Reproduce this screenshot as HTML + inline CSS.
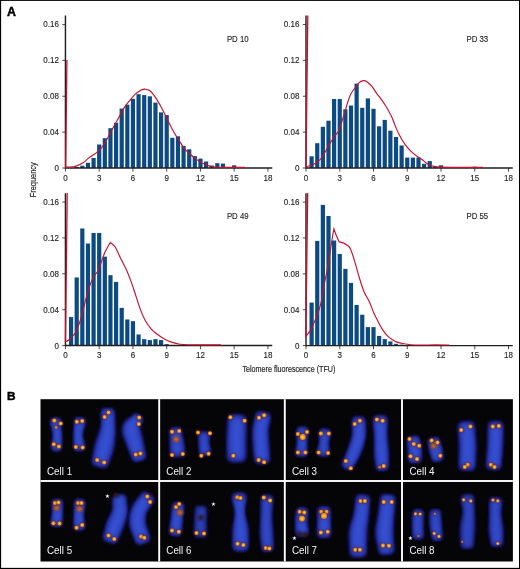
<!DOCTYPE html>
<html><head><meta charset="utf-8"><title>Figure</title>
<style>html,body{margin:0;padding:0;background:#fff}svg{display:block}text{font-family:"Liberation Sans",sans-serif}</style>
</head><body>
<svg width="520" height="569" viewBox="0 0 520 569">
<defs>
<filter id="b1" x="-50%" y="-50%" width="200%" height="200%"><feGaussianBlur stdDeviation="1.5"/></filter>
<filter id="b4" x="-50%" y="-50%" width="200%" height="200%"><feGaussianBlur stdDeviation="2"/></filter>
<filter id="b2" x="-100%" y="-100%" width="300%" height="300%"><feGaussianBlur stdDeviation="0.7"/></filter>
<filter id="b5" x="-100%" y="-100%" width="300%" height="300%"><feGaussianBlur stdDeviation="1.0"/></filter>
<filter id="b3" x="-50%" y="-50%" width="200%" height="200%"><feGaussianBlur stdDeviation="0.35"/></filter>
</defs>
<rect x="0" y="0" width="520" height="569" fill="#fff"/>
<rect x="0" y="0" width="1.1" height="569" fill="#000"/>
<rect x="0" y="0" width="520" height="0.9" fill="#000"/>
<rect x="519" y="0" width="1" height="569" fill="#000"/>
<rect x="0" y="567.85" width="520" height="1.15" fill="#000"/>
<text x="6.9" y="15.6" font-size="12.4" font-weight="bold" fill="#000" stroke="#000" stroke-width="0.45">A</text>
<text x="6.9" y="399.6" font-size="11.8" font-weight="bold" fill="#000" stroke="#000" stroke-width="0.45">B</text>
<g>
<rect x="74.60" y="167.00" width="4.2" height="1.00" fill="#0c4a83"/>
<rect x="80.23" y="165.70" width="4.2" height="2.30" fill="#0c4a83"/>
<rect x="85.85" y="162.80" width="4.2" height="5.20" fill="#0c4a83"/>
<rect x="91.48" y="158.00" width="4.2" height="10.00" fill="#0c4a83"/>
<rect x="97.10" y="144.50" width="4.2" height="23.50" fill="#0c4a83"/>
<rect x="102.73" y="138.20" width="4.2" height="29.80" fill="#0c4a83"/>
<rect x="108.35" y="128.20" width="4.2" height="39.80" fill="#0c4a83"/>
<rect x="113.98" y="122.80" width="4.2" height="45.20" fill="#0c4a83"/>
<rect x="119.60" y="108.60" width="4.2" height="59.40" fill="#0c4a83"/>
<rect x="125.23" y="104.70" width="4.2" height="63.30" fill="#0c4a83"/>
<rect x="130.85" y="98.80" width="4.2" height="69.20" fill="#0c4a83"/>
<rect x="136.47" y="94.20" width="4.2" height="73.80" fill="#0c4a83"/>
<rect x="142.10" y="95.10" width="4.2" height="72.90" fill="#0c4a83"/>
<rect x="147.72" y="96.30" width="4.2" height="71.70" fill="#0c4a83"/>
<rect x="153.35" y="102.60" width="4.2" height="65.40" fill="#0c4a83"/>
<rect x="158.97" y="112.40" width="4.2" height="55.60" fill="#0c4a83"/>
<rect x="164.60" y="115.10" width="4.2" height="52.90" fill="#0c4a83"/>
<rect x="170.22" y="137.80" width="4.2" height="30.20" fill="#0c4a83"/>
<rect x="175.85" y="136.30" width="4.2" height="31.70" fill="#0c4a83"/>
<rect x="181.47" y="145.90" width="4.2" height="22.10" fill="#0c4a83"/>
<rect x="187.10" y="149.30" width="4.2" height="18.70" fill="#0c4a83"/>
<rect x="192.72" y="156.10" width="4.2" height="11.90" fill="#0c4a83"/>
<rect x="198.35" y="158.60" width="4.2" height="9.40" fill="#0c4a83"/>
<rect x="203.97" y="161.50" width="4.2" height="6.50" fill="#0c4a83"/>
<rect x="209.60" y="165.50" width="4.2" height="2.50" fill="#0c4a83"/>
<rect x="215.22" y="163.20" width="4.2" height="4.80" fill="#0c4a83"/>
<rect x="220.85" y="163.60" width="4.2" height="4.40" fill="#0c4a83"/>
<rect x="232.10" y="165.30" width="4.2" height="2.70" fill="#0c4a83"/>
<path d="M65.45,15.60 V168.00 H272.25" fill="none" stroke="#231f20" stroke-width="1.45"/>
<line x1="62.25" y1="168.00" x2="65.45" y2="168.00" stroke="#231f20" stroke-width="0.8"/>
<text transform="translate(58.85,171.00) scale(0.87,1)" font-size="9.2" text-anchor="end" fill="#231f20" stroke="#231f20" stroke-width="0.15">0</text>
<line x1="62.25" y1="132.12" x2="65.45" y2="132.12" stroke="#231f20" stroke-width="0.8"/>
<text transform="translate(58.85,135.12) scale(0.87,1)" font-size="9.2" text-anchor="end" fill="#231f20" stroke="#231f20" stroke-width="0.15">0.04</text>
<line x1="62.25" y1="96.24" x2="65.45" y2="96.24" stroke="#231f20" stroke-width="0.8"/>
<text transform="translate(58.85,99.24) scale(0.87,1)" font-size="9.2" text-anchor="end" fill="#231f20" stroke="#231f20" stroke-width="0.15">0.08</text>
<line x1="62.25" y1="60.36" x2="65.45" y2="60.36" stroke="#231f20" stroke-width="0.8"/>
<text transform="translate(58.85,63.36) scale(0.87,1)" font-size="9.2" text-anchor="end" fill="#231f20" stroke="#231f20" stroke-width="0.15">0.12</text>
<line x1="62.25" y1="24.48" x2="65.45" y2="24.48" stroke="#231f20" stroke-width="0.8"/>
<text transform="translate(58.85,27.48) scale(0.87,1)" font-size="9.2" text-anchor="end" fill="#231f20" stroke="#231f20" stroke-width="0.15">0.16</text>
<line x1="65.45" y1="168.00" x2="65.45" y2="171.60" stroke="#231f20" stroke-width="0.8"/>
<text transform="translate(65.45,180.80) scale(0.87,1)" font-size="9.2" text-anchor="middle" fill="#231f20" stroke="#231f20" stroke-width="0.15">0</text>
<line x1="99.20" y1="168.00" x2="99.20" y2="171.60" stroke="#231f20" stroke-width="0.8"/>
<text transform="translate(99.20,180.80) scale(0.87,1)" font-size="9.2" text-anchor="middle" fill="#231f20" stroke="#231f20" stroke-width="0.15">3</text>
<line x1="132.95" y1="168.00" x2="132.95" y2="171.60" stroke="#231f20" stroke-width="0.8"/>
<text transform="translate(132.95,180.80) scale(0.87,1)" font-size="9.2" text-anchor="middle" fill="#231f20" stroke="#231f20" stroke-width="0.15">6</text>
<line x1="166.70" y1="168.00" x2="166.70" y2="171.60" stroke="#231f20" stroke-width="0.8"/>
<text transform="translate(166.70,180.80) scale(0.87,1)" font-size="9.2" text-anchor="middle" fill="#231f20" stroke="#231f20" stroke-width="0.15">9</text>
<line x1="200.45" y1="168.00" x2="200.45" y2="171.60" stroke="#231f20" stroke-width="0.8"/>
<text transform="translate(200.45,180.80) scale(0.87,1)" font-size="9.2" text-anchor="middle" fill="#231f20" stroke="#231f20" stroke-width="0.15">12</text>
<line x1="234.20" y1="168.00" x2="234.20" y2="171.60" stroke="#231f20" stroke-width="0.8"/>
<text transform="translate(234.20,180.80) scale(0.87,1)" font-size="9.2" text-anchor="middle" fill="#231f20" stroke="#231f20" stroke-width="0.15">15</text>
<line x1="267.95" y1="168.00" x2="267.95" y2="171.60" stroke="#231f20" stroke-width="0.8"/>
<text transform="translate(267.95,180.80) scale(0.87,1)" font-size="9.2" text-anchor="middle" fill="#231f20" stroke="#231f20" stroke-width="0.15">18</text>
<line x1="66.90" y1="60.10" x2="65.70" y2="167.20" stroke="#c8102e" stroke-width="1.3" stroke-linecap="butt"/>
<path d="M65.70,167.20 C66.50,167.17 68.89,167.14 70.50,167.00 C72.11,166.86 73.29,167.06 75.38,166.35 C77.48,165.63 80.83,164.10 83.08,162.69 C85.32,161.28 86.92,159.33 88.85,157.88 C90.77,156.44 92.69,155.48 94.62,154.04 C96.54,152.60 98.46,151.47 100.38,149.23 C102.31,146.99 104.23,143.78 106.15,140.58 C108.08,137.37 110.00,133.53 111.92,130.00 C113.85,126.47 115.77,122.95 117.69,119.42 C119.62,115.90 121.54,111.89 123.46,108.85 C125.38,105.80 127.31,103.56 129.23,101.15 C131.15,98.75 133.08,96.25 135.00,94.42 C136.92,92.60 139.17,91.09 140.77,90.19 C142.37,89.29 144.04,89.23 144.62,89.04 C145.19,88.85 143.40,88.78 144.23,89.04 C145.06,89.29 147.76,89.20 149.62,90.58 C151.47,91.96 153.46,94.58 155.38,97.31 C157.31,100.03 159.23,103.40 161.15,106.92 C163.08,110.45 165.00,114.62 166.92,118.46 C168.85,122.31 170.77,126.47 172.69,130.00 C174.62,133.53 176.54,136.57 178.46,139.62 C180.38,142.66 182.31,145.87 184.23,148.27 C186.15,150.67 188.08,152.28 190.00,154.04 C191.92,155.80 193.85,157.40 195.77,158.85 C197.69,160.29 199.62,161.63 201.54,162.69 C203.46,163.75 205.38,164.52 207.31,165.19 C209.23,165.87 211.15,166.39 213.08,166.73 C215.00,167.07 216.60,167.12 218.85,167.21 C221.09,167.31 222.21,167.29 226.54,167.31 C230.87,167.32 241.76,167.31 244.81,167.31" fill="none" stroke="#c8102e" stroke-width="1.15" stroke-linejoin="miter" stroke-linecap="round"/>
<text transform="translate(226.90,41.50) scale(0.85,1)" font-size="9.2" fill="#231f20" stroke="#231f20" stroke-width="0.15">PD 10</text>
</g>
<g>
<rect x="309.52" y="156.30" width="4.2" height="11.70" fill="#0c4a83"/>
<rect x="315.15" y="143.20" width="4.2" height="24.80" fill="#0c4a83"/>
<rect x="320.77" y="126.80" width="4.2" height="41.20" fill="#0c4a83"/>
<rect x="326.40" y="120.70" width="4.2" height="47.30" fill="#0c4a83"/>
<rect x="332.02" y="99.00" width="4.2" height="69.00" fill="#0c4a83"/>
<rect x="337.65" y="99.00" width="4.2" height="69.00" fill="#0c4a83"/>
<rect x="343.27" y="109.30" width="4.2" height="58.70" fill="#0c4a83"/>
<rect x="348.90" y="105.50" width="4.2" height="62.50" fill="#0c4a83"/>
<rect x="354.52" y="83.60" width="4.2" height="84.40" fill="#0c4a83"/>
<rect x="360.15" y="107.80" width="4.2" height="60.20" fill="#0c4a83"/>
<rect x="365.77" y="98.40" width="4.2" height="69.60" fill="#0c4a83"/>
<rect x="371.40" y="108.80" width="4.2" height="59.20" fill="#0c4a83"/>
<rect x="377.02" y="126.30" width="4.2" height="41.70" fill="#0c4a83"/>
<rect x="382.65" y="119.90" width="4.2" height="48.10" fill="#0c4a83"/>
<rect x="388.27" y="130.70" width="4.2" height="37.30" fill="#0c4a83"/>
<rect x="393.90" y="137.00" width="4.2" height="31.00" fill="#0c4a83"/>
<rect x="399.52" y="145.50" width="4.2" height="22.50" fill="#0c4a83"/>
<rect x="405.15" y="157.60" width="4.2" height="10.40" fill="#0c4a83"/>
<rect x="410.77" y="157.60" width="4.2" height="10.40" fill="#0c4a83"/>
<rect x="416.40" y="157.60" width="4.2" height="10.40" fill="#0c4a83"/>
<rect x="422.02" y="163.80" width="4.2" height="4.20" fill="#0c4a83"/>
<rect x="427.65" y="161.10" width="4.2" height="6.90" fill="#0c4a83"/>
<rect x="433.27" y="166.70" width="4.2" height="1.30" fill="#0c4a83"/>
<rect x="438.90" y="165.30" width="4.2" height="2.70" fill="#0c4a83"/>
<rect x="450.15" y="167.00" width="4.2" height="1.00" fill="#0c4a83"/>
<rect x="472.65" y="166.70" width="4.2" height="1.30" fill="#0c4a83"/>
<path d="M306.00,15.60 V168.00 H512.80" fill="none" stroke="#231f20" stroke-width="1.45"/>
<line x1="302.80" y1="168.00" x2="306.00" y2="168.00" stroke="#231f20" stroke-width="0.8"/>
<text transform="translate(299.40,171.00) scale(0.87,1)" font-size="9.2" text-anchor="end" fill="#231f20" stroke="#231f20" stroke-width="0.15">0</text>
<line x1="302.80" y1="132.12" x2="306.00" y2="132.12" stroke="#231f20" stroke-width="0.8"/>
<text transform="translate(299.40,135.12) scale(0.87,1)" font-size="9.2" text-anchor="end" fill="#231f20" stroke="#231f20" stroke-width="0.15">0.04</text>
<line x1="302.80" y1="96.24" x2="306.00" y2="96.24" stroke="#231f20" stroke-width="0.8"/>
<text transform="translate(299.40,99.24) scale(0.87,1)" font-size="9.2" text-anchor="end" fill="#231f20" stroke="#231f20" stroke-width="0.15">0.08</text>
<line x1="302.80" y1="60.36" x2="306.00" y2="60.36" stroke="#231f20" stroke-width="0.8"/>
<text transform="translate(299.40,63.36) scale(0.87,1)" font-size="9.2" text-anchor="end" fill="#231f20" stroke="#231f20" stroke-width="0.15">0.12</text>
<line x1="302.80" y1="24.48" x2="306.00" y2="24.48" stroke="#231f20" stroke-width="0.8"/>
<text transform="translate(299.40,27.48) scale(0.87,1)" font-size="9.2" text-anchor="end" fill="#231f20" stroke="#231f20" stroke-width="0.15">0.16</text>
<line x1="306.00" y1="168.00" x2="306.00" y2="171.60" stroke="#231f20" stroke-width="0.8"/>
<text transform="translate(306.00,180.80) scale(0.87,1)" font-size="9.2" text-anchor="middle" fill="#231f20" stroke="#231f20" stroke-width="0.15">0</text>
<line x1="339.75" y1="168.00" x2="339.75" y2="171.60" stroke="#231f20" stroke-width="0.8"/>
<text transform="translate(339.75,180.80) scale(0.87,1)" font-size="9.2" text-anchor="middle" fill="#231f20" stroke="#231f20" stroke-width="0.15">3</text>
<line x1="373.50" y1="168.00" x2="373.50" y2="171.60" stroke="#231f20" stroke-width="0.8"/>
<text transform="translate(373.50,180.80) scale(0.87,1)" font-size="9.2" text-anchor="middle" fill="#231f20" stroke="#231f20" stroke-width="0.15">6</text>
<line x1="407.25" y1="168.00" x2="407.25" y2="171.60" stroke="#231f20" stroke-width="0.8"/>
<text transform="translate(407.25,180.80) scale(0.87,1)" font-size="9.2" text-anchor="middle" fill="#231f20" stroke="#231f20" stroke-width="0.15">9</text>
<line x1="441.00" y1="168.00" x2="441.00" y2="171.60" stroke="#231f20" stroke-width="0.8"/>
<text transform="translate(441.00,180.80) scale(0.87,1)" font-size="9.2" text-anchor="middle" fill="#231f20" stroke="#231f20" stroke-width="0.15">12</text>
<line x1="474.75" y1="168.00" x2="474.75" y2="171.60" stroke="#231f20" stroke-width="0.8"/>
<text transform="translate(474.75,180.80) scale(0.87,1)" font-size="9.2" text-anchor="middle" fill="#231f20" stroke="#231f20" stroke-width="0.15">15</text>
<line x1="508.50" y1="168.00" x2="508.50" y2="171.60" stroke="#231f20" stroke-width="0.8"/>
<text transform="translate(508.50,180.80) scale(0.87,1)" font-size="9.2" text-anchor="middle" fill="#231f20" stroke="#231f20" stroke-width="0.15">18</text>
<line x1="307.80" y1="15.40" x2="306.00" y2="166.60" stroke="#c8102e" stroke-width="1.3" stroke-linecap="butt"/>
<path d="M306.00,166.60 C306.50,166.50 308.00,166.23 309.00,166.00 C310.00,165.77 311.00,165.60 312.00,165.20 C313.00,164.80 314.00,164.22 315.00,163.60 C316.00,162.98 317.00,162.35 318.00,161.50 C319.00,160.65 320.00,159.75 321.00,158.50 C322.00,157.25 322.69,156.19 324.00,154.00 C325.31,151.81 327.24,148.10 328.85,145.38 C330.46,142.67 332.05,140.10 333.65,137.69 C335.26,135.29 337.18,133.37 338.46,130.96 C339.74,128.56 340.22,126.63 341.35,123.27 C342.47,119.90 344.07,114.46 345.19,110.77 C346.31,107.08 347.12,103.97 348.08,101.15 C349.04,98.33 349.68,96.25 350.96,93.85 C352.24,91.44 354.33,88.65 355.77,86.73 C357.21,84.81 358.33,83.33 359.62,82.31 C360.90,81.28 362.18,80.64 363.46,80.58 C364.74,80.51 365.87,80.90 367.31,81.92 C368.75,82.95 370.51,84.74 372.12,86.73 C373.72,88.72 375.61,92.02 376.92,93.85 C378.24,95.67 378.53,95.67 380.00,97.69 C381.47,99.71 383.85,102.82 385.77,105.96 C387.69,109.10 389.94,113.17 391.54,116.54 C393.14,119.90 394.10,123.11 395.38,126.15 C396.67,129.20 397.63,131.76 399.23,134.81 C400.83,137.85 403.08,141.70 405.00,144.42 C406.92,147.15 408.85,149.23 410.77,151.15 C412.69,153.08 414.62,154.52 416.54,155.96 C418.46,157.40 420.38,158.43 422.31,159.81 C424.23,161.19 426.15,163.14 428.08,164.23 C430.00,165.32 431.60,165.87 433.85,166.35 C436.09,166.83 437.69,166.96 441.54,167.12 C445.38,167.28 450.10,167.28 456.92,167.31 C463.75,167.34 478.24,167.31 482.50,167.31" fill="none" stroke="#c8102e" stroke-width="1.15" stroke-linejoin="miter" stroke-linecap="round"/>
<text transform="translate(466.50,41.50) scale(0.85,1)" font-size="9.2" fill="#231f20" stroke="#231f20" stroke-width="0.15">PD 33</text>
</g>
<g>
<rect x="68.98" y="317.05" width="4.2" height="28.50" fill="#0c4a83"/>
<rect x="74.60" y="277.45" width="4.2" height="68.10" fill="#0c4a83"/>
<rect x="80.23" y="228.45" width="4.2" height="117.10" fill="#0c4a83"/>
<rect x="85.85" y="243.55" width="4.2" height="102.00" fill="#0c4a83"/>
<rect x="91.48" y="232.95" width="4.2" height="112.60" fill="#0c4a83"/>
<rect x="97.10" y="232.95" width="4.2" height="112.60" fill="#0c4a83"/>
<rect x="102.73" y="256.65" width="4.2" height="88.90" fill="#0c4a83"/>
<rect x="108.35" y="275.15" width="4.2" height="70.40" fill="#0c4a83"/>
<rect x="113.98" y="281.95" width="4.2" height="63.60" fill="#0c4a83"/>
<rect x="119.60" y="307.85" width="4.2" height="37.70" fill="#0c4a83"/>
<rect x="125.23" y="319.45" width="4.2" height="26.10" fill="#0c4a83"/>
<rect x="130.85" y="321.15" width="4.2" height="24.40" fill="#0c4a83"/>
<rect x="136.47" y="334.45" width="4.2" height="11.10" fill="#0c4a83"/>
<rect x="142.10" y="339.15" width="4.2" height="6.40" fill="#0c4a83"/>
<rect x="147.72" y="340.05" width="4.2" height="5.50" fill="#0c4a83"/>
<rect x="153.35" y="339.15" width="4.2" height="6.40" fill="#0c4a83"/>
<rect x="158.97" y="340.05" width="4.2" height="5.50" fill="#0c4a83"/>
<rect x="164.60" y="344.15" width="4.2" height="1.40" fill="#0c4a83"/>
<path d="M65.45,193.15 V345.55 H272.25" fill="none" stroke="#231f20" stroke-width="1.45"/>
<line x1="62.25" y1="345.55" x2="65.45" y2="345.55" stroke="#231f20" stroke-width="0.8"/>
<text transform="translate(58.85,348.55) scale(0.87,1)" font-size="9.2" text-anchor="end" fill="#231f20" stroke="#231f20" stroke-width="0.15">0</text>
<line x1="62.25" y1="309.67" x2="65.45" y2="309.67" stroke="#231f20" stroke-width="0.8"/>
<text transform="translate(58.85,312.67) scale(0.87,1)" font-size="9.2" text-anchor="end" fill="#231f20" stroke="#231f20" stroke-width="0.15">0.04</text>
<line x1="62.25" y1="273.79" x2="65.45" y2="273.79" stroke="#231f20" stroke-width="0.8"/>
<text transform="translate(58.85,276.79) scale(0.87,1)" font-size="9.2" text-anchor="end" fill="#231f20" stroke="#231f20" stroke-width="0.15">0.08</text>
<line x1="62.25" y1="237.91" x2="65.45" y2="237.91" stroke="#231f20" stroke-width="0.8"/>
<text transform="translate(58.85,240.91) scale(0.87,1)" font-size="9.2" text-anchor="end" fill="#231f20" stroke="#231f20" stroke-width="0.15">0.12</text>
<line x1="62.25" y1="202.03" x2="65.45" y2="202.03" stroke="#231f20" stroke-width="0.8"/>
<text transform="translate(58.85,205.03) scale(0.87,1)" font-size="9.2" text-anchor="end" fill="#231f20" stroke="#231f20" stroke-width="0.15">0.16</text>
<line x1="65.45" y1="345.55" x2="65.45" y2="349.15" stroke="#231f20" stroke-width="0.8"/>
<text transform="translate(65.45,358.35) scale(0.87,1)" font-size="9.2" text-anchor="middle" fill="#231f20" stroke="#231f20" stroke-width="0.15">0</text>
<line x1="99.20" y1="345.55" x2="99.20" y2="349.15" stroke="#231f20" stroke-width="0.8"/>
<text transform="translate(99.20,358.35) scale(0.87,1)" font-size="9.2" text-anchor="middle" fill="#231f20" stroke="#231f20" stroke-width="0.15">3</text>
<line x1="132.95" y1="345.55" x2="132.95" y2="349.15" stroke="#231f20" stroke-width="0.8"/>
<text transform="translate(132.95,358.35) scale(0.87,1)" font-size="9.2" text-anchor="middle" fill="#231f20" stroke="#231f20" stroke-width="0.15">6</text>
<line x1="166.70" y1="345.55" x2="166.70" y2="349.15" stroke="#231f20" stroke-width="0.8"/>
<text transform="translate(166.70,358.35) scale(0.87,1)" font-size="9.2" text-anchor="middle" fill="#231f20" stroke="#231f20" stroke-width="0.15">9</text>
<line x1="200.45" y1="345.55" x2="200.45" y2="349.15" stroke="#231f20" stroke-width="0.8"/>
<text transform="translate(200.45,358.35) scale(0.87,1)" font-size="9.2" text-anchor="middle" fill="#231f20" stroke="#231f20" stroke-width="0.15">12</text>
<line x1="234.20" y1="345.55" x2="234.20" y2="349.15" stroke="#231f20" stroke-width="0.8"/>
<text transform="translate(234.20,358.35) scale(0.87,1)" font-size="9.2" text-anchor="middle" fill="#231f20" stroke="#231f20" stroke-width="0.15">15</text>
<line x1="267.95" y1="345.55" x2="267.95" y2="349.15" stroke="#231f20" stroke-width="0.8"/>
<text transform="translate(267.95,358.35) scale(0.87,1)" font-size="9.2" text-anchor="middle" fill="#231f20" stroke="#231f20" stroke-width="0.15">18</text>
<line x1="67.20" y1="193.10" x2="65.50" y2="341.70" stroke="#c8102e" stroke-width="1.3" stroke-linecap="butt"/>
<path d="M65.50,341.70 C66.00,341.47 67.37,341.17 68.50,340.30 C69.63,339.43 71.05,337.97 72.30,336.50 C73.55,335.03 74.49,334.71 76.00,331.50 C77.51,328.29 79.66,322.77 81.34,317.23 C83.02,311.68 84.50,303.99 86.08,298.25 C87.67,292.52 89.44,286.60 90.83,282.84 C92.21,279.09 93.20,277.70 94.38,275.73 C95.57,273.75 96.76,273.36 97.94,270.98 C99.13,268.61 100.31,264.66 101.50,261.50 C102.68,258.34 103.59,255.18 105.06,252.01 C106.52,248.85 109.40,244.11 110.27,242.53 C111.06,243.24 113.32,244.23 115.02,246.80 C116.71,249.37 118.57,254.11 120.47,257.94 C122.37,261.78 124.62,265.85 126.40,269.80 C128.18,273.75 129.56,277.31 131.14,281.66 C132.72,286.00 134.30,291.14 135.88,295.88 C137.46,300.63 139.05,305.96 140.63,310.11 C142.21,314.26 143.59,317.62 145.37,320.78 C147.15,323.94 149.32,326.83 151.30,329.08 C153.27,331.34 155.05,332.64 157.23,334.30 C159.40,335.96 161.97,337.74 164.34,339.04 C166.71,340.35 168.88,341.26 171.45,342.12 C174.02,342.99 176.66,343.81 179.75,344.26 C182.84,344.70 185.79,344.69 190.00,344.80 C194.21,344.91 199.92,344.88 205.00,344.90 C210.08,344.92 217.92,344.90 220.50,344.90" fill="none" stroke="#c8102e" stroke-width="1.15" stroke-linejoin="miter" stroke-linecap="round"/>
<text transform="translate(226.90,219.20) scale(0.85,1)" font-size="9.2" fill="#231f20" stroke="#231f20" stroke-width="0.15">PD 49</text>
</g>
<g>
<rect x="309.52" y="302.60" width="4.2" height="43.00" fill="#0c4a83"/>
<rect x="315.15" y="240.90" width="4.2" height="104.70" fill="#0c4a83"/>
<rect x="320.77" y="204.90" width="4.2" height="140.70" fill="#0c4a83"/>
<rect x="326.40" y="216.00" width="4.2" height="129.60" fill="#0c4a83"/>
<rect x="332.02" y="240.50" width="4.2" height="105.10" fill="#0c4a83"/>
<rect x="337.65" y="254.00" width="4.2" height="91.60" fill="#0c4a83"/>
<rect x="343.27" y="268.90" width="4.2" height="76.70" fill="#0c4a83"/>
<rect x="348.90" y="282.90" width="4.2" height="62.70" fill="#0c4a83"/>
<rect x="354.52" y="305.00" width="4.2" height="40.60" fill="#0c4a83"/>
<rect x="360.15" y="314.70" width="4.2" height="30.90" fill="#0c4a83"/>
<rect x="365.77" y="327.10" width="4.2" height="18.50" fill="#0c4a83"/>
<rect x="371.40" y="327.10" width="4.2" height="18.50" fill="#0c4a83"/>
<rect x="377.02" y="335.90" width="4.2" height="9.70" fill="#0c4a83"/>
<rect x="382.65" y="339.10" width="4.2" height="6.50" fill="#0c4a83"/>
<rect x="388.27" y="341.40" width="4.2" height="4.20" fill="#0c4a83"/>
<rect x="393.90" y="343.80" width="4.2" height="1.80" fill="#0c4a83"/>
<rect x="399.52" y="344.60" width="4.2" height="1.00" fill="#0c4a83"/>
<rect x="405.15" y="344.90" width="4.2" height="0.70" fill="#0c4a83"/>
<path d="M306.00,193.20 V345.60 H512.80" fill="none" stroke="#231f20" stroke-width="1.45"/>
<line x1="302.80" y1="345.60" x2="306.00" y2="345.60" stroke="#231f20" stroke-width="0.8"/>
<text transform="translate(299.40,348.60) scale(0.87,1)" font-size="9.2" text-anchor="end" fill="#231f20" stroke="#231f20" stroke-width="0.15">0</text>
<line x1="302.80" y1="309.72" x2="306.00" y2="309.72" stroke="#231f20" stroke-width="0.8"/>
<text transform="translate(299.40,312.72) scale(0.87,1)" font-size="9.2" text-anchor="end" fill="#231f20" stroke="#231f20" stroke-width="0.15">0.04</text>
<line x1="302.80" y1="273.84" x2="306.00" y2="273.84" stroke="#231f20" stroke-width="0.8"/>
<text transform="translate(299.40,276.84) scale(0.87,1)" font-size="9.2" text-anchor="end" fill="#231f20" stroke="#231f20" stroke-width="0.15">0.08</text>
<line x1="302.80" y1="237.96" x2="306.00" y2="237.96" stroke="#231f20" stroke-width="0.8"/>
<text transform="translate(299.40,240.96) scale(0.87,1)" font-size="9.2" text-anchor="end" fill="#231f20" stroke="#231f20" stroke-width="0.15">0.12</text>
<line x1="302.80" y1="202.08" x2="306.00" y2="202.08" stroke="#231f20" stroke-width="0.8"/>
<text transform="translate(299.40,205.08) scale(0.87,1)" font-size="9.2" text-anchor="end" fill="#231f20" stroke="#231f20" stroke-width="0.15">0.16</text>
<line x1="306.00" y1="345.60" x2="306.00" y2="349.20" stroke="#231f20" stroke-width="0.8"/>
<text transform="translate(306.00,358.40) scale(0.87,1)" font-size="9.2" text-anchor="middle" fill="#231f20" stroke="#231f20" stroke-width="0.15">0</text>
<line x1="339.75" y1="345.60" x2="339.75" y2="349.20" stroke="#231f20" stroke-width="0.8"/>
<text transform="translate(339.75,358.40) scale(0.87,1)" font-size="9.2" text-anchor="middle" fill="#231f20" stroke="#231f20" stroke-width="0.15">3</text>
<line x1="373.50" y1="345.60" x2="373.50" y2="349.20" stroke="#231f20" stroke-width="0.8"/>
<text transform="translate(373.50,358.40) scale(0.87,1)" font-size="9.2" text-anchor="middle" fill="#231f20" stroke="#231f20" stroke-width="0.15">6</text>
<line x1="407.25" y1="345.60" x2="407.25" y2="349.20" stroke="#231f20" stroke-width="0.8"/>
<text transform="translate(407.25,358.40) scale(0.87,1)" font-size="9.2" text-anchor="middle" fill="#231f20" stroke="#231f20" stroke-width="0.15">9</text>
<line x1="441.00" y1="345.60" x2="441.00" y2="349.20" stroke="#231f20" stroke-width="0.8"/>
<text transform="translate(441.00,358.40) scale(0.87,1)" font-size="9.2" text-anchor="middle" fill="#231f20" stroke="#231f20" stroke-width="0.15">12</text>
<line x1="474.75" y1="345.60" x2="474.75" y2="349.20" stroke="#231f20" stroke-width="0.8"/>
<text transform="translate(474.75,358.40) scale(0.87,1)" font-size="9.2" text-anchor="middle" fill="#231f20" stroke="#231f20" stroke-width="0.15">15</text>
<line x1="508.50" y1="345.60" x2="508.50" y2="349.20" stroke="#231f20" stroke-width="0.8"/>
<text transform="translate(508.50,358.40) scale(0.87,1)" font-size="9.2" text-anchor="middle" fill="#231f20" stroke="#231f20" stroke-width="0.15">18</text>
<line x1="307.70" y1="193.10" x2="305.80" y2="336.50" stroke="#c8102e" stroke-width="1.3" stroke-linecap="butt"/>
<path d="M305.80,336.50 C306.56,335.48 308.66,333.52 310.39,330.39 C312.11,327.25 314.42,322.12 316.16,317.69 C317.89,313.27 319.51,308.97 320.77,303.85 C322.03,298.73 322.43,293.73 323.71,286.97 C324.99,280.20 327.07,271.16 328.46,263.25 C329.84,255.35 331.10,245.27 332.01,239.54 C332.92,233.81 333.59,230.65 333.91,228.87 C334.27,229.86 335.18,232.62 336.04,234.80 C336.91,236.97 338.61,240.73 339.13,241.91 C339.92,242.11 342.49,242.51 343.87,243.10 C345.25,243.69 346.32,244.48 347.43,245.47 C348.53,246.46 349.32,246.46 350.51,249.03 C351.70,251.60 353.08,256.14 354.54,260.88 C356.00,265.63 357.70,272.34 359.28,277.48 C360.86,282.62 362.37,287.70 364.03,291.71 C365.69,295.72 367.60,297.98 369.24,301.54 C370.87,305.10 372.31,309.62 373.85,313.08 C375.39,316.54 376.93,319.43 378.47,322.31 C380.01,325.20 381.54,328.08 383.08,330.39 C384.62,332.70 386.16,334.62 387.70,336.16 C389.24,337.70 390.78,338.62 392.31,339.62 C393.85,340.62 395.01,341.47 396.93,342.16 C398.85,342.85 401.55,343.35 403.85,343.77 C406.16,344.20 408.09,344.48 410.78,344.70 C413.47,344.91 415.97,345.01 420.01,345.04 C424.05,345.08 430.17,344.91 435.00,344.90 C439.83,344.89 446.67,344.98 449.00,345.00" fill="none" stroke="#c8102e" stroke-width="1.15" stroke-linejoin="miter" stroke-linecap="round"/>
<text transform="translate(466.50,219.20) scale(0.85,1)" font-size="9.2" fill="#231f20" stroke="#231f20" stroke-width="0.15">PD 55</text>
</g>
<text x="242.4" y="371.6" font-size="9.8" fill="#231f20" stroke="#231f20" stroke-width="0.2" textLength="93" lengthAdjust="spacingAndGlyphs">Telomere fluorescence (TFU)</text>
<text transform="translate(36.4,197.3) rotate(-90)" font-size="9.8" fill="#231f20" stroke="#231f20" stroke-width="0.2" textLength="35" lengthAdjust="spacingAndGlyphs">Frequency</text>
<rect x="40.50" y="399.20" width="472.40" height="162.30" fill="#050507"/>
<g>
<path d="M50.5,423.7 L50.6,424.4 L50.9,425.4 L51.2,426.5 L51.5,427.7 L51.9,429.0 L52.2,430.3 L52.5,431.6 L52.7,432.9 L52.9,434.1 L53.0,435.1 L53.0,436.1 L52.9,437.2 L52.8,438.4 L52.6,439.6 L52.3,440.8 L52.1,442.0 L51.9,443.0 L51.7,444.0 L51.5,444.9 L51.4,445.6 L51.3,447.9 L51.5,449.1 L52.0,449.9 L52.8,450.6 L53.9,451.0 L56.2,451.3 L58.6,451.3 L59.7,451.1 L60.6,450.6 L61.2,449.9 L61.6,448.7 L61.9,446.4 L61.9,445.8 L61.8,445.0 L61.8,444.0 L61.8,442.9 L61.8,441.6 L61.8,440.3 L61.7,438.9 L61.7,437.5 L61.7,436.1 L61.6,434.8 L61.6,433.4 L61.5,431.9 L61.4,430.4 L61.3,429.0 L61.2,427.5 L61.1,426.1 L61.1,424.9 L61.0,423.7 L61.0,422.8 L60.9,422.2 L60.5,419.8 L60.0,418.8 L59.3,418.1 L58.4,417.6 L57.3,417.5 L54.9,417.7 L52.6,418.2 L51.5,418.6 L50.8,419.3 L50.4,420.2 L50.2,421.4Z" fill="#1e1e84" filter="url(#b1)" opacity="1.0"/>
<path d="M51.7,423.5 L51.8,424.3 L52.1,425.2 L52.3,426.3 L52.6,427.5 L52.9,428.8 L53.2,430.1 L53.5,431.5 L53.7,432.8 L53.9,434.0 L54.0,435.1 L54.0,436.1 L53.9,437.3 L53.8,438.5 L53.6,439.7 L53.4,440.9 L53.2,442.1 L53.0,443.1 L52.8,444.1 L52.7,445.0 L52.6,445.7 L52.5,447.5 L52.7,448.4 L53.1,449.0 L53.7,449.5 L54.5,449.8 L56.3,450.1 L58.1,450.1 L59.0,449.9 L59.6,449.6 L60.1,449.0 L60.4,448.1 L60.7,446.3 L60.7,445.7 L60.7,444.9 L60.7,443.9 L60.7,442.8 L60.7,441.5 L60.7,440.2 L60.7,438.9 L60.7,437.5 L60.7,436.1 L60.6,434.8 L60.6,433.4 L60.5,432.0 L60.4,430.6 L60.3,429.1 L60.1,427.7 L60.0,426.3 L59.9,425.0 L59.8,423.9 L59.8,423.0 L59.7,422.3 L59.4,420.6 L59.0,419.7 L58.5,419.2 L57.8,418.8 L56.9,418.7 L55.1,418.9 L53.3,419.3 L52.5,419.6 L51.9,420.1 L51.6,420.8 L51.5,421.7Z" fill="#2a3cb6" filter="url(#b1)" opacity="1.0"/>
<path d="M53.2,423.3 L53.3,424.0 L53.5,425.0 L53.8,426.1 L54.0,427.3 L54.3,428.6 L54.6,429.9 L54.8,431.3 L55.0,432.6 L55.2,433.9 L55.2,435.0 L55.2,436.1 L55.2,437.3 L55.1,438.5 L55.0,439.8 L54.8,441.0 L54.6,442.2 L54.5,443.3 L54.3,444.3 L54.2,445.1 L54.1,445.8 L54.0,446.9 L54.2,447.5 L54.4,447.9 L54.8,448.2 L55.3,448.4 L56.4,448.5 L57.5,448.6 L58.1,448.5 L58.5,448.2 L58.8,447.9 L59.0,447.3 L59.1,446.2 L59.2,445.6 L59.2,444.8 L59.2,443.8 L59.3,442.6 L59.3,441.4 L59.4,440.1 L59.4,438.8 L59.4,437.4 L59.4,436.1 L59.4,434.8 L59.3,433.5 L59.2,432.2 L59.1,430.7 L58.9,429.3 L58.8,427.9 L58.6,426.5 L58.5,425.3 L58.4,424.2 L58.3,423.3 L58.2,422.6 L58.0,421.4 L57.8,420.9 L57.4,420.6 L57.0,420.4 L56.4,420.3 L55.3,420.4 L54.2,420.6 L53.7,420.9 L53.4,421.2 L53.1,421.6 L53.1,422.2Z" fill="#3650d0" filter="url(#b4)" opacity="1.0"/>
<path d="M74.0,422.1 L74.0,422.8 L74.0,423.7 L74.0,424.8 L74.0,426.1 L73.9,427.5 L73.9,429.0 L73.9,430.5 L73.8,432.0 L73.8,433.4 L73.8,434.8 L73.7,436.2 L73.7,437.6 L73.7,438.9 L73.7,440.3 L73.7,441.6 L73.6,442.8 L73.6,443.9 L73.6,444.8 L73.5,445.5 L73.5,446.1 L74.0,448.6 L74.5,449.8 L75.2,450.6 L76.2,451.0 L77.4,451.2 L80.0,451.0 L82.5,450.6 L83.7,450.0 L84.5,449.3 L85.0,448.4 L85.2,447.1 L84.9,444.6 L84.8,443.9 L84.5,443.1 L84.2,442.2 L83.8,441.2 L83.5,440.2 L83.1,439.1 L82.8,438.0 L82.6,437.0 L82.4,435.9 L82.4,435.0 L82.5,434.0 L82.7,432.9 L83.0,431.6 L83.3,430.3 L83.7,429.0 L84.1,427.8 L84.5,426.6 L84.9,425.5 L85.2,424.5 L85.4,423.8 L85.7,421.2 L85.5,420.0 L85.0,419.0 L84.2,418.3 L83.1,417.7 L80.6,417.2 L78.0,417.0 L76.7,417.1 L75.8,417.6 L75.0,418.4 L74.5,419.6Z" fill="#1e1e84" filter="url(#b1)" opacity="1.0"/>
<path d="M75.3,422.3 L75.3,423.0 L75.2,423.9 L75.2,425.0 L75.1,426.3 L75.1,427.7 L75.0,429.1 L74.9,430.6 L74.8,432.1 L74.8,433.5 L74.8,434.9 L74.7,436.2 L74.7,437.5 L74.7,438.8 L74.8,440.1 L74.8,441.4 L74.8,442.6 L74.8,443.7 L74.8,444.6 L74.8,445.3 L74.8,445.9 L75.2,447.8 L75.6,448.7 L76.1,449.4 L76.9,449.7 L77.9,449.9 L79.8,449.7 L81.8,449.4 L82.7,449.0 L83.3,448.4 L83.6,447.7 L83.8,446.7 L83.6,444.7 L83.5,444.1 L83.2,443.3 L82.9,442.4 L82.6,441.4 L82.3,440.3 L82.0,439.2 L81.8,438.1 L81.6,437.0 L81.4,436.0 L81.4,435.0 L81.5,434.0 L81.7,432.8 L81.9,431.5 L82.2,430.2 L82.6,428.9 L82.9,427.6 L83.3,426.4 L83.6,425.3 L83.9,424.3 L84.1,423.6 L84.3,421.6 L84.1,420.6 L83.8,419.9 L83.2,419.3 L82.3,418.9 L80.4,418.5 L78.4,418.3 L77.4,418.5 L76.7,418.8 L76.1,419.4 L75.7,420.3Z" fill="#2a3cb6" filter="url(#b1)" opacity="1.0"/>
<path d="M77.0,422.5 L76.9,423.2 L76.8,424.1 L76.7,425.3 L76.6,426.5 L76.5,427.9 L76.3,429.3 L76.2,430.8 L76.1,432.2 L76.0,433.6 L76.0,434.9 L76.0,436.1 L76.0,437.4 L76.1,438.7 L76.1,440.0 L76.2,441.2 L76.3,442.4 L76.3,443.4 L76.4,444.3 L76.5,445.1 L76.5,445.7 L76.7,446.9 L77.0,447.5 L77.3,447.8 L77.8,448.1 L78.4,448.2 L79.6,448.1 L80.8,447.8 L81.4,447.6 L81.8,447.2 L82.0,446.8 L82.1,446.2 L82.0,444.9 L81.8,444.3 L81.7,443.5 L81.4,442.6 L81.2,441.6 L80.9,440.5 L80.7,439.4 L80.5,438.3 L80.3,437.1 L80.2,436.0 L80.2,435.0 L80.2,433.9 L80.4,432.7 L80.6,431.3 L80.9,430.0 L81.2,428.6 L81.5,427.3 L81.8,426.1 L82.0,425.0 L82.3,424.1 L82.4,423.3 L82.6,422.1 L82.5,421.5 L82.3,421.0 L81.9,420.7 L81.3,420.4 L80.1,420.2 L78.9,420.1 L78.3,420.1 L77.8,420.4 L77.5,420.7 L77.2,421.3Z" fill="#3650d0" filter="url(#b4)" opacity="1.0"/>
<path d="M100.7,415.3 L100.7,415.9 L100.7,416.6 L100.8,417.4 L100.8,418.3 L100.9,419.2 L100.9,420.1 L101.0,421.1 L101.0,422.0 L100.9,422.9 L100.9,423.7 L100.8,424.5 L100.7,425.3 L100.6,426.1 L100.4,426.8 L100.3,427.4 L100.1,428.1 L99.9,428.8 L99.6,429.5 L99.4,430.4 L99.1,431.2 L98.8,432.2 L98.4,433.3 L97.9,434.5 L97.4,435.8 L96.9,437.1 L96.4,438.5 L95.9,439.8 L95.4,441.2 L95.0,442.6 L94.6,443.9 L94.3,445.2 L94.0,446.5 L93.7,448.0 L93.4,449.4 L93.2,450.8 L93.0,452.2 L92.8,453.5 L92.6,454.6 L92.5,455.6 L92.3,456.4 L91.5,460.3 L91.5,462.4 L92.1,464.0 L93.2,465.3 L95.0,466.3 L98.8,467.5 L102.8,468.4 L104.9,468.3 L106.4,467.7 L107.7,466.6 L108.8,464.9 L110.0,461.0 L110.2,460.3 L110.6,459.4 L111.0,458.3 L111.5,457.1 L112.0,455.8 L112.5,454.4 L113.0,452.9 L113.4,451.5 L113.9,450.0 L114.2,448.6 L114.5,447.2 L114.7,445.8 L114.9,444.3 L115.0,442.8 L115.2,441.3 L115.3,439.7 L115.4,438.2 L115.5,436.8 L115.6,435.3 L115.7,434.0 L115.7,432.7 L115.7,431.6 L115.7,430.5 L115.7,429.4 L115.6,428.4 L115.5,427.5 L115.5,426.6 L115.4,425.7 L115.3,424.9 L115.3,424.0 L115.2,423.0 L115.2,421.9 L115.2,420.8 L115.2,419.7 L115.1,418.6 L115.1,417.7 L115.1,416.8 L115.1,416.0 L115.1,415.3 L115.0,414.8 L114.8,411.6 L114.3,410.1 L113.5,409.0 L112.4,408.3 L110.8,407.9 L107.6,407.9 L104.4,408.1 L102.9,408.6 L101.8,409.4 L101.1,410.6 L100.7,412.1Z" fill="#1e1e84" filter="url(#b1)" opacity="1.0"/>
<path d="M102.3,415.3 L102.3,415.8 L102.4,416.5 L102.4,417.3 L102.5,418.2 L102.5,419.1 L102.6,420.1 L102.6,421.1 L102.6,422.0 L102.6,422.9 L102.5,423.7 L102.5,424.6 L102.4,425.4 L102.3,426.1 L102.2,426.8 L102.0,427.6 L101.9,428.3 L101.7,429.0 L101.5,429.8 L101.3,430.6 L101.0,431.6 L100.7,432.6 L100.3,433.7 L99.9,435.0 L99.5,436.3 L99.0,437.6 L98.5,439.0 L98.1,440.4 L97.6,441.7 L97.2,443.1 L96.9,444.4 L96.5,445.7 L96.2,447.1 L95.9,448.5 L95.6,450.0 L95.4,451.4 L95.1,452.8 L94.9,454.0 L94.7,455.2 L94.5,456.2 L94.4,456.9 L93.7,460.0 L93.8,461.5 L94.2,462.8 L95.0,463.7 L96.4,464.6 L99.4,465.5 L102.4,466.1 L104.0,466.1 L105.2,465.7 L106.2,464.8 L107.0,463.5 L107.9,460.5 L108.2,459.8 L108.5,458.9 L108.9,457.8 L109.3,456.6 L109.8,455.2 L110.3,453.8 L110.8,452.4 L111.2,450.9 L111.6,449.4 L111.9,448.1 L112.2,446.7 L112.5,445.3 L112.7,443.8 L112.9,442.3 L113.1,440.8 L113.3,439.3 L113.4,437.8 L113.5,436.4 L113.7,435.0 L113.8,433.7 L113.8,432.5 L113.9,431.3 L113.9,430.3 L113.9,429.3 L113.8,428.3 L113.8,427.4 L113.7,426.5 L113.7,425.7 L113.7,424.8 L113.6,424.0 L113.6,423.0 L113.6,421.9 L113.5,420.8 L113.5,419.7 L113.5,418.7 L113.5,417.7 L113.4,416.8 L113.4,416.0 L113.4,415.4 L113.4,414.9 L113.2,412.4 L112.8,411.3 L112.2,410.4 L111.3,409.9 L110.1,409.6 L107.7,409.5 L105.2,409.7 L104.0,410.1 L103.2,410.7 L102.6,411.6 L102.3,412.8Z" fill="#2a3cb6" filter="url(#b1)" opacity="1.0"/>
<path d="M104.4,415.2 L104.4,415.7 L104.4,416.4 L104.5,417.2 L104.5,418.1 L104.6,419.0 L104.6,420.0 L104.7,421.0 L104.7,422.0 L104.7,422.9 L104.6,423.8 L104.6,424.6 L104.5,425.4 L104.4,426.2 L104.3,426.9 L104.2,427.7 L104.1,428.4 L104.0,429.2 L103.8,430.1 L103.6,431.0 L103.4,432.0 L103.1,433.0 L102.8,434.2 L102.5,435.5 L102.1,436.8 L101.7,438.2 L101.2,439.6 L100.8,441.0 L100.4,442.4 L100.0,443.8 L99.7,445.1 L99.4,446.4 L99.0,447.8 L98.7,449.3 L98.4,450.7 L98.1,452.1 L97.8,453.5 L97.5,454.7 L97.3,455.9 L97.1,456.8 L96.9,457.6 L96.5,459.5 L96.5,460.5 L96.8,461.2 L97.3,461.9 L98.2,462.4 L100.0,462.9 L102.0,463.3 L102.9,463.3 L103.7,463.0 L104.3,462.5 L104.8,461.7 L105.4,459.8 L105.6,459.1 L105.9,458.2 L106.3,457.1 L106.7,455.8 L107.1,454.5 L107.5,453.1 L108.0,451.6 L108.4,450.2 L108.8,448.7 L109.1,447.4 L109.4,446.0 L109.7,444.6 L109.9,443.2 L110.2,441.7 L110.4,440.2 L110.7,438.7 L110.9,437.3 L111.1,435.9 L111.2,434.5 L111.4,433.3 L111.5,432.1 L111.6,431.0 L111.6,430.0 L111.6,429.1 L111.6,428.2 L111.6,427.3 L111.6,426.5 L111.6,425.6 L111.6,424.8 L111.5,423.9 L111.5,422.9 L111.5,421.9 L111.5,420.9 L111.5,419.8 L111.4,418.8 L111.4,417.8 L111.4,416.9 L111.3,416.1 L111.3,415.5 L111.3,415.0 L111.2,413.4 L110.9,412.7 L110.6,412.2 L110.0,411.8 L109.3,411.6 L107.7,411.6 L106.2,411.7 L105.5,412.0 L104.9,412.4 L104.6,412.9 L104.4,413.7Z" fill="#3650d0" filter="url(#b4)" opacity="1.0"/>
<path d="M131.6,416.7 L131.2,416.8 L130.6,417.0 L129.8,417.4 L128.7,418.0 L127.5,418.8 L126.2,419.8 L124.9,421.1 L123.6,422.8 L122.6,424.9 L121.8,427.4 L121.6,429.9 L121.8,432.0 L122.1,433.9 L122.5,435.7 L123.1,437.3 L123.6,438.7 L124.2,440.1 L124.7,441.4 L125.2,442.5 L125.6,443.6 L126.1,444.9 L126.6,446.3 L127.2,447.8 L127.8,449.3 L128.4,450.7 L129.0,452.0 L129.5,453.3 L130.0,454.4 L130.4,455.3 L130.7,456.0 L131.8,459.3 L132.8,460.7 L133.9,461.6 L135.2,462.0 L136.9,462.0 L140.3,461.2 L143.5,460.1 L144.9,459.2 L145.8,458.1 L146.3,456.7 L146.3,455.0 L145.5,451.7 L145.3,450.9 L145.1,449.9 L144.9,448.7 L144.7,447.3 L144.5,445.9 L144.2,444.4 L143.9,442.9 L143.7,441.5 L143.4,440.1 L143.2,438.7 L142.9,437.2 L142.5,435.7 L142.2,434.3 L141.9,433.0 L141.6,431.8 L141.4,430.8 L141.3,430.0 L141.2,429.4 L141.1,429.2 L140.9,429.5 L140.6,429.9 L140.3,430.0 L140.1,429.7 L140.0,429.1 L140.0,428.2 L140.1,427.3 L140.4,426.4 L140.7,425.4 L141.1,424.4 L141.4,423.6 L142.8,421.4 L143.2,420.1 L143.3,419.0 L142.9,418.0 L142.1,416.9 L140.0,415.3 L137.7,413.8 L136.4,413.4 L135.3,413.4 L134.3,413.7 L133.2,414.6Z" fill="#1e1e84" filter="url(#b1)" opacity="1.0"/>
<path d="M132.7,417.5 L132.3,417.7 L131.8,418.0 L131.0,418.4 L130.0,419.1 L128.9,419.9 L127.8,420.9 L126.7,422.1 L125.6,423.6 L124.6,425.5 L124.1,427.7 L123.9,429.8 L124.0,431.7 L124.3,433.5 L124.7,435.1 L125.2,436.6 L125.7,438.1 L126.3,439.4 L126.8,440.7 L127.2,441.9 L127.6,443.0 L128.1,444.3 L128.6,445.8 L129.1,447.2 L129.7,448.7 L130.3,450.1 L130.8,451.5 L131.3,452.8 L131.8,453.9 L132.1,454.8 L132.4,455.5 L133.3,458.0 L134.0,459.1 L134.8,459.8 L135.9,460.2 L137.2,460.1 L139.8,459.5 L142.2,458.7 L143.4,457.9 L144.0,457.1 L144.4,456.1 L144.4,454.7 L143.8,452.2 L143.6,451.4 L143.4,450.4 L143.1,449.2 L142.9,447.9 L142.6,446.5 L142.3,445.0 L142.0,443.5 L141.7,442.0 L141.4,440.6 L141.2,439.3 L140.8,437.9 L140.5,436.4 L140.1,435.0 L139.8,433.7 L139.5,432.4 L139.2,431.4 L139.1,430.4 L138.9,429.7 L138.8,429.3 L138.7,429.3 L138.6,429.4 L138.4,429.2 L138.3,428.7 L138.4,428.0 L138.5,427.2 L138.8,426.3 L139.1,425.4 L139.5,424.5 L139.9,423.6 L140.2,422.8 L141.3,421.1 L141.7,420.1 L141.7,419.3 L141.4,418.5 L140.8,417.7 L139.1,416.4 L137.4,415.3 L136.4,414.9 L135.6,414.9 L134.8,415.2 L134.0,415.9Z" fill="#2a3cb6" filter="url(#b1)" opacity="1.0"/>
<path d="M134.1,418.5 L133.8,418.8 L133.2,419.2 L132.5,419.7 L131.7,420.4 L130.7,421.2 L129.8,422.2 L128.8,423.3 L128.0,424.6 L127.2,426.2 L126.8,428.0 L126.7,429.7 L126.8,431.3 L127.1,432.9 L127.4,434.4 L127.9,435.8 L128.4,437.3 L128.9,438.6 L129.3,439.9 L129.8,441.1 L130.2,442.3 L130.6,443.6 L131.0,445.1 L131.5,446.5 L132.1,448.0 L132.6,449.4 L133.1,450.8 L133.5,452.1 L133.9,453.2 L134.3,454.2 L134.5,454.9 L135.1,456.4 L135.5,457.1 L136.1,457.6 L136.7,457.8 L137.5,457.8 L139.1,457.4 L140.7,456.9 L141.4,456.4 L141.8,455.9 L142.0,455.2 L142.0,454.4 L141.6,452.8 L141.4,452.0 L141.2,451.0 L140.9,449.9 L140.6,448.6 L140.3,447.2 L139.9,445.7 L139.6,444.2 L139.2,442.7 L138.9,441.3 L138.6,440.0 L138.3,438.6 L137.9,437.2 L137.5,435.8 L137.1,434.5 L136.8,433.2 L136.5,432.1 L136.3,431.0 L136.1,430.1 L136.0,429.4 L136.0,429.0 L135.9,428.6 L136.0,428.1 L136.1,427.5 L136.4,426.7 L136.7,425.8 L137.2,424.9 L137.6,424.1 L138.1,423.2 L138.5,422.5 L138.8,421.8 L139.5,420.8 L139.7,420.1 L139.7,419.6 L139.6,419.1 L139.2,418.6 L138.1,417.8 L137.1,417.1 L136.5,416.9 L135.9,416.9 L135.4,417.1 L134.9,417.5Z" fill="#3650d0" filter="url(#b4)" opacity="1.0"/>
<circle cx="56.2" cy="427.5" r="2.20" fill="#5a2030" opacity="0.5" filter="url(#b5)"/>
<circle cx="56.2" cy="427.5" r="1.40" fill="#d87818" filter="url(#b2)"/>
<circle cx="54.3" cy="420.4" r="2.90" fill="#5a2030" opacity="0.55" filter="url(#b5)"/>
<circle cx="54.3" cy="420.4" r="2.00" fill="#f08a18" filter="url(#b2)"/>
<circle cx="54.3" cy="420.4" r="1.00" fill="#ffc838" filter="url(#b3)"/>
<circle cx="60.8" cy="423.4" r="2.90" fill="#5a2030" opacity="0.55" filter="url(#b5)"/>
<circle cx="60.8" cy="423.4" r="2.00" fill="#f08a18" filter="url(#b2)"/>
<circle cx="60.8" cy="423.4" r="1.00" fill="#ffc838" filter="url(#b3)"/>
<circle cx="53.8" cy="444.2" r="2.90" fill="#5a2030" opacity="0.55" filter="url(#b5)"/>
<circle cx="53.8" cy="444.2" r="2.00" fill="#f08a18" filter="url(#b2)"/>
<circle cx="53.8" cy="444.2" r="1.00" fill="#ffc838" filter="url(#b3)"/>
<circle cx="58.9" cy="446.5" r="2.90" fill="#5a2030" opacity="0.55" filter="url(#b5)"/>
<circle cx="58.9" cy="446.5" r="2.00" fill="#f08a18" filter="url(#b2)"/>
<circle cx="58.9" cy="446.5" r="1.00" fill="#ffc838" filter="url(#b3)"/>
<circle cx="76.9" cy="421.8" r="2.90" fill="#5a2030" opacity="0.55" filter="url(#b5)"/>
<circle cx="76.9" cy="421.8" r="2.00" fill="#f08a18" filter="url(#b2)"/>
<circle cx="76.9" cy="421.8" r="1.00" fill="#ffc838" filter="url(#b3)"/>
<circle cx="82.2" cy="421.1" r="2.90" fill="#5a2030" opacity="0.55" filter="url(#b5)"/>
<circle cx="82.2" cy="421.1" r="2.00" fill="#f08a18" filter="url(#b2)"/>
<circle cx="82.2" cy="421.1" r="1.00" fill="#ffc838" filter="url(#b3)"/>
<circle cx="75.8" cy="446.9" r="2.90" fill="#5a2030" opacity="0.55" filter="url(#b5)"/>
<circle cx="75.8" cy="446.9" r="2.00" fill="#f08a18" filter="url(#b2)"/>
<circle cx="75.8" cy="446.9" r="1.00" fill="#ffc838" filter="url(#b3)"/>
<circle cx="82.7" cy="447.6" r="2.90" fill="#5a2030" opacity="0.55" filter="url(#b5)"/>
<circle cx="82.7" cy="447.6" r="2.00" fill="#f08a18" filter="url(#b2)"/>
<circle cx="82.7" cy="447.6" r="1.00" fill="#ffc838" filter="url(#b3)"/>
<circle cx="104.6" cy="416.9" r="2.90" fill="#5a2030" opacity="0.55" filter="url(#b5)"/>
<circle cx="104.6" cy="416.9" r="2.00" fill="#f08a18" filter="url(#b2)"/>
<circle cx="104.6" cy="416.9" r="1.00" fill="#ffc838" filter="url(#b3)"/>
<circle cx="108.5" cy="412.5" r="2.90" fill="#5a2030" opacity="0.55" filter="url(#b5)"/>
<circle cx="108.5" cy="412.5" r="2.00" fill="#f08a18" filter="url(#b2)"/>
<circle cx="108.5" cy="412.5" r="1.00" fill="#ffc838" filter="url(#b3)"/>
<circle cx="97.2" cy="459.9" r="2.90" fill="#5a2030" opacity="0.55" filter="url(#b5)"/>
<circle cx="97.2" cy="459.9" r="2.00" fill="#f08a18" filter="url(#b2)"/>
<circle cx="97.2" cy="459.9" r="1.00" fill="#ffc838" filter="url(#b3)"/>
<circle cx="104.2" cy="462.6" r="2.90" fill="#5a2030" opacity="0.55" filter="url(#b5)"/>
<circle cx="104.2" cy="462.6" r="2.00" fill="#f08a18" filter="url(#b2)"/>
<circle cx="104.2" cy="462.6" r="1.00" fill="#ffc838" filter="url(#b3)"/>
<circle cx="139.2" cy="417.6" r="2.90" fill="#5a2030" opacity="0.55" filter="url(#b5)"/>
<circle cx="139.2" cy="417.6" r="2.00" fill="#f08a18" filter="url(#b2)"/>
<circle cx="139.2" cy="417.6" r="1.00" fill="#ffc838" filter="url(#b3)"/>
<circle cx="138.8" cy="424.1" r="2.90" fill="#5a2030" opacity="0.55" filter="url(#b5)"/>
<circle cx="138.8" cy="424.1" r="2.00" fill="#f08a18" filter="url(#b2)"/>
<circle cx="138.8" cy="424.1" r="1.00" fill="#ffc838" filter="url(#b3)"/>
<circle cx="135.8" cy="454.5" r="2.90" fill="#5a2030" opacity="0.55" filter="url(#b5)"/>
<circle cx="135.8" cy="454.5" r="2.00" fill="#f08a18" filter="url(#b2)"/>
<circle cx="135.8" cy="454.5" r="1.00" fill="#ffc838" filter="url(#b3)"/>
<circle cx="140.4" cy="453.4" r="2.90" fill="#5a2030" opacity="0.55" filter="url(#b5)"/>
<circle cx="140.4" cy="453.4" r="2.00" fill="#f08a18" filter="url(#b2)"/>
<circle cx="140.4" cy="453.4" r="1.00" fill="#ffc838" filter="url(#b3)"/>
<text transform="translate(47.0,474.8) scale(0.91,1)" font-size="10.8" fill="#f4f4f4">Cell 1</text>
</g>
<g>
<path d="M169.4,434.2 L169.4,434.8 L169.4,435.6 L169.4,436.5 L169.4,437.6 L169.4,438.7 L169.4,439.8 L169.4,441.0 L169.4,442.0 L169.4,443.0 L169.4,443.9 L169.4,444.6 L169.3,445.4 L169.3,446.1 L169.3,446.8 L169.3,447.5 L169.3,448.1 L169.3,448.7 L169.3,449.2 L169.3,449.7 L169.3,450.0 L169.8,453.6 L170.4,455.2 L171.3,456.4 L172.6,457.2 L174.3,457.5 L177.9,457.4 L181.4,457.0 L183.1,456.4 L184.3,455.4 L185.0,454.2 L185.4,452.4 L185.3,448.9 L185.2,448.5 L185.2,448.1 L185.1,447.6 L185.0,447.0 L184.9,446.4 L184.8,445.7 L184.7,444.9 L184.6,444.1 L184.4,443.3 L184.3,442.5 L184.1,441.6 L183.9,440.6 L183.7,439.5 L183.5,438.4 L183.2,437.3 L183.0,436.2 L182.8,435.2 L182.6,434.3 L182.5,433.5 L182.3,432.9 L181.9,430.1 L181.4,428.7 L180.6,427.8 L179.5,427.2 L178.1,427.0 L175.2,427.1 L172.4,427.5 L171.0,428.1 L170.1,428.9 L169.5,429.9 L169.2,431.3Z" fill="#1e1e84" filter="url(#b1)" opacity="0.9"/>
<path d="M170.9,434.1 L170.9,434.7 L170.9,435.5 L170.9,436.4 L171.0,437.4 L171.0,438.5 L171.0,439.7 L171.0,440.8 L171.0,441.9 L171.1,442.9 L171.1,443.7 L171.1,444.5 L171.1,445.2 L171.1,446.0 L171.1,446.7 L171.1,447.4 L171.1,448.0 L171.2,448.6 L171.2,449.1 L171.2,449.5 L171.2,449.9 L171.5,452.6 L172.0,453.9 L172.7,454.8 L173.7,455.4 L175.0,455.7 L177.8,455.6 L180.5,455.3 L181.8,454.8 L182.7,454.1 L183.2,453.1 L183.5,451.7 L183.4,449.0 L183.4,448.6 L183.3,448.2 L183.3,447.7 L183.2,447.1 L183.1,446.5 L183.0,445.8 L182.9,445.1 L182.8,444.3 L182.7,443.5 L182.6,442.7 L182.4,441.8 L182.3,440.8 L182.1,439.7 L181.9,438.6 L181.6,437.5 L181.4,436.4 L181.3,435.3 L181.1,434.4 L180.9,433.7 L180.8,433.1 L180.5,430.9 L180.1,429.8 L179.5,429.1 L178.7,428.7 L177.6,428.5 L175.4,428.6 L173.2,428.9 L172.1,429.3 L171.4,429.9 L171.0,430.8 L170.8,431.9Z" fill="#2a3cb6" filter="url(#b1)" opacity="0.9"/>
<path d="M172.8,433.9 L172.8,434.5 L172.8,435.3 L172.9,436.2 L172.9,437.2 L173.0,438.3 L173.0,439.5 L173.1,440.6 L173.1,441.7 L173.2,442.7 L173.2,443.5 L173.3,444.3 L173.3,445.1 L173.3,445.8 L173.4,446.5 L173.4,447.2 L173.4,447.8 L173.4,448.4 L173.4,448.9 L173.5,449.4 L173.5,449.7 L173.7,451.4 L174.0,452.2 L174.4,452.8 L175.0,453.1 L175.9,453.3 L177.6,453.3 L179.3,453.1 L180.1,452.8 L180.7,452.3 L181.0,451.7 L181.2,450.9 L181.1,449.2 L181.1,448.8 L181.1,448.4 L181.0,447.9 L180.9,447.3 L180.9,446.6 L180.8,446.0 L180.7,445.2 L180.6,444.5 L180.5,443.7 L180.4,442.9 L180.3,442.0 L180.2,441.0 L180.0,439.9 L179.8,438.8 L179.6,437.7 L179.5,436.6 L179.3,435.5 L179.2,434.6 L179.1,433.8 L179.0,433.3 L178.8,431.9 L178.5,431.2 L178.1,430.8 L177.6,430.5 L176.9,430.4 L175.6,430.5 L174.2,430.7 L173.5,430.9 L173.1,431.3 L172.8,431.8 L172.7,432.5Z" fill="#3650d0" filter="url(#b4)" opacity="0.9"/>
<path d="M198.0,437.1 L198.0,437.5 L198.1,438.0 L198.1,438.6 L198.2,439.2 L198.2,440.0 L198.3,440.8 L198.4,441.6 L198.4,442.4 L198.5,443.2 L198.5,444.0 L198.5,444.8 L198.5,445.6 L198.6,446.3 L198.6,447.1 L198.6,447.9 L198.6,448.6 L198.5,449.2 L198.5,449.7 L198.5,450.2 L198.5,450.5 L199.0,453.2 L199.6,454.5 L200.3,455.4 L201.4,455.9 L202.7,456.1 L205.5,455.9 L208.3,455.4 L209.5,454.8 L210.4,454.1 L210.9,453.0 L211.1,451.6 L210.9,448.9 L210.8,448.5 L210.7,448.0 L210.5,447.5 L210.3,446.9 L210.1,446.3 L210.0,445.7 L209.8,445.1 L209.7,444.4 L209.5,443.9 L209.5,443.4 L209.5,442.8 L209.5,442.2 L209.5,441.5 L209.6,440.8 L209.6,440.1 L209.7,439.4 L209.8,438.8 L209.9,438.2 L210.0,437.6 L210.0,437.2 L209.9,434.6 L209.5,433.3 L208.9,432.4 L208.0,431.7 L206.7,431.3 L204.0,431.2 L201.4,431.3 L200.1,431.6 L199.2,432.3 L198.5,433.2 L198.1,434.5Z" fill="#1e1e84" filter="url(#b1)" opacity="0.85"/>
<path d="M199.4,437.1 L199.4,437.5 L199.4,438.0 L199.5,438.6 L199.5,439.3 L199.6,440.0 L199.6,440.8 L199.6,441.6 L199.7,442.4 L199.7,443.2 L199.8,443.9 L199.8,444.7 L199.8,445.4 L199.9,446.2 L199.9,447.0 L199.9,447.7 L199.9,448.4 L199.9,449.0 L199.9,449.5 L199.9,450.0 L199.9,450.3 L200.3,452.4 L200.7,453.4 L201.3,454.1 L202.1,454.5 L203.2,454.6 L205.3,454.5 L207.4,454.1 L208.4,453.6 L209.1,453.1 L209.5,452.3 L209.7,451.2 L209.5,449.1 L209.4,448.7 L209.3,448.2 L209.1,447.7 L209.0,447.1 L208.8,446.5 L208.6,445.8 L208.5,445.2 L208.4,444.6 L208.3,444.0 L208.2,443.4 L208.2,442.9 L208.2,442.2 L208.2,441.5 L208.3,440.8 L208.3,440.1 L208.4,439.4 L208.5,438.8 L208.5,438.2 L208.6,437.6 L208.6,437.2 L208.5,435.2 L208.2,434.2 L207.8,433.5 L207.1,433.0 L206.1,432.7 L204.0,432.6 L202.0,432.6 L201.0,432.9 L200.3,433.4 L199.8,434.1 L199.5,435.1Z" fill="#2a3cb6" filter="url(#b1)" opacity="0.85"/>
<path d="M201.1,437.2 L201.1,437.5 L201.1,438.0 L201.2,438.6 L201.2,439.3 L201.2,440.0 L201.2,440.8 L201.3,441.6 L201.3,442.3 L201.3,443.1 L201.4,443.8 L201.4,444.5 L201.4,445.3 L201.5,446.0 L201.5,446.7 L201.6,447.5 L201.6,448.1 L201.7,448.7 L201.7,449.3 L201.7,449.7 L201.7,450.1 L202.0,451.4 L202.2,452.0 L202.6,452.4 L203.1,452.7 L203.8,452.8 L205.1,452.7 L206.4,452.4 L207.0,452.2 L207.4,451.8 L207.7,451.3 L207.8,450.6 L207.7,449.3 L207.6,448.9 L207.5,448.5 L207.4,447.9 L207.3,447.3 L207.1,446.7 L207.0,446.1 L206.9,445.4 L206.8,444.7 L206.7,444.1 L206.6,443.5 L206.6,442.9 L206.6,442.3 L206.6,441.5 L206.6,440.8 L206.7,440.1 L206.7,439.4 L206.8,438.7 L206.8,438.1 L206.9,437.6 L206.9,437.2 L206.8,435.9 L206.7,435.3 L206.4,434.9 L205.9,434.6 L205.3,434.4 L204.0,434.3 L202.7,434.3 L202.1,434.5 L201.7,434.8 L201.4,435.3 L201.2,435.9Z" fill="#3650d0" filter="url(#b4)" opacity="0.85"/>
<path d="M226.9,423.6 L226.9,424.5 L226.8,425.6 L226.7,427.0 L226.7,428.5 L226.6,430.2 L226.5,431.9 L226.4,433.7 L226.3,435.4 L226.2,437.1 L226.2,438.7 L226.2,440.2 L226.1,441.9 L226.1,443.5 L226.1,445.1 L226.1,446.7 L226.2,448.2 L226.2,449.6 L226.2,450.8 L226.2,451.8 L226.2,452.6 L226.4,457.1 L227.1,459.4 L228.1,460.9 L229.7,462.0 L231.9,462.6 L236.5,462.8 L241.0,462.6 L243.2,462.0 L244.8,460.9 L245.9,459.3 L246.5,457.1 L246.7,452.5 L246.7,451.7 L246.7,450.7 L246.7,449.4 L246.7,448.1 L246.7,446.6 L246.7,445.1 L246.7,443.5 L246.7,442.0 L246.7,440.4 L246.7,439.0 L246.7,437.6 L246.7,436.0 L246.7,434.3 L246.8,432.6 L246.8,430.9 L246.8,429.3 L246.9,427.7 L246.9,426.4 L246.9,425.2 L246.9,424.3 L246.9,419.9 L246.3,417.7 L245.3,416.1 L243.8,415.0 L241.7,414.3 L237.3,414.0 L232.8,414.0 L230.6,414.6 L229.1,415.6 L228.0,417.1 L227.3,419.2Z" fill="#1e1e84" filter="url(#b1)" opacity="1.0"/>
<path d="M229.2,423.7 L229.2,424.6 L229.1,425.7 L229.1,427.1 L229.0,428.6 L228.9,430.3 L228.8,432.0 L228.7,433.8 L228.7,435.5 L228.6,437.2 L228.6,438.7 L228.5,440.3 L228.5,441.9 L228.5,443.5 L228.5,445.1 L228.5,446.7 L228.5,448.2 L228.5,449.5 L228.5,450.8 L228.6,451.8 L228.6,452.6 L228.7,456.1 L229.2,457.8 L230.1,459.0 L231.3,459.8 L233.0,460.3 L236.5,460.5 L240.0,460.3 L241.7,459.8 L242.9,459.0 L243.7,457.7 L244.2,456.1 L244.3,452.5 L244.3,451.7 L244.3,450.7 L244.3,449.5 L244.3,448.1 L244.3,446.6 L244.3,445.1 L244.3,443.5 L244.3,441.9 L244.3,440.4 L244.3,439.0 L244.3,437.5 L244.4,435.9 L244.4,434.3 L244.4,432.5 L244.5,430.8 L244.5,429.2 L244.5,427.7 L244.6,426.3 L244.6,425.1 L244.6,424.2 L244.6,420.8 L244.2,419.1 L243.4,417.9 L242.2,417.1 L240.6,416.5 L237.2,416.3 L233.8,416.3 L232.1,416.7 L230.9,417.5 L230.0,418.6 L229.5,420.3Z" fill="#2a3cb6" filter="url(#b1)" opacity="1.0"/>
<path d="M232.1,423.8 L232.1,424.7 L232.0,425.8 L232.0,427.2 L231.9,428.7 L231.8,430.4 L231.7,432.1 L231.7,433.9 L231.6,435.6 L231.6,437.2 L231.5,438.8 L231.5,440.3 L231.5,441.9 L231.5,443.5 L231.5,445.1 L231.5,446.7 L231.5,448.2 L231.5,449.5 L231.5,450.8 L231.5,451.8 L231.5,452.6 L231.6,454.8 L231.9,455.8 L232.5,456.6 L233.2,457.1 L234.3,457.4 L236.5,457.5 L238.6,457.4 L239.7,457.1 L240.5,456.6 L241.0,455.8 L241.3,454.7 L241.4,452.6 L241.4,451.7 L241.4,450.7 L241.4,449.5 L241.4,448.1 L241.3,446.6 L241.3,445.1 L241.3,443.5 L241.3,441.9 L241.4,440.4 L241.4,438.9 L241.4,437.5 L241.4,435.9 L241.5,434.2 L241.5,432.4 L241.5,430.7 L241.6,429.1 L241.6,427.6 L241.7,426.2 L241.7,425.0 L241.7,424.1 L241.7,422.0 L241.4,420.9 L241.0,420.2 L240.2,419.7 L239.2,419.3 L237.1,419.2 L234.9,419.2 L233.9,419.4 L233.2,419.9 L232.6,420.6 L232.3,421.7Z" fill="#3650d0" filter="url(#b4)" opacity="1.0"/>
<path d="M254.3,418.0 L254.2,418.6 L254.1,419.3 L253.9,420.2 L253.6,421.3 L253.4,422.5 L253.1,423.8 L252.8,425.3 L252.6,426.8 L252.4,428.3 L252.2,429.9 L252.2,431.5 L252.1,433.1 L252.1,434.7 L252.1,436.2 L252.2,437.8 L252.2,439.3 L252.3,440.8 L252.3,442.2 L252.4,443.6 L252.5,444.9 L252.6,446.3 L252.7,447.7 L252.8,449.1 L253.0,450.5 L253.1,451.8 L253.3,453.0 L253.4,454.2 L253.5,455.2 L253.6,456.0 L253.7,456.7 L254.2,460.3 L254.9,462.0 L255.8,463.2 L257.2,463.9 L259.0,464.3 L262.6,464.2 L266.3,463.7 L268.0,463.0 L269.2,462.0 L269.9,460.7 L270.3,458.9 L270.1,455.2 L270.1,454.5 L270.0,453.6 L270.0,452.6 L269.9,451.5 L269.8,450.3 L269.8,449.0 L269.7,447.7 L269.6,446.4 L269.5,445.1 L269.4,443.9 L269.4,442.6 L269.3,441.2 L269.1,439.8 L269.0,438.4 L268.9,437.0 L268.8,435.6 L268.8,434.3 L268.7,433.1 L268.7,431.9 L268.7,431.0 L268.8,430.0 L268.9,429.1 L269.1,428.0 L269.3,426.9 L269.5,425.8 L269.7,424.8 L269.9,423.8 L270.2,422.9 L270.3,422.0 L270.5,421.2 L271.0,417.6 L270.9,415.8 L270.3,414.4 L269.2,413.3 L267.6,412.4 L264.0,411.5 L260.4,411.0 L258.5,411.2 L257.1,411.8 L256.0,412.8 L255.2,414.5Z" fill="#1e1e84" filter="url(#b1)" opacity="1.0"/>
<path d="M256.2,418.4 L256.1,419.0 L255.9,419.7 L255.7,420.6 L255.5,421.7 L255.2,422.9 L254.9,424.2 L254.7,425.6 L254.5,427.0 L254.3,428.5 L254.1,430.1 L254.1,431.6 L254.0,433.1 L254.0,434.6 L254.1,436.2 L254.1,437.7 L254.1,439.2 L254.2,440.7 L254.3,442.1 L254.4,443.5 L254.4,444.8 L254.5,446.1 L254.6,447.5 L254.8,448.9 L254.9,450.3 L255.0,451.6 L255.2,452.9 L255.3,454.0 L255.4,455.0 L255.5,455.8 L255.6,456.5 L256.0,459.3 L256.5,460.6 L257.2,461.5 L258.3,462.1 L259.7,462.4 L262.5,462.3 L265.3,461.9 L266.6,461.4 L267.5,460.6 L268.1,459.6 L268.4,458.2 L268.2,455.4 L268.2,454.7 L268.1,453.8 L268.1,452.8 L268.0,451.7 L267.9,450.5 L267.8,449.2 L267.7,447.9 L267.6,446.6 L267.6,445.3 L267.5,444.0 L267.4,442.7 L267.3,441.3 L267.2,439.9 L267.1,438.5 L267.0,437.1 L266.9,435.7 L266.8,434.3 L266.8,433.1 L266.8,431.9 L266.8,430.8 L266.9,429.8 L267.0,428.8 L267.2,427.7 L267.4,426.6 L267.6,425.5 L267.8,424.4 L268.1,423.4 L268.3,422.4 L268.5,421.6 L268.6,420.9 L269.1,418.1 L268.9,416.7 L268.5,415.6 L267.6,414.7 L266.4,414.1 L263.6,413.4 L260.9,413.0 L259.4,413.1 L258.4,413.6 L257.5,414.4 L256.9,415.7Z" fill="#2a3cb6" filter="url(#b1)" opacity="1.0"/>
<path d="M258.5,418.9 L258.4,419.4 L258.2,420.2 L258.0,421.1 L257.8,422.2 L257.5,423.4 L257.3,424.6 L257.0,426.0 L256.8,427.4 L256.6,428.8 L256.5,430.2 L256.5,431.6 L256.4,433.1 L256.4,434.6 L256.5,436.1 L256.5,437.6 L256.6,439.1 L256.6,440.5 L256.7,442.0 L256.8,443.3 L256.9,444.6 L257.0,446.0 L257.1,447.3 L257.2,448.7 L257.3,450.1 L257.5,451.4 L257.6,452.6 L257.7,453.8 L257.8,454.8 L257.9,455.6 L258.0,456.3 L258.2,458.0 L258.5,458.9 L259.0,459.4 L259.6,459.8 L260.5,460.0 L262.3,459.9 L264.0,459.6 L264.8,459.3 L265.4,458.9 L265.8,458.2 L265.9,457.3 L265.9,455.6 L265.8,454.9 L265.8,454.0 L265.7,453.0 L265.6,451.9 L265.5,450.7 L265.4,449.4 L265.3,448.1 L265.2,446.7 L265.1,445.4 L265.0,444.1 L265.0,442.8 L264.9,441.5 L264.8,440.0 L264.7,438.6 L264.6,437.2 L264.5,435.8 L264.4,434.4 L264.4,433.1 L264.4,431.8 L264.4,430.7 L264.5,429.6 L264.7,428.5 L264.8,427.3 L265.1,426.1 L265.3,425.0 L265.5,423.9 L265.8,422.9 L266.0,421.9 L266.2,421.1 L266.3,420.4 L266.6,418.7 L266.5,417.8 L266.2,417.1 L265.7,416.6 L264.9,416.2 L263.2,415.7 L261.4,415.5 L260.5,415.6 L259.9,415.8 L259.3,416.4 L258.9,417.1Z" fill="#3650d0" filter="url(#b4)" opacity="1.0"/>
<circle cx="176.3" cy="439.3" r="3.60" fill="#5a2030" opacity="0.5" filter="url(#b5)"/>
<circle cx="176.3" cy="439.3" r="2.70" fill="#c0681c" filter="url(#b5)"/>
<circle cx="172.0" cy="431.7" r="2.90" fill="#5a2030" opacity="0.55" filter="url(#b5)"/>
<circle cx="172.0" cy="431.7" r="2.00" fill="#f08a18" filter="url(#b2)"/>
<circle cx="172.0" cy="431.7" r="1.00" fill="#ffc838" filter="url(#b3)"/>
<circle cx="179.2" cy="430.9" r="2.90" fill="#5a2030" opacity="0.55" filter="url(#b5)"/>
<circle cx="179.2" cy="430.9" r="2.00" fill="#f08a18" filter="url(#b2)"/>
<circle cx="179.2" cy="430.9" r="1.00" fill="#ffc838" filter="url(#b3)"/>
<circle cx="172.0" cy="455.0" r="2.90" fill="#5a2030" opacity="0.55" filter="url(#b5)"/>
<circle cx="172.0" cy="455.0" r="2.00" fill="#f08a18" filter="url(#b2)"/>
<circle cx="172.0" cy="455.0" r="1.00" fill="#ffc838" filter="url(#b3)"/>
<circle cx="182.8" cy="454.0" r="2.90" fill="#5a2030" opacity="0.55" filter="url(#b5)"/>
<circle cx="182.8" cy="454.0" r="2.00" fill="#f08a18" filter="url(#b2)"/>
<circle cx="182.8" cy="454.0" r="1.00" fill="#ffc838" filter="url(#b3)"/>
<circle cx="198.0" cy="432.4" r="2.90" fill="#5a2030" opacity="0.55" filter="url(#b5)"/>
<circle cx="198.0" cy="432.4" r="2.00" fill="#f08a18" filter="url(#b2)"/>
<circle cx="198.0" cy="432.4" r="1.00" fill="#ffc838" filter="url(#b3)"/>
<circle cx="210.0" cy="433.3" r="2.90" fill="#5a2030" opacity="0.55" filter="url(#b5)"/>
<circle cx="210.0" cy="433.3" r="2.00" fill="#f08a18" filter="url(#b2)"/>
<circle cx="210.0" cy="433.3" r="1.00" fill="#ffc838" filter="url(#b3)"/>
<circle cx="201.3" cy="455.7" r="2.90" fill="#5a2030" opacity="0.55" filter="url(#b5)"/>
<circle cx="201.3" cy="455.7" r="2.00" fill="#f08a18" filter="url(#b2)"/>
<circle cx="201.3" cy="455.7" r="1.00" fill="#ffc838" filter="url(#b3)"/>
<circle cx="208.6" cy="453.8" r="2.90" fill="#5a2030" opacity="0.55" filter="url(#b5)"/>
<circle cx="208.6" cy="453.8" r="2.00" fill="#f08a18" filter="url(#b2)"/>
<circle cx="208.6" cy="453.8" r="1.00" fill="#ffc838" filter="url(#b3)"/>
<circle cx="230.4" cy="417.2" r="2.90" fill="#5a2030" opacity="0.55" filter="url(#b5)"/>
<circle cx="230.4" cy="417.2" r="2.00" fill="#f08a18" filter="url(#b2)"/>
<circle cx="230.4" cy="417.2" r="1.00" fill="#ffc838" filter="url(#b3)"/>
<circle cx="244.6" cy="420.8" r="2.90" fill="#5a2030" opacity="0.55" filter="url(#b5)"/>
<circle cx="244.6" cy="420.8" r="2.00" fill="#f08a18" filter="url(#b2)"/>
<circle cx="244.6" cy="420.8" r="1.00" fill="#ffc838" filter="url(#b3)"/>
<circle cx="233.3" cy="455.7" r="2.90" fill="#5a2030" opacity="0.55" filter="url(#b5)"/>
<circle cx="233.3" cy="455.7" r="2.00" fill="#f08a18" filter="url(#b2)"/>
<circle cx="233.3" cy="455.7" r="1.00" fill="#ffc838" filter="url(#b3)"/>
<circle cx="259.0" cy="417.7" r="2.90" fill="#5a2030" opacity="0.55" filter="url(#b5)"/>
<circle cx="259.0" cy="417.7" r="2.00" fill="#f08a18" filter="url(#b2)"/>
<circle cx="259.0" cy="417.7" r="1.00" fill="#ffc838" filter="url(#b3)"/>
<circle cx="264.1" cy="415.3" r="2.90" fill="#5a2030" opacity="0.55" filter="url(#b5)"/>
<circle cx="264.1" cy="415.3" r="2.00" fill="#f08a18" filter="url(#b2)"/>
<circle cx="264.1" cy="415.3" r="1.00" fill="#ffc838" filter="url(#b3)"/>
<circle cx="258.6" cy="460.0" r="2.90" fill="#5a2030" opacity="0.55" filter="url(#b5)"/>
<circle cx="258.6" cy="460.0" r="2.00" fill="#f08a18" filter="url(#b2)"/>
<circle cx="258.6" cy="460.0" r="1.00" fill="#ffc838" filter="url(#b3)"/>
<circle cx="264.1" cy="462.2" r="2.90" fill="#5a2030" opacity="0.55" filter="url(#b5)"/>
<circle cx="264.1" cy="462.2" r="2.00" fill="#f08a18" filter="url(#b2)"/>
<circle cx="264.1" cy="462.2" r="1.00" fill="#ffc838" filter="url(#b3)"/>
<text transform="translate(166.3,474.8) scale(0.91,1)" font-size="10.8" fill="#f4f4f4">Cell 2</text>
</g>
<g>
<path d="M296.3,432.2 L296.4,432.8 L296.4,433.6 L296.5,434.5 L296.6,435.5 L296.7,436.6 L296.7,437.7 L296.8,438.8 L296.8,440.0 L296.9,441.0 L296.8,442.0 L296.8,442.9 L296.7,443.9 L296.5,444.9 L296.3,445.9 L296.2,446.9 L296.0,447.8 L295.8,448.6 L295.7,449.4 L295.5,450.0 L295.4,450.5 L295.4,453.3 L295.7,454.6 L296.3,455.6 L297.2,456.3 L298.5,456.7 L301.2,457.0 L304.0,457.0 L305.3,456.7 L306.3,456.1 L307.0,455.2 L307.4,453.9 L307.7,451.2 L307.7,450.7 L307.6,450.0 L307.5,449.3 L307.4,448.4 L307.4,447.5 L307.3,446.5 L307.2,445.5 L307.2,444.5 L307.2,443.5 L307.2,442.5 L307.3,441.5 L307.4,440.5 L307.5,439.3 L307.7,438.2 L307.9,437.1 L308.1,436.0 L308.2,435.0 L308.4,434.1 L308.5,433.4 L308.6,432.8 L308.6,430.0 L308.3,428.7 L307.7,427.7 L306.8,427.1 L305.5,426.6 L302.8,426.4 L300.0,426.4 L298.7,426.7 L297.7,427.3 L297.0,428.2 L296.6,429.5Z" fill="#1e1e84" filter="url(#b1)" opacity="0.88"/>
<path d="M297.8,432.3 L297.8,432.9 L297.8,433.6 L297.9,434.5 L297.9,435.5 L298.0,436.6 L298.0,437.8 L298.0,438.9 L298.1,440.0 L298.1,441.1 L298.0,442.1 L298.0,443.0 L297.9,444.0 L297.7,445.0 L297.6,446.0 L297.5,446.9 L297.3,447.9 L297.2,448.7 L297.0,449.5 L296.9,450.1 L296.9,450.6 L296.8,452.7 L297.1,453.8 L297.5,454.5 L298.2,455.0 L299.2,455.4 L301.3,455.6 L303.4,455.6 L304.4,455.4 L305.2,454.9 L305.7,454.2 L306.1,453.2 L306.3,451.1 L306.3,450.6 L306.2,450.0 L306.2,449.2 L306.1,448.3 L306.1,447.4 L306.0,446.4 L306.0,445.4 L306.0,444.4 L306.0,443.4 L306.0,442.4 L306.1,441.5 L306.2,440.4 L306.3,439.3 L306.4,438.2 L306.6,437.0 L306.7,435.9 L306.9,434.9 L307.0,434.0 L307.1,433.3 L307.2,432.7 L307.2,430.6 L306.9,429.6 L306.5,428.8 L305.8,428.3 L304.8,428.0 L302.7,427.8 L300.6,427.8 L299.6,428.0 L298.8,428.5 L298.3,429.2 L298.0,430.2Z" fill="#2a3cb6" filter="url(#b1)" opacity="0.88"/>
<path d="M299.5,432.4 L299.5,432.9 L299.5,433.7 L299.6,434.6 L299.6,435.6 L299.6,436.7 L299.6,437.8 L299.6,439.0 L299.6,440.1 L299.6,441.2 L299.5,442.1 L299.5,443.1 L299.4,444.1 L299.3,445.1 L299.2,446.1 L299.1,447.0 L299.0,447.9 L298.9,448.8 L298.8,449.6 L298.7,450.2 L298.6,450.7 L298.6,452.0 L298.8,452.7 L299.0,453.1 L299.5,453.5 L300.1,453.7 L301.4,453.8 L302.7,453.8 L303.4,453.7 L303.8,453.4 L304.2,453.0 L304.4,452.3 L304.5,451.0 L304.5,450.5 L304.5,449.9 L304.5,449.1 L304.5,448.2 L304.5,447.3 L304.4,446.3 L304.4,445.3 L304.5,444.3 L304.5,443.3 L304.5,442.4 L304.6,441.4 L304.6,440.3 L304.7,439.2 L304.9,438.1 L305.0,437.0 L305.1,435.9 L305.2,434.9 L305.3,434.0 L305.4,433.2 L305.4,432.6 L305.4,431.3 L305.3,430.7 L305.0,430.2 L304.5,429.9 L303.9,429.7 L302.6,429.5 L301.3,429.5 L300.7,429.7 L300.2,430.0 L299.9,430.4 L299.6,431.0Z" fill="#3650d0" filter="url(#b4)" opacity="0.88"/>
<path d="M318.4,434.2 L318.4,434.6 L318.6,435.2 L318.7,435.9 L318.8,436.7 L319.0,437.5 L319.2,438.4 L319.3,439.3 L319.3,440.2 L319.4,441.0 L319.3,441.8 L319.2,442.6 L319.0,443.5 L318.7,444.4 L318.4,445.3 L318.1,446.2 L317.8,447.1 L317.5,447.9 L317.2,448.6 L316.9,449.2 L316.8,449.6 L316.7,452.6 L316.9,454.0 L317.5,455.1 L318.5,455.9 L319.9,456.4 L322.8,456.8 L325.7,456.9 L327.2,456.6 L328.2,456.0 L329.0,455.0 L329.5,453.7 L329.9,450.8 L329.8,450.3 L329.7,449.6 L329.5,448.9 L329.4,448.1 L329.2,447.2 L329.0,446.2 L328.9,445.3 L328.8,444.4 L328.7,443.5 L328.7,442.7 L328.8,441.9 L329.0,441.0 L329.2,440.2 L329.5,439.3 L329.8,438.5 L330.1,437.7 L330.4,437.0 L330.7,436.3 L330.9,435.8 L331.1,435.3 L331.2,432.5 L330.9,431.1 L330.3,430.1 L329.4,429.3 L328.1,428.8 L325.3,428.4 L322.5,428.3 L321.1,428.6 L320.0,429.1 L319.3,430.0 L318.8,431.4Z" fill="#1e1e84" filter="url(#b1)" opacity="0.88"/>
<path d="M319.8,434.3 L319.9,434.8 L320.0,435.3 L320.0,436.0 L320.2,436.8 L320.3,437.6 L320.3,438.5 L320.4,439.4 L320.5,440.3 L320.5,441.1 L320.4,441.9 L320.3,442.7 L320.1,443.6 L319.9,444.5 L319.7,445.4 L319.4,446.3 L319.1,447.2 L318.9,448.0 L318.6,448.7 L318.4,449.3 L318.3,449.8 L318.2,452.0 L318.4,453.1 L318.9,454.0 L319.6,454.6 L320.7,455.0 L322.9,455.3 L325.2,455.3 L326.3,455.1 L327.1,454.7 L327.7,453.9 L328.1,452.9 L328.4,450.6 L328.4,450.1 L328.3,449.5 L328.2,448.8 L328.0,447.9 L327.9,447.0 L327.8,446.1 L327.7,445.2 L327.6,444.3 L327.6,443.4 L327.6,442.6 L327.7,441.8 L327.9,440.9 L328.1,440.1 L328.3,439.2 L328.6,438.4 L328.8,437.6 L329.1,436.9 L329.3,436.2 L329.5,435.6 L329.6,435.2 L329.7,433.0 L329.5,431.9 L329.0,431.2 L328.3,430.6 L327.3,430.2 L325.2,429.9 L323.0,429.8 L321.9,430.0 L321.1,430.4 L320.5,431.1 L320.1,432.2Z" fill="#2a3cb6" filter="url(#b1)" opacity="0.88"/>
<path d="M321.7,434.5 L321.7,434.9 L321.7,435.5 L321.7,436.2 L321.8,436.9 L321.8,437.8 L321.8,438.6 L321.9,439.5 L321.9,440.4 L321.8,441.2 L321.8,442.0 L321.7,442.9 L321.5,443.7 L321.4,444.6 L321.2,445.6 L321.0,446.5 L320.8,447.3 L320.6,448.1 L320.4,448.8 L320.3,449.5 L320.2,449.9 L320.1,451.3 L320.3,452.0 L320.6,452.5 L321.0,452.9 L321.7,453.2 L323.1,453.4 L324.5,453.4 L325.2,453.3 L325.7,453.0 L326.1,452.5 L326.3,451.9 L326.5,450.5 L326.5,450.0 L326.5,449.4 L326.4,448.6 L326.4,447.8 L326.3,446.9 L326.3,446.0 L326.2,445.1 L326.2,444.1 L326.2,443.3 L326.3,442.4 L326.4,441.6 L326.5,440.8 L326.7,439.9 L326.8,439.1 L327.0,438.2 L327.2,437.4 L327.4,436.7 L327.5,436.0 L327.7,435.5 L327.8,435.0 L327.8,433.7 L327.7,433.0 L327.4,432.5 L327.0,432.1 L326.3,431.9 L325.0,431.7 L323.6,431.6 L323.0,431.8 L322.5,432.1 L322.1,432.5 L321.8,433.1Z" fill="#3650d0" filter="url(#b4)" opacity="0.88"/>
<path d="M351.7,423.6 L351.7,424.5 L351.8,425.6 L351.8,426.8 L351.9,428.0 L352.0,429.3 L352.0,430.7 L352.0,432.0 L352.0,433.3 L351.9,434.4 L351.8,435.5 L351.5,436.6 L351.3,437.8 L350.9,439.1 L350.5,440.4 L350.0,441.8 L349.6,443.2 L349.1,444.6 L348.6,446.1 L348.1,447.4 L347.6,448.8 L347.2,450.0 L346.7,451.3 L346.2,452.6 L345.7,454.0 L345.2,455.3 L344.7,456.6 L344.2,457.8 L343.7,458.9 L343.3,459.9 L343.0,460.7 L341.9,463.2 L341.7,464.5 L341.9,465.6 L342.4,466.6 L343.5,467.6 L345.8,468.9 L348.4,469.9 L349.7,470.2 L350.8,470.0 L351.8,469.5 L352.7,468.4 L354.1,466.0 L354.4,465.4 L354.9,464.6 L355.5,463.6 L356.3,462.4 L357.0,461.2 L357.8,459.8 L358.6,458.4 L359.4,456.9 L360.1,455.4 L360.8,453.9 L361.4,452.5 L362.0,451.0 L362.5,449.5 L363.1,447.9 L363.6,446.2 L364.1,444.6 L364.6,442.9 L365.0,441.2 L365.4,439.4 L365.7,437.7 L366.0,435.8 L366.1,434.0 L366.2,432.2 L366.2,430.4 L366.1,428.8 L366.0,427.3 L366.0,425.9 L365.9,424.8 L365.8,423.9 L365.8,423.2 L365.6,420.1 L365.1,418.6 L364.3,417.5 L363.2,416.8 L361.7,416.4 L358.6,416.3 L355.4,416.6 L353.9,417.0 L352.8,417.8 L352.1,418.9 L351.7,420.5Z" fill="#1e1e84" filter="url(#b1)" opacity="1.0"/>
<path d="M353.3,423.6 L353.3,424.4 L353.4,425.5 L353.5,426.7 L353.5,427.9 L353.6,429.3 L353.6,430.7 L353.6,432.0 L353.6,433.4 L353.5,434.6 L353.4,435.7 L353.1,436.9 L352.8,438.2 L352.5,439.5 L352.1,440.9 L351.6,442.3 L351.1,443.8 L350.6,445.2 L350.1,446.6 L349.6,448.0 L349.1,449.3 L348.7,450.6 L348.2,451.9 L347.6,453.3 L347.1,454.7 L346.5,456.0 L346.0,457.3 L345.5,458.5 L345.0,459.6 L344.6,460.5 L344.3,461.3 L343.5,463.2 L343.3,464.3 L343.4,465.1 L343.8,465.9 L344.6,466.6 L346.5,467.6 L348.4,468.4 L349.4,468.6 L350.3,468.5 L351.1,468.0 L351.8,467.3 L352.8,465.4 L353.1,464.8 L353.6,463.9 L354.2,462.9 L354.9,461.8 L355.6,460.5 L356.4,459.2 L357.2,457.7 L357.9,456.3 L358.6,454.8 L359.3,453.3 L359.9,451.9 L360.4,450.4 L361.0,448.9 L361.5,447.3 L362.1,445.7 L362.6,444.1 L363.0,442.4 L363.4,440.8 L363.8,439.1 L364.1,437.4 L364.3,435.7 L364.5,433.9 L364.5,432.2 L364.5,430.5 L364.5,428.9 L364.4,427.4 L364.3,426.0 L364.3,424.9 L364.2,424.0 L364.2,423.3 L364.0,420.9 L363.6,419.7 L363.1,418.9 L362.2,418.3 L361.0,418.0 L358.6,418.0 L356.2,418.1 L355.0,418.5 L354.2,419.1 L353.7,420.0 L353.4,421.1Z" fill="#2a3cb6" filter="url(#b1)" opacity="1.0"/>
<path d="M355.3,423.5 L355.4,424.3 L355.4,425.4 L355.5,426.5 L355.6,427.8 L355.6,429.2 L355.7,430.6 L355.7,432.1 L355.6,433.5 L355.5,434.8 L355.4,436.0 L355.1,437.3 L354.8,438.7 L354.5,440.1 L354.0,441.5 L353.6,443.0 L353.1,444.4 L352.6,445.9 L352.0,447.3 L351.5,448.7 L351.0,450.1 L350.5,451.4 L350.0,452.7 L349.4,454.1 L348.8,455.5 L348.2,456.9 L347.7,458.1 L347.1,459.3 L346.6,460.4 L346.2,461.3 L345.9,462.1 L345.4,463.3 L345.3,463.9 L345.3,464.5 L345.6,464.9 L346.1,465.4 L347.2,466.0 L348.4,466.5 L349.1,466.6 L349.6,466.6 L350.1,466.3 L350.6,465.8 L351.2,464.6 L351.5,464.0 L352.0,463.1 L352.6,462.1 L353.2,460.9 L353.9,459.7 L354.7,458.3 L355.4,456.9 L356.1,455.4 L356.8,454.0 L357.4,452.6 L357.9,451.2 L358.5,449.7 L359.0,448.2 L359.6,446.7 L360.1,445.1 L360.6,443.5 L361.0,441.9 L361.5,440.3 L361.8,438.7 L362.1,437.1 L362.3,435.5 L362.4,433.8 L362.5,432.1 L362.5,430.5 L362.4,428.9 L362.4,427.5 L362.3,426.1 L362.2,425.0 L362.2,424.1 L362.1,423.3 L362.0,421.8 L361.8,421.1 L361.4,420.6 L360.9,420.2 L360.2,420.0 L358.7,420.0 L357.1,420.1 L356.4,420.4 L355.9,420.7 L355.6,421.3 L355.4,422.0Z" fill="#3650d0" filter="url(#b4)" opacity="1.0"/>
<path d="M372.8,422.7 L372.8,423.6 L373.0,424.6 L373.1,425.9 L373.3,427.3 L373.5,428.8 L373.6,430.4 L373.8,432.0 L374.0,433.6 L374.1,435.3 L374.2,436.8 L374.2,438.4 L374.2,440.0 L374.1,441.6 L374.1,443.3 L374.0,445.0 L373.9,446.6 L373.9,448.3 L373.9,449.9 L373.9,451.4 L373.9,452.8 L374.0,454.3 L374.1,455.7 L374.3,457.1 L374.5,458.5 L374.7,459.8 L374.9,461.0 L375.1,462.1 L375.3,463.1 L375.4,464.0 L375.5,464.6 L375.8,467.6 L376.3,469.0 L377.1,469.9 L378.1,470.6 L379.6,470.9 L382.5,470.9 L385.4,470.5 L386.8,470.1 L387.8,469.3 L388.4,468.3 L388.8,466.8 L388.7,463.9 L388.7,463.2 L388.8,462.3 L388.8,461.3 L388.9,460.2 L388.9,458.9 L389.0,457.6 L389.0,456.3 L389.0,454.9 L389.0,453.5 L389.0,452.1 L388.9,450.7 L388.7,449.2 L388.6,447.6 L388.4,446.0 L388.2,444.4 L387.9,442.7 L387.8,441.1 L387.6,439.4 L387.4,437.9 L387.4,436.3 L387.3,434.8 L387.3,433.2 L387.4,431.6 L387.4,429.9 L387.5,428.3 L387.6,426.8 L387.7,425.4 L387.8,424.2 L387.8,423.1 L387.9,422.3 L387.6,418.9 L387.1,417.3 L386.2,416.2 L385.1,415.4 L383.4,415.0 L380.1,415.0 L376.7,415.2 L375.1,415.7 L374.0,416.6 L373.2,417.7 L372.8,419.4Z" fill="#1e1e84" filter="url(#b1)" opacity="1.0"/>
<path d="M374.5,422.7 L374.6,423.5 L374.7,424.6 L374.8,425.8 L374.9,427.2 L375.1,428.7 L375.2,430.3 L375.4,431.9 L375.5,433.6 L375.6,435.2 L375.7,436.8 L375.7,438.3 L375.7,439.9 L375.7,441.5 L375.7,443.2 L375.6,444.9 L375.6,446.6 L375.6,448.2 L375.6,449.8 L375.6,451.3 L375.6,452.7 L375.7,454.2 L375.8,455.6 L376.0,457.0 L376.2,458.4 L376.3,459.7 L376.5,460.9 L376.7,462.0 L376.8,463.0 L377.0,463.9 L377.0,464.6 L377.3,466.8 L377.7,467.9 L378.2,468.6 L379.0,469.1 L380.2,469.4 L382.4,469.3 L384.7,469.1 L385.7,468.7 L386.5,468.1 L387.0,467.3 L387.2,466.2 L387.2,464.0 L387.2,463.3 L387.2,462.4 L387.2,461.4 L387.3,460.3 L387.3,459.0 L387.3,457.7 L387.3,456.3 L387.3,455.0 L387.3,453.6 L387.2,452.2 L387.2,450.8 L387.0,449.3 L386.9,447.7 L386.7,446.1 L386.5,444.4 L386.3,442.8 L386.2,441.1 L386.0,439.5 L385.9,437.9 L385.8,436.4 L385.8,434.8 L385.8,433.2 L385.8,431.6 L385.8,430.0 L385.9,428.4 L385.9,426.9 L386.0,425.5 L386.0,424.2 L386.1,423.2 L386.1,422.3 L385.9,419.7 L385.5,418.5 L384.9,417.6 L384.0,417.1 L382.7,416.7 L380.1,416.7 L377.5,416.9 L376.3,417.3 L375.4,417.9 L374.9,418.8 L374.5,420.1Z" fill="#2a3cb6" filter="url(#b1)" opacity="1.0"/>
<path d="M376.7,422.6 L376.7,423.4 L376.8,424.5 L376.9,425.7 L377.0,427.1 L377.1,428.7 L377.2,430.2 L377.3,431.9 L377.4,433.5 L377.5,435.1 L377.6,436.7 L377.6,438.2 L377.7,439.8 L377.7,441.5 L377.7,443.1 L377.7,444.8 L377.7,446.5 L377.7,448.1 L377.7,449.7 L377.8,451.2 L377.8,452.6 L377.9,454.0 L378.0,455.5 L378.1,456.9 L378.3,458.2 L378.4,459.6 L378.5,460.8 L378.7,461.9 L378.8,462.9 L378.9,463.8 L378.9,464.4 L379.1,465.9 L379.3,466.5 L379.7,467.0 L380.2,467.3 L380.9,467.4 L382.3,467.4 L383.7,467.3 L384.4,467.0 L384.8,466.7 L385.2,466.2 L385.3,465.5 L385.3,464.1 L385.3,463.4 L385.3,462.5 L385.3,461.5 L385.3,460.4 L385.2,459.1 L385.2,457.8 L385.2,456.5 L385.2,455.1 L385.1,453.7 L385.1,452.3 L385.0,450.9 L384.9,449.3 L384.8,447.8 L384.6,446.2 L384.5,444.5 L384.3,442.9 L384.2,441.2 L384.1,439.6 L384.0,438.0 L383.9,436.5 L383.9,434.9 L383.9,433.3 L383.8,431.7 L383.9,430.0 L383.9,428.4 L383.9,426.9 L383.9,425.5 L383.9,424.3 L383.9,423.2 L383.9,422.4 L383.8,420.8 L383.6,420.0 L383.2,419.5 L382.6,419.1 L381.8,418.9 L380.2,418.9 L378.6,419.0 L377.8,419.3 L377.3,419.7 L376.9,420.2 L376.7,421.0Z" fill="#3650d0" filter="url(#b4)" opacity="1.0"/>
<circle cx="379.8" cy="467.2" r="2.20" fill="#5a2030" opacity="0.5" filter="url(#b5)"/>
<circle cx="379.8" cy="467.2" r="1.40" fill="#d87818" filter="url(#b2)"/>
<circle cx="297.9" cy="433.9" r="2.90" fill="#5a2030" opacity="0.55" filter="url(#b5)"/>
<circle cx="297.9" cy="433.9" r="2.00" fill="#f08a18" filter="url(#b2)"/>
<circle cx="297.9" cy="433.9" r="1.00" fill="#ffc838" filter="url(#b3)"/>
<circle cx="307.0" cy="432.0" r="2.90" fill="#5a2030" opacity="0.55" filter="url(#b5)"/>
<circle cx="307.0" cy="432.0" r="2.00" fill="#f08a18" filter="url(#b2)"/>
<circle cx="307.0" cy="432.0" r="1.00" fill="#ffc838" filter="url(#b3)"/>
<circle cx="302.7" cy="437.0" r="3.80" fill="#5a2030" opacity="0.55" filter="url(#b5)"/>
<circle cx="302.7" cy="437.0" r="2.90" fill="#f08a18" filter="url(#b2)"/>
<circle cx="302.7" cy="437.0" r="1.70" fill="#ffc030" filter="url(#b2)"/>
<circle cx="297.9" cy="452.5" r="2.90" fill="#5a2030" opacity="0.55" filter="url(#b5)"/>
<circle cx="297.9" cy="452.5" r="2.00" fill="#f08a18" filter="url(#b2)"/>
<circle cx="297.9" cy="452.5" r="1.00" fill="#ffc838" filter="url(#b3)"/>
<circle cx="305.4" cy="452.5" r="2.90" fill="#5a2030" opacity="0.55" filter="url(#b5)"/>
<circle cx="305.4" cy="452.5" r="2.00" fill="#f08a18" filter="url(#b2)"/>
<circle cx="305.4" cy="452.5" r="1.00" fill="#ffc838" filter="url(#b3)"/>
<circle cx="320.9" cy="433.6" r="2.90" fill="#5a2030" opacity="0.55" filter="url(#b5)"/>
<circle cx="320.9" cy="433.6" r="2.00" fill="#f08a18" filter="url(#b2)"/>
<circle cx="320.9" cy="433.6" r="1.00" fill="#ffc838" filter="url(#b3)"/>
<circle cx="328.8" cy="433.6" r="2.90" fill="#5a2030" opacity="0.55" filter="url(#b5)"/>
<circle cx="328.8" cy="433.6" r="2.00" fill="#f08a18" filter="url(#b2)"/>
<circle cx="328.8" cy="433.6" r="1.00" fill="#ffc838" filter="url(#b3)"/>
<circle cx="318.6" cy="452.5" r="2.90" fill="#5a2030" opacity="0.55" filter="url(#b5)"/>
<circle cx="318.6" cy="452.5" r="2.00" fill="#f08a18" filter="url(#b2)"/>
<circle cx="318.6" cy="452.5" r="1.00" fill="#ffc838" filter="url(#b3)"/>
<circle cx="328.1" cy="453.1" r="2.90" fill="#5a2030" opacity="0.55" filter="url(#b5)"/>
<circle cx="328.1" cy="453.1" r="2.00" fill="#f08a18" filter="url(#b2)"/>
<circle cx="328.1" cy="453.1" r="1.00" fill="#ffc838" filter="url(#b3)"/>
<circle cx="354.7" cy="424.1" r="2.90" fill="#5a2030" opacity="0.55" filter="url(#b5)"/>
<circle cx="354.7" cy="424.1" r="2.00" fill="#f08a18" filter="url(#b2)"/>
<circle cx="354.7" cy="424.1" r="1.00" fill="#ffc838" filter="url(#b3)"/>
<circle cx="359.9" cy="420.7" r="2.90" fill="#5a2030" opacity="0.55" filter="url(#b5)"/>
<circle cx="359.9" cy="420.7" r="2.00" fill="#f08a18" filter="url(#b2)"/>
<circle cx="359.9" cy="420.7" r="1.00" fill="#ffc838" filter="url(#b3)"/>
<circle cx="345.8" cy="460.9" r="2.90" fill="#5a2030" opacity="0.55" filter="url(#b5)"/>
<circle cx="345.8" cy="460.9" r="2.00" fill="#f08a18" filter="url(#b2)"/>
<circle cx="345.8" cy="460.9" r="1.00" fill="#ffc838" filter="url(#b3)"/>
<circle cx="350.8" cy="468.3" r="2.90" fill="#5a2030" opacity="0.55" filter="url(#b5)"/>
<circle cx="350.8" cy="468.3" r="2.00" fill="#f08a18" filter="url(#b2)"/>
<circle cx="350.8" cy="468.3" r="1.00" fill="#ffc838" filter="url(#b3)"/>
<circle cx="376.9" cy="419.6" r="2.90" fill="#5a2030" opacity="0.55" filter="url(#b5)"/>
<circle cx="376.9" cy="419.6" r="2.00" fill="#f08a18" filter="url(#b2)"/>
<circle cx="376.9" cy="419.6" r="1.00" fill="#ffc838" filter="url(#b3)"/>
<circle cx="382.6" cy="420.7" r="2.90" fill="#5a2030" opacity="0.55" filter="url(#b5)"/>
<circle cx="382.6" cy="420.7" r="2.00" fill="#f08a18" filter="url(#b2)"/>
<circle cx="382.6" cy="420.7" r="1.00" fill="#ffc838" filter="url(#b3)"/>
<circle cx="383.7" cy="466.1" r="2.90" fill="#5a2030" opacity="0.55" filter="url(#b5)"/>
<circle cx="383.7" cy="466.1" r="2.00" fill="#f08a18" filter="url(#b2)"/>
<circle cx="383.7" cy="466.1" r="1.00" fill="#ffc838" filter="url(#b3)"/>
<text transform="translate(291.9,474.8) scale(0.91,1)" font-size="10.8" fill="#f4f4f4">Cell 3</text>
</g>
<g>
<path d="M407.1,443.7 L407.2,444.1 L407.2,444.7 L407.3,445.4 L407.4,446.1 L407.5,446.9 L407.5,447.6 L407.6,448.4 L407.6,449.1 L407.7,449.8 L407.7,450.3 L407.7,450.7 L407.7,451.3 L407.7,451.9 L407.7,452.6 L407.7,453.2 L407.7,453.9 L407.7,454.5 L407.7,455.1 L407.7,455.6 L407.7,456.1 L407.8,459.2 L408.2,460.8 L409.0,461.9 L410.0,462.7 L411.6,463.1 L414.8,463.3 L417.9,463.2 L419.5,462.8 L420.6,462.0 L421.4,461.0 L421.8,459.4 L422.0,456.2 L422.0,455.9 L422.0,455.5 L422.1,454.9 L422.1,454.2 L422.1,453.5 L422.1,452.7 L422.1,451.8 L422.1,451.0 L422.1,450.0 L422.0,449.1 L421.9,448.2 L421.7,447.3 L421.5,446.4 L421.4,445.5 L421.2,444.6 L421.0,443.8 L420.8,443.0 L420.6,442.4 L420.5,441.9 L420.4,441.5 L419.8,438.6 L419.1,437.2 L418.3,436.3 L417.2,435.8 L415.7,435.6 L412.7,435.9 L409.8,436.6 L408.4,437.2 L407.5,438.1 L407.0,439.2 L406.8,440.7Z" fill="#1e1e84" filter="url(#b1)" opacity="1.0"/>
<path d="M408.7,443.4 L408.7,443.9 L408.8,444.5 L408.9,445.1 L409.0,445.8 L409.0,446.6 L409.1,447.4 L409.2,448.2 L409.3,448.9 L409.3,449.6 L409.3,450.1 L409.4,450.7 L409.4,451.3 L409.4,451.9 L409.4,452.6 L409.4,453.3 L409.4,453.9 L409.4,454.6 L409.3,455.1 L409.3,455.7 L409.3,456.1 L409.4,458.5 L409.7,459.7 L410.3,460.6 L411.1,461.2 L412.3,461.5 L414.8,461.7 L417.2,461.6 L418.4,461.3 L419.3,460.7 L419.9,459.9 L420.2,458.7 L420.4,456.2 L420.4,455.9 L420.4,455.4 L420.4,454.9 L420.4,454.2 L420.4,453.5 L420.5,452.7 L420.5,451.8 L420.4,451.0 L420.4,450.1 L420.3,449.3 L420.2,448.4 L420.1,447.5 L419.9,446.6 L419.8,445.7 L419.6,444.9 L419.4,444.0 L419.2,443.3 L419.1,442.7 L419.0,442.2 L418.9,441.8 L418.4,439.5 L417.9,438.5 L417.2,437.8 L416.4,437.4 L415.2,437.2 L412.9,437.5 L410.7,438.0 L409.6,438.4 L409.0,439.1 L408.5,440.0 L408.4,441.1Z" fill="#2a3cb6" filter="url(#b1)" opacity="1.0"/>
<path d="M410.6,443.1 L410.6,443.5 L410.7,444.1 L410.8,444.8 L410.9,445.5 L411.0,446.3 L411.1,447.1 L411.2,447.9 L411.3,448.6 L411.4,449.3 L411.4,450.0 L411.4,450.6 L411.5,451.2 L411.5,451.9 L411.5,452.6 L411.5,453.3 L411.4,454.0 L411.4,454.6 L411.4,455.2 L411.4,455.7 L411.4,456.1 L411.5,457.6 L411.7,458.4 L412.0,458.9 L412.5,459.3 L413.3,459.5 L414.8,459.6 L416.3,459.5 L417.1,459.3 L417.6,459.0 L418.0,458.5 L418.2,457.7 L418.3,456.2 L418.3,455.8 L418.3,455.4 L418.3,454.8 L418.4,454.1 L418.4,453.4 L418.4,452.7 L418.4,451.9 L418.4,451.0 L418.3,450.2 L418.3,449.4 L418.2,448.6 L418.1,447.8 L417.9,446.9 L417.8,446.0 L417.6,445.2 L417.4,444.4 L417.3,443.6 L417.1,443.0 L417.0,442.5 L417.0,442.1 L416.7,440.7 L416.4,440.0 L415.9,439.6 L415.4,439.3 L414.7,439.2 L413.3,439.4 L411.8,439.7 L411.2,440.0 L410.8,440.4 L410.5,441.0 L410.4,441.7Z" fill="#3650d0" filter="url(#b4)" opacity="1.0"/>
<path d="M428.1,445.2 L428.2,445.6 L428.3,446.0 L428.4,446.6 L428.5,447.2 L428.6,447.9 L428.7,448.6 L428.8,449.3 L428.9,450.0 L429.1,450.7 L429.2,451.3 L429.4,451.8 L429.5,452.4 L429.7,453.1 L429.9,453.7 L430.1,454.3 L430.3,454.9 L430.5,455.5 L430.7,455.9 L430.8,456.4 L430.9,456.7 L431.7,459.4 L432.3,460.6 L433.2,461.4 L434.3,461.8 L435.7,461.9 L438.4,461.4 L441.1,460.7 L442.3,460.0 L443.1,459.1 L443.6,458.0 L443.6,456.6 L443.1,453.9 L443.1,453.6 L443.0,453.1 L443.0,452.6 L442.9,452.0 L442.8,451.4 L442.7,450.8 L442.6,450.1 L442.5,449.4 L442.4,448.7 L442.3,448.1 L442.1,447.5 L441.9,446.8 L441.7,446.1 L441.5,445.4 L441.2,444.7 L441.0,444.1 L440.8,443.5 L440.6,442.9 L440.4,442.5 L440.3,442.1 L439.5,439.5 L438.8,438.2 L437.9,437.5 L436.8,437.1 L435.4,437.0 L432.7,437.6 L430.0,438.4 L428.8,439.1 L428.0,440.0 L427.6,441.0 L427.6,442.5Z" fill="#1e1e84" filter="url(#b1)" opacity="1.0"/>
<path d="M429.6,444.8 L429.6,445.2 L429.7,445.7 L429.8,446.2 L429.9,446.9 L430.0,447.6 L430.2,448.3 L430.3,449.0 L430.4,449.6 L430.6,450.3 L430.7,450.9 L430.9,451.5 L431.0,452.1 L431.2,452.7 L431.4,453.4 L431.6,454.0 L431.8,454.6 L431.9,455.1 L432.1,455.6 L432.2,456.0 L432.3,456.4 L432.9,458.4 L433.4,459.4 L434.1,460.0 L434.9,460.3 L436.0,460.4 L438.1,460.0 L440.2,459.4 L441.1,458.9 L441.7,458.2 L442.1,457.4 L442.1,456.3 L441.7,454.2 L441.7,453.9 L441.6,453.5 L441.5,452.9 L441.5,452.4 L441.4,451.7 L441.3,451.1 L441.2,450.4 L441.0,449.8 L440.9,449.1 L440.8,448.5 L440.6,447.9 L440.4,447.2 L440.2,446.5 L440.0,445.8 L439.8,445.1 L439.6,444.4 L439.4,443.8 L439.2,443.3 L439.0,442.8 L438.9,442.5 L438.3,440.4 L437.7,439.5 L437.1,438.9 L436.2,438.6 L435.2,438.6 L433.1,439.0 L431.0,439.6 L430.1,440.1 L429.5,440.8 L429.2,441.7 L429.1,442.7Z" fill="#2a3cb6" filter="url(#b1)" opacity="1.0"/>
<path d="M431.3,444.4 L431.4,444.8 L431.5,445.2 L431.6,445.8 L431.7,446.4 L431.9,447.1 L432.0,447.8 L432.2,448.5 L432.3,449.2 L432.5,449.8 L432.6,450.4 L432.7,451.0 L432.9,451.7 L433.1,452.3 L433.2,452.9 L433.4,453.6 L433.6,454.2 L433.7,454.7 L433.9,455.2 L434.0,455.6 L434.1,456.0 L434.5,457.3 L434.8,457.8 L435.2,458.2 L435.7,458.4 L436.4,458.5 L437.7,458.2 L439.0,457.9 L439.6,457.5 L440.0,457.1 L440.2,456.6 L440.2,455.9 L440.0,454.6 L439.9,454.3 L439.8,453.9 L439.7,453.4 L439.6,452.8 L439.5,452.2 L439.4,451.5 L439.3,450.9 L439.2,450.2 L439.0,449.6 L438.9,448.9 L438.7,448.3 L438.5,447.6 L438.3,447.0 L438.1,446.2 L437.9,445.6 L437.7,444.9 L437.6,444.3 L437.4,443.7 L437.3,443.3 L437.2,442.9 L436.8,441.6 L436.4,441.1 L436.0,440.7 L435.5,440.5 L434.8,440.5 L433.5,440.7 L432.2,441.1 L431.6,441.5 L431.3,441.9 L431.1,442.4 L431.0,443.1Z" fill="#3650d0" filter="url(#b4)" opacity="1.0"/>
<path d="M457.6,430.6 L457.7,431.5 L457.8,432.7 L457.9,434.1 L458.0,435.7 L458.2,437.3 L458.3,439.0 L458.4,440.7 L458.5,442.4 L458.6,444.1 L458.7,445.6 L458.7,447.1 L458.7,448.8 L458.6,450.7 L458.6,452.5 L458.5,454.4 L458.4,456.3 L458.4,458.0 L458.3,459.5 L458.3,460.9 L458.2,461.9 L458.3,465.9 L458.8,467.8 L459.7,469.2 L461.0,470.2 L462.9,470.8 L466.9,471.1 L470.9,471.1 L472.8,470.6 L474.2,469.7 L475.2,468.4 L475.8,466.4 L476.1,462.5 L476.2,461.5 L476.2,460.2 L476.3,458.7 L476.3,457.0 L476.4,455.1 L476.5,453.1 L476.5,451.1 L476.6,449.0 L476.6,447.1 L476.6,445.2 L476.5,443.4 L476.4,441.5 L476.3,439.6 L476.2,437.7 L476.0,435.9 L475.9,434.1 L475.8,432.6 L475.6,431.2 L475.5,430.1 L475.5,429.2 L475.0,425.2 L474.3,423.3 L473.2,422.1 L471.8,421.2 L469.8,420.8 L465.8,420.9 L461.9,421.4 L460.0,422.1 L458.7,423.2 L457.9,424.6 L457.5,426.6Z" fill="#1e1e84" filter="url(#b1)" opacity="1.0"/>
<path d="M459.7,430.4 L459.7,431.4 L459.8,432.6 L460.0,433.9 L460.1,435.5 L460.2,437.1 L460.4,438.9 L460.5,440.6 L460.6,442.3 L460.7,444.0 L460.7,445.5 L460.7,447.1 L460.7,448.8 L460.7,450.7 L460.6,452.6 L460.6,454.5 L460.5,456.3 L460.4,458.1 L460.4,459.6 L460.3,460.9 L460.3,462.0 L460.3,465.0 L460.7,466.5 L461.4,467.6 L462.4,468.4 L463.9,468.8 L467.0,469.1 L470.0,469.0 L471.5,468.6 L472.6,468.0 L473.4,466.9 L473.8,465.5 L474.1,462.4 L474.1,461.4 L474.2,460.2 L474.2,458.6 L474.3,456.9 L474.4,455.0 L474.4,453.0 L474.5,451.0 L474.5,449.0 L474.5,447.1 L474.5,445.2 L474.4,443.4 L474.4,441.6 L474.2,439.7 L474.1,437.8 L474.0,436.0 L473.8,434.3 L473.7,432.8 L473.6,431.4 L473.5,430.2 L473.4,429.3 L473.0,426.3 L472.5,424.9 L471.7,423.9 L470.6,423.2 L469.1,422.9 L466.0,423.0 L463.0,423.4 L461.5,423.9 L460.5,424.7 L459.9,425.8 L459.6,427.3Z" fill="#2a3cb6" filter="url(#b1)" opacity="1.0"/>
<path d="M462.2,430.2 L462.3,431.1 L462.4,432.3 L462.5,433.7 L462.7,435.3 L462.8,436.9 L462.9,438.7 L463.1,440.4 L463.2,442.2 L463.3,443.9 L463.3,445.5 L463.3,447.1 L463.3,448.9 L463.3,450.8 L463.2,452.7 L463.2,454.6 L463.1,456.4 L463.0,458.2 L463.0,459.7 L462.9,461.0 L462.9,462.0 L462.9,464.0 L463.1,464.9 L463.6,465.6 L464.2,466.0 L465.1,466.3 L467.0,466.5 L469.0,466.5 L469.9,466.2 L470.6,465.8 L471.0,465.2 L471.3,464.2 L471.5,462.3 L471.5,461.3 L471.6,460.0 L471.6,458.5 L471.7,456.8 L471.8,454.9 L471.8,452.9 L471.9,451.0 L471.9,449.0 L471.9,447.1 L471.9,445.3 L471.9,443.5 L471.8,441.7 L471.7,439.9 L471.5,438.0 L471.4,436.2 L471.3,434.5 L471.1,433.0 L471.0,431.6 L470.9,430.4 L470.8,429.5 L470.6,427.6 L470.3,426.7 L469.8,426.1 L469.1,425.7 L468.1,425.5 L466.2,425.6 L464.3,425.8 L463.4,426.2 L462.8,426.7 L462.4,427.3 L462.2,428.3Z" fill="#3650d0" filter="url(#b4)" opacity="1.0"/>
<path d="M487.6,428.6 L487.5,429.6 L487.5,430.9 L487.5,432.4 L487.5,434.1 L487.4,435.9 L487.4,437.7 L487.3,439.6 L487.3,441.5 L487.2,443.3 L487.1,445.0 L487.0,446.6 L486.9,448.4 L486.8,450.3 L486.6,452.3 L486.5,454.2 L486.3,456.0 L486.2,457.7 L486.0,459.2 L485.9,460.5 L485.9,461.5 L485.7,465.1 L486.1,466.9 L486.8,468.2 L488.0,469.1 L489.7,469.8 L493.2,470.2 L496.8,470.3 L498.6,470.0 L499.9,469.2 L500.8,468.1 L501.5,466.4 L501.9,462.8 L502.0,461.8 L502.1,460.6 L502.2,459.1 L502.4,457.3 L502.5,455.5 L502.7,453.5 L502.9,451.5 L503.0,449.6 L503.1,447.6 L503.2,445.8 L503.3,444.0 L503.4,442.1 L503.4,440.1 L503.5,438.1 L503.5,436.2 L503.6,434.4 L503.6,432.7 L503.6,431.2 L503.7,429.9 L503.7,429.0 L503.6,425.4 L503.1,423.6 L502.3,422.4 L501.1,421.5 L499.4,421.0 L495.8,420.7 L492.2,420.8 L490.5,421.3 L489.2,422.1 L488.3,423.3 L487.8,425.0Z" fill="#1e1e84" filter="url(#b1)" opacity="1.0"/>
<path d="M489.4,428.7 L489.4,429.7 L489.4,430.9 L489.3,432.4 L489.3,434.1 L489.3,435.9 L489.2,437.8 L489.2,439.7 L489.1,441.6 L489.1,443.4 L489.0,445.1 L488.9,446.7 L488.8,448.6 L488.6,450.5 L488.5,452.4 L488.3,454.3 L488.2,456.1 L488.0,457.8 L487.9,459.4 L487.8,460.7 L487.7,461.7 L487.6,464.4 L487.9,465.8 L488.5,466.8 L489.4,467.5 L490.7,468.0 L493.4,468.4 L496.1,468.5 L497.5,468.2 L498.5,467.6 L499.2,466.7 L499.7,465.4 L500.1,462.7 L500.2,461.7 L500.3,460.4 L500.4,458.9 L500.5,457.2 L500.7,455.3 L500.8,453.4 L501.0,451.4 L501.1,449.4 L501.3,447.5 L501.4,445.7 L501.5,443.9 L501.5,442.0 L501.6,440.0 L501.6,438.1 L501.7,436.2 L501.7,434.3 L501.7,432.7 L501.8,431.2 L501.8,429.9 L501.8,428.9 L501.7,426.2 L501.4,424.8 L500.8,423.9 L499.8,423.2 L498.5,422.8 L495.7,422.6 L493.0,422.7 L491.6,423.0 L490.7,423.7 L490.0,424.6 L489.6,425.9Z" fill="#2a3cb6" filter="url(#b1)" opacity="1.0"/>
<path d="M491.7,428.7 L491.7,429.7 L491.7,431.0 L491.7,432.5 L491.6,434.2 L491.6,436.0 L491.6,437.8 L491.5,439.8 L491.5,441.7 L491.4,443.5 L491.3,445.2 L491.2,446.9 L491.1,448.7 L491.0,450.6 L490.8,452.6 L490.6,454.5 L490.5,456.3 L490.3,458.0 L490.2,459.6 L490.1,460.9 L490.0,461.9 L490.0,463.6 L490.1,464.4 L490.5,465.1 L491.1,465.5 L491.9,465.8 L493.6,466.0 L495.3,466.1 L496.2,465.9 L496.8,465.6 L497.2,465.0 L497.5,464.2 L497.8,462.5 L497.8,461.5 L497.9,460.2 L498.1,458.7 L498.2,457.0 L498.4,455.1 L498.5,453.2 L498.7,451.2 L498.8,449.3 L499.0,447.4 L499.1,445.6 L499.1,443.8 L499.2,441.9 L499.3,440.0 L499.3,438.0 L499.4,436.1 L499.4,434.3 L499.4,432.6 L499.4,431.1 L499.5,429.9 L499.5,428.9 L499.4,427.2 L499.2,426.3 L498.8,425.7 L498.2,425.3 L497.4,425.0 L495.7,424.9 L494.0,425.0 L493.1,425.2 L492.5,425.6 L492.1,426.2 L491.9,427.0Z" fill="#3650d0" filter="url(#b4)" opacity="1.0"/>
<circle cx="433.8" cy="445.8" r="3.60" fill="#5a2030" opacity="0.5" filter="url(#b5)"/>
<circle cx="433.8" cy="445.8" r="2.70" fill="#c0681c" filter="url(#b5)"/>
<circle cx="409.5" cy="438.9" r="2.90" fill="#5a2030" opacity="0.55" filter="url(#b5)"/>
<circle cx="409.5" cy="438.9" r="2.00" fill="#f08a18" filter="url(#b2)"/>
<circle cx="409.5" cy="438.9" r="1.00" fill="#ffc838" filter="url(#b3)"/>
<circle cx="413.8" cy="443.9" r="2.90" fill="#5a2030" opacity="0.55" filter="url(#b5)"/>
<circle cx="413.8" cy="443.9" r="2.00" fill="#f08a18" filter="url(#b2)"/>
<circle cx="413.8" cy="443.9" r="1.00" fill="#ffc838" filter="url(#b3)"/>
<circle cx="419.2" cy="445.8" r="2.90" fill="#5a2030" opacity="0.55" filter="url(#b5)"/>
<circle cx="419.2" cy="445.8" r="2.00" fill="#f08a18" filter="url(#b2)"/>
<circle cx="419.2" cy="445.8" r="1.00" fill="#ffc838" filter="url(#b3)"/>
<circle cx="410.5" cy="456.2" r="2.90" fill="#5a2030" opacity="0.55" filter="url(#b5)"/>
<circle cx="410.5" cy="456.2" r="2.00" fill="#f08a18" filter="url(#b2)"/>
<circle cx="410.5" cy="456.2" r="1.00" fill="#ffc838" filter="url(#b3)"/>
<circle cx="417.0" cy="459.0" r="2.90" fill="#5a2030" opacity="0.55" filter="url(#b5)"/>
<circle cx="417.0" cy="459.0" r="2.00" fill="#f08a18" filter="url(#b2)"/>
<circle cx="417.0" cy="459.0" r="1.00" fill="#ffc838" filter="url(#b3)"/>
<circle cx="431.6" cy="440.4" r="2.90" fill="#5a2030" opacity="0.55" filter="url(#b5)"/>
<circle cx="431.6" cy="440.4" r="2.00" fill="#f08a18" filter="url(#b2)"/>
<circle cx="431.6" cy="440.4" r="1.00" fill="#ffc838" filter="url(#b3)"/>
<circle cx="437.5" cy="442.6" r="2.90" fill="#5a2030" opacity="0.55" filter="url(#b5)"/>
<circle cx="437.5" cy="442.6" r="2.00" fill="#f08a18" filter="url(#b2)"/>
<circle cx="437.5" cy="442.6" r="1.00" fill="#ffc838" filter="url(#b3)"/>
<circle cx="440.3" cy="455.7" r="2.90" fill="#5a2030" opacity="0.55" filter="url(#b5)"/>
<circle cx="440.3" cy="455.7" r="2.00" fill="#f08a18" filter="url(#b2)"/>
<circle cx="440.3" cy="455.7" r="1.00" fill="#ffc838" filter="url(#b3)"/>
<circle cx="461.2" cy="429.9" r="2.90" fill="#5a2030" opacity="0.55" filter="url(#b5)"/>
<circle cx="461.2" cy="429.9" r="2.00" fill="#f08a18" filter="url(#b2)"/>
<circle cx="461.2" cy="429.9" r="1.00" fill="#ffc838" filter="url(#b3)"/>
<circle cx="470.4" cy="426.6" r="2.90" fill="#5a2030" opacity="0.55" filter="url(#b5)"/>
<circle cx="470.4" cy="426.6" r="2.00" fill="#f08a18" filter="url(#b2)"/>
<circle cx="470.4" cy="426.6" r="1.00" fill="#ffc838" filter="url(#b3)"/>
<circle cx="467.6" cy="464.8" r="2.90" fill="#5a2030" opacity="0.55" filter="url(#b5)"/>
<circle cx="467.6" cy="464.8" r="2.00" fill="#f08a18" filter="url(#b2)"/>
<circle cx="467.6" cy="464.8" r="1.00" fill="#ffc838" filter="url(#b3)"/>
<circle cx="464.8" cy="466.9" r="2.90" fill="#5a2030" opacity="0.55" filter="url(#b5)"/>
<circle cx="464.8" cy="466.9" r="2.00" fill="#f08a18" filter="url(#b2)"/>
<circle cx="464.8" cy="466.9" r="1.00" fill="#ffc838" filter="url(#b3)"/>
<circle cx="492.8" cy="426.4" r="2.90" fill="#5a2030" opacity="0.55" filter="url(#b5)"/>
<circle cx="492.8" cy="426.4" r="2.00" fill="#f08a18" filter="url(#b2)"/>
<circle cx="492.8" cy="426.4" r="1.00" fill="#ffc838" filter="url(#b3)"/>
<circle cx="498.8" cy="426.0" r="2.90" fill="#5a2030" opacity="0.55" filter="url(#b5)"/>
<circle cx="498.8" cy="426.0" r="2.00" fill="#f08a18" filter="url(#b2)"/>
<circle cx="498.8" cy="426.0" r="1.00" fill="#ffc838" filter="url(#b3)"/>
<circle cx="490.9" cy="464.8" r="2.90" fill="#5a2030" opacity="0.55" filter="url(#b5)"/>
<circle cx="490.9" cy="464.8" r="2.00" fill="#f08a18" filter="url(#b2)"/>
<circle cx="490.9" cy="464.8" r="1.00" fill="#ffc838" filter="url(#b3)"/>
<circle cx="494.5" cy="466.9" r="2.90" fill="#5a2030" opacity="0.55" filter="url(#b5)"/>
<circle cx="494.5" cy="466.9" r="2.00" fill="#f08a18" filter="url(#b2)"/>
<circle cx="494.5" cy="466.9" r="1.00" fill="#ffc838" filter="url(#b3)"/>
<text transform="translate(409.4,474.8) scale(0.91,1)" font-size="10.8" fill="#f4f4f4">Cell 4</text>
</g>
<g>
<path d="M51.8,504.5 L51.8,505.1 L51.8,505.8 L51.9,506.7 L51.9,507.6 L52.0,508.7 L52.0,509.7 L52.1,510.8 L52.1,511.8 L52.1,512.7 L52.0,513.5 L52.0,514.2 L51.9,515.0 L51.8,515.8 L51.6,516.6 L51.5,517.4 L51.3,518.1 L51.2,518.8 L51.1,519.5 L51.0,520.0 L50.9,520.5 L50.7,523.0 L51.0,524.3 L51.5,525.3 L52.3,525.9 L53.5,526.4 L56.0,526.8 L58.6,527.0 L59.9,526.7 L60.8,526.2 L61.5,525.4 L62.0,524.2 L62.3,521.7 L62.4,521.3 L62.4,520.7 L62.4,520.1 L62.4,519.4 L62.4,518.5 L62.5,517.7 L62.5,516.8 L62.5,515.8 L62.6,514.9 L62.6,513.9 L62.6,512.9 L62.6,511.9 L62.7,510.8 L62.7,509.7 L62.7,508.6 L62.7,507.5 L62.8,506.5 L62.8,505.7 L62.8,505.0 L62.8,504.4 L62.7,502.0 L62.4,500.8 L61.8,500.0 L60.9,499.4 L59.7,499.0 L57.3,498.9 L54.8,499.1 L53.6,499.4 L52.8,500.0 L52.2,500.8 L51.9,502.0Z" fill="#1e1e84" filter="url(#b1)" opacity="1.0"/>
<path d="M53.1,504.5 L53.1,505.1 L53.1,505.8 L53.1,506.7 L53.2,507.6 L53.2,508.7 L53.3,509.7 L53.3,510.8 L53.3,511.8 L53.3,512.7 L53.3,513.5 L53.2,514.3 L53.1,515.1 L53.0,515.9 L52.9,516.7 L52.8,517.5 L52.6,518.3 L52.5,519.0 L52.4,519.6 L52.3,520.2 L52.2,520.6 L52.1,522.6 L52.3,523.6 L52.7,524.3 L53.3,524.8 L54.2,525.2 L56.2,525.5 L58.1,525.6 L59.1,525.4 L59.8,525.0 L60.4,524.4 L60.7,523.5 L61.0,521.5 L61.0,521.1 L61.1,520.6 L61.1,520.0 L61.1,519.2 L61.2,518.4 L61.2,517.6 L61.3,516.6 L61.3,515.7 L61.3,514.8 L61.4,513.9 L61.4,512.9 L61.4,511.9 L61.4,510.8 L61.5,509.7 L61.5,508.6 L61.5,507.5 L61.5,506.6 L61.5,505.7 L61.5,505.0 L61.6,504.4 L61.5,502.6 L61.2,501.6 L60.7,501.0 L60.1,500.6 L59.2,500.3 L57.3,500.2 L55.4,500.3 L54.5,500.6 L53.8,501.0 L53.4,501.7 L53.1,502.6Z" fill="#2a3cb6" filter="url(#b1)" opacity="1.0"/>
<path d="M54.7,504.5 L54.7,505.0 L54.7,505.8 L54.7,506.6 L54.7,507.6 L54.8,508.6 L54.8,509.7 L54.8,510.8 L54.8,511.8 L54.8,512.7 L54.8,513.6 L54.7,514.4 L54.6,515.2 L54.6,516.0 L54.4,516.9 L54.3,517.7 L54.2,518.4 L54.1,519.2 L54.0,519.8 L53.9,520.4 L53.9,520.8 L53.8,522.0 L53.9,522.6 L54.1,523.1 L54.5,523.4 L55.1,523.7 L56.3,523.8 L57.6,523.9 L58.2,523.8 L58.6,523.5 L59.0,523.2 L59.2,522.6 L59.4,521.4 L59.4,520.9 L59.4,520.4 L59.5,519.8 L59.5,519.0 L59.6,518.2 L59.7,517.4 L59.7,516.5 L59.8,515.6 L59.8,514.7 L59.8,513.8 L59.9,512.9 L59.9,511.8 L59.9,510.8 L59.9,509.7 L59.9,508.6 L59.9,507.6 L59.9,506.6 L60.0,505.7 L60.0,505.0 L60.0,504.4 L59.9,503.3 L59.7,502.7 L59.5,502.3 L59.0,502.0 L58.5,501.9 L57.3,501.8 L56.1,501.9 L55.5,502.0 L55.1,502.3 L54.9,502.7 L54.7,503.3Z" fill="#3650d0" filter="url(#b4)" opacity="1.0"/>
<path d="M74.2,503.9 L74.2,504.5 L74.2,505.4 L74.2,506.3 L74.2,507.4 L74.1,508.7 L74.1,509.9 L74.1,511.2 L74.0,512.5 L74.0,513.8 L74.0,515.0 L73.9,516.2 L73.9,517.4 L73.8,518.6 L73.8,519.8 L73.7,520.9 L73.7,522.0 L73.6,523.0 L73.6,523.9 L73.5,524.6 L73.5,525.1 L73.8,527.7 L74.2,528.9 L74.8,529.7 L75.8,530.3 L77.0,530.6 L79.6,530.5 L82.1,530.3 L83.3,529.8 L84.2,529.2 L84.7,528.3 L85.0,527.0 L85.0,524.4 L84.9,523.8 L84.7,523.1 L84.6,522.2 L84.4,521.3 L84.2,520.3 L84.0,519.2 L83.8,518.1 L83.7,517.1 L83.6,516.1 L83.6,515.2 L83.6,514.2 L83.7,513.2 L83.9,512.0 L84.1,510.9 L84.3,509.7 L84.5,508.5 L84.7,507.5 L84.9,506.5 L85.1,505.7 L85.2,505.0 L85.3,502.5 L85.1,501.3 L84.6,500.4 L83.8,499.8 L82.7,499.3 L80.2,499.0 L77.8,498.8 L76.6,499.1 L75.7,499.6 L75.0,500.4 L74.5,501.5Z" fill="#1e1e84" filter="url(#b1)" opacity="1.0"/>
<path d="M75.5,504.1 L75.4,504.7 L75.4,505.5 L75.4,506.5 L75.3,507.6 L75.3,508.8 L75.3,510.0 L75.2,511.3 L75.2,512.6 L75.1,513.8 L75.1,515.0 L75.0,516.1 L75.0,517.3 L75.0,518.5 L75.0,519.7 L74.9,520.8 L74.9,521.9 L74.9,522.9 L74.8,523.8 L74.8,524.5 L74.8,525.0 L75.0,527.0 L75.3,527.9 L75.9,528.6 L76.6,529.0 L77.5,529.2 L79.5,529.2 L81.5,529.0 L82.4,528.7 L83.0,528.2 L83.5,527.5 L83.7,526.5 L83.7,524.5 L83.6,523.9 L83.4,523.2 L83.3,522.3 L83.1,521.4 L83.0,520.3 L82.8,519.3 L82.7,518.2 L82.6,517.1 L82.5,516.1 L82.5,515.2 L82.5,514.2 L82.6,513.1 L82.7,511.9 L82.9,510.7 L83.1,509.6 L83.3,508.4 L83.5,507.3 L83.7,506.4 L83.8,505.5 L83.9,504.9 L84.0,503.0 L83.8,502.0 L83.5,501.4 L82.9,500.9 L82.0,500.5 L80.1,500.2 L78.2,500.1 L77.3,500.3 L76.6,500.7 L76.1,501.3 L75.7,502.2Z" fill="#2a3cb6" filter="url(#b1)" opacity="1.0"/>
<path d="M77.1,504.2 L77.0,504.8 L77.0,505.6 L76.9,506.6 L76.8,507.7 L76.8,508.9 L76.7,510.2 L76.6,511.4 L76.6,512.7 L76.5,513.9 L76.5,515.0 L76.4,516.1 L76.4,517.3 L76.4,518.5 L76.4,519.6 L76.4,520.7 L76.4,521.8 L76.5,522.8 L76.5,523.7 L76.5,524.4 L76.5,524.9 L76.6,526.2 L76.8,526.7 L77.1,527.2 L77.6,527.4 L78.2,527.6 L79.4,527.5 L80.6,527.4 L81.2,527.2 L81.6,526.9 L81.9,526.4 L82.0,525.8 L82.0,524.6 L81.9,524.0 L81.8,523.3 L81.7,522.4 L81.6,521.5 L81.5,520.4 L81.3,519.4 L81.2,518.3 L81.1,517.2 L81.1,516.1 L81.1,515.1 L81.1,514.1 L81.2,513.0 L81.3,511.8 L81.5,510.6 L81.6,509.4 L81.8,508.3 L82.0,507.2 L82.1,506.2 L82.3,505.4 L82.3,504.7 L82.4,503.5 L82.3,503.0 L82.0,502.5 L81.7,502.2 L81.1,502.0 L79.9,501.8 L78.8,501.8 L78.2,501.9 L77.8,502.1 L77.4,502.5 L77.2,503.0Z" fill="#3650d0" filter="url(#b4)" opacity="1.0"/>
<path d="M112.4,501.5 L112.4,502.2 L112.4,503.2 L112.4,504.2 L112.3,505.3 L112.3,506.3 L112.2,507.4 L112.1,508.4 L112.0,509.3 L111.8,510.1 L111.6,510.8 L111.3,511.4 L111.0,512.3 L110.5,513.3 L110.0,514.3 L109.4,515.5 L108.8,516.7 L108.2,517.9 L107.5,519.2 L107.0,520.6 L106.4,521.9 L106.0,523.1 L105.7,524.3 L105.3,525.5 L105.0,526.7 L104.8,527.9 L104.5,529.0 L104.3,530.0 L104.1,530.9 L104.0,531.7 L103.8,532.2 L102.8,535.7 L102.7,537.6 L103.1,539.0 L104.0,540.2 L105.5,541.3 L108.9,542.6 L112.3,543.7 L114.2,543.8 L115.6,543.4 L116.8,542.5 L117.9,541.0 L119.3,537.6 L119.5,537.0 L119.9,536.3 L120.3,535.5 L120.7,534.6 L121.2,533.6 L121.7,532.5 L122.2,531.4 L122.7,530.3 L123.2,529.2 L123.6,528.1 L123.9,527.1 L124.3,526.0 L124.7,524.8 L125.2,523.4 L125.7,522.0 L126.1,520.5 L126.6,518.9 L127.0,517.3 L127.3,515.6 L127.6,513.8 L127.8,512.0 L127.9,510.3 L127.8,508.6 L127.7,507.1 L127.5,505.6 L127.3,504.3 L127.2,503.2 L127.0,502.2 L126.9,501.5 L126.8,501.0 L126.6,497.8 L126.1,496.3 L125.3,495.2 L124.2,494.5 L122.6,494.1 L119.4,494.0 L116.2,494.3 L114.7,494.8 L113.6,495.6 L112.9,496.7 L112.5,498.3Z" fill="#1e1e84" filter="url(#b1)" opacity="1.0"/>
<path d="M114.1,501.4 L114.1,502.2 L114.1,503.1 L114.1,504.1 L114.1,505.1 L114.1,506.2 L114.0,507.3 L113.9,508.4 L113.8,509.5 L113.7,510.4 L113.5,511.1 L113.2,511.9 L112.8,512.9 L112.4,513.9 L111.8,515.0 L111.3,516.2 L110.7,517.4 L110.1,518.7 L109.5,520.0 L108.9,521.3 L108.4,522.6 L108.0,523.8 L107.6,525.0 L107.3,526.2 L107.0,527.4 L106.7,528.6 L106.4,529.7 L106.2,530.6 L105.9,531.5 L105.8,532.3 L105.6,532.9 L104.8,535.5 L104.7,536.9 L105.1,538.1 L105.7,539.0 L106.9,539.8 L109.5,540.9 L112.2,541.7 L113.6,541.7 L114.7,541.4 L115.6,540.7 L116.4,539.6 L117.5,537.0 L117.7,536.4 L118.0,535.7 L118.4,534.9 L118.9,534.0 L119.3,533.0 L119.8,531.9 L120.3,530.8 L120.7,529.6 L121.2,528.5 L121.6,527.4 L122.0,526.4 L122.4,525.2 L122.8,524.0 L123.3,522.6 L123.8,521.2 L124.3,519.8 L124.7,518.3 L125.1,516.7 L125.5,515.1 L125.8,513.5 L126.0,511.8 L126.0,510.2 L126.0,508.6 L125.9,507.1 L125.8,505.7 L125.6,504.4 L125.5,503.3 L125.3,502.3 L125.2,501.6 L125.2,501.1 L125.0,498.6 L124.6,497.4 L124.0,496.6 L123.1,496.0 L121.9,495.7 L119.4,495.7 L117.0,495.9 L115.8,496.3 L115.0,496.9 L114.4,497.7 L114.1,498.9Z" fill="#2a3cb6" filter="url(#b1)" opacity="1.0"/>
<path d="M116.2,501.3 L116.2,502.1 L116.2,503.0 L116.2,503.9 L116.2,505.0 L116.3,506.1 L116.2,507.3 L116.2,508.5 L116.1,509.6 L116.0,510.6 L115.8,511.6 L115.5,512.5 L115.1,513.6 L114.7,514.7 L114.2,515.9 L113.6,517.2 L113.0,518.4 L112.5,519.7 L111.9,521.0 L111.4,522.3 L110.9,523.5 L110.5,524.7 L110.1,525.9 L109.7,527.1 L109.4,528.3 L109.0,529.4 L108.7,530.5 L108.5,531.4 L108.2,532.3 L108.0,533.1 L107.8,533.6 L107.3,535.3 L107.3,536.2 L107.5,536.9 L107.9,537.5 L108.6,538.0 L110.3,538.6 L111.9,539.1 L112.8,539.2 L113.5,539.0 L114.1,538.6 L114.6,537.8 L115.3,536.2 L115.5,535.6 L115.8,534.9 L116.1,534.1 L116.5,533.2 L116.9,532.1 L117.4,531.0 L117.8,529.9 L118.3,528.8 L118.7,527.6 L119.1,526.5 L119.5,525.4 L120.0,524.3 L120.4,523.0 L120.9,521.7 L121.4,520.3 L121.9,518.9 L122.4,517.4 L122.8,516.0 L123.2,514.5 L123.5,513.0 L123.7,511.5 L123.7,510.0 L123.7,508.6 L123.7,507.2 L123.6,505.8 L123.4,504.6 L123.3,503.4 L123.2,502.5 L123.1,501.7 L123.1,501.1 L123.0,499.6 L122.7,498.8 L122.3,498.3 L121.8,498.0 L121.1,497.8 L119.5,497.8 L118.0,497.9 L117.2,498.1 L116.7,498.5 L116.4,499.1 L116.2,499.8Z" fill="#3650d0" filter="url(#b4)" opacity="1.0"/>
<path d="M139.5,495.8 L139.1,496.2 L138.6,496.8 L138.0,497.6 L137.2,498.6 L136.2,499.7 L135.3,500.9 L134.3,502.2 L133.3,503.7 L132.4,505.3 L131.6,507.0 L131.0,508.6 L130.5,510.1 L130.1,511.6 L129.6,513.2 L129.3,514.8 L129.0,516.5 L128.8,518.2 L128.7,519.9 L128.7,521.7 L128.8,523.6 L129.1,525.6 L129.6,527.6 L130.1,529.5 L130.8,531.3 L131.4,533.0 L132.1,534.6 L132.7,536.0 L133.2,537.2 L133.6,538.1 L133.8,538.7 L135.2,542.1 L136.2,543.6 L137.4,544.5 L138.9,544.9 L140.7,544.8 L144.2,543.8 L147.6,542.5 L149.1,541.4 L150.0,540.2 L150.4,538.7 L150.3,536.9 L149.3,533.4 L149.0,532.5 L148.6,531.3 L148.2,530.1 L147.7,528.7 L147.3,527.4 L146.9,526.0 L146.5,524.7 L146.3,523.5 L146.1,522.5 L146.0,521.8 L145.9,521.1 L145.9,520.2 L145.9,519.3 L145.9,518.4 L146.0,517.4 L146.1,516.5 L146.3,515.5 L146.4,514.6 L146.6,513.7 L146.8,513.0 L147.0,512.4 L147.3,511.7 L147.8,510.9 L148.3,510.0 L148.9,509.1 L149.6,508.1 L150.2,507.2 L150.8,506.4 L151.5,505.5 L151.9,504.8 L153.8,501.9 L154.4,500.3 L154.4,498.9 L153.9,497.5 L152.9,496.2 L150.2,494.1 L147.3,492.2 L145.7,491.6 L144.3,491.6 L142.9,492.1 L141.6,493.1Z" fill="#1e1e84" filter="url(#b1)" opacity="1.0"/>
<path d="M140.9,496.9 L140.6,497.3 L140.1,497.9 L139.4,498.7 L138.6,499.7 L137.7,500.7 L136.8,501.9 L135.9,503.2 L135.0,504.6 L134.1,506.2 L133.4,507.7 L132.8,509.2 L132.4,510.6 L131.9,512.1 L131.5,513.6 L131.2,515.1 L131.0,516.7 L130.8,518.3 L130.7,519.9 L130.7,521.6 L130.8,523.4 L131.1,525.2 L131.5,527.1 L132.0,528.9 L132.6,530.7 L133.2,532.4 L133.9,533.9 L134.5,535.3 L135.0,536.5 L135.3,537.4 L135.6,538.1 L136.6,540.7 L137.4,541.9 L138.4,542.6 L139.5,542.9 L140.9,542.8 L143.6,542.0 L146.2,541.0 L147.3,540.2 L148.0,539.3 L148.3,538.1 L148.3,536.7 L147.5,534.0 L147.2,533.1 L146.8,532.0 L146.4,530.8 L145.9,529.4 L145.5,528.0 L145.0,526.6 L144.6,525.2 L144.3,524.0 L144.1,522.9 L144.0,522.0 L143.9,521.2 L143.9,520.2 L143.9,519.2 L144.0,518.1 L144.1,517.1 L144.2,516.1 L144.4,515.1 L144.6,514.1 L144.8,513.1 L145.1,512.3 L145.3,511.6 L145.7,510.8 L146.2,509.9 L146.8,508.9 L147.5,508.0 L148.1,507.0 L148.8,506.1 L149.4,505.3 L150.0,504.4 L150.5,503.8 L151.9,501.6 L152.4,500.3 L152.4,499.2 L152.0,498.2 L151.2,497.1 L149.2,495.5 L146.9,494.1 L145.7,493.6 L144.6,493.6 L143.6,494.0 L142.5,494.8Z" fill="#2a3cb6" filter="url(#b1)" opacity="1.0"/>
<path d="M142.7,498.2 L142.3,498.6 L141.8,499.3 L141.1,500.1 L140.4,501.0 L139.5,502.1 L138.7,503.3 L137.8,504.5 L137.0,505.8 L136.2,507.2 L135.6,508.6 L135.1,509.9 L134.7,511.3 L134.3,512.6 L133.9,514.0 L133.6,515.5 L133.4,517.0 L133.2,518.5 L133.2,520.0 L133.2,521.5 L133.3,523.1 L133.5,524.8 L133.9,526.5 L134.4,528.2 L134.9,529.9 L135.5,531.5 L136.1,533.1 L136.7,534.5 L137.2,535.7 L137.6,536.6 L137.8,537.4 L138.5,539.0 L139.0,539.7 L139.6,540.1 L140.3,540.3 L141.1,540.3 L142.8,539.8 L144.4,539.2 L145.2,538.6 L145.6,538.1 L145.8,537.4 L145.7,536.5 L145.3,534.8 L145.0,533.9 L144.6,532.8 L144.1,531.6 L143.7,530.3 L143.2,528.8 L142.7,527.4 L142.3,525.9 L141.9,524.6 L141.7,523.3 L141.5,522.3 L141.5,521.2 L141.4,520.1 L141.5,519.0 L141.5,517.9 L141.7,516.7 L141.8,515.6 L142.1,514.5 L142.3,513.4 L142.6,512.4 L142.9,511.4 L143.2,510.6 L143.7,509.6 L144.3,508.6 L144.9,507.6 L145.6,506.6 L146.3,505.6 L147.0,504.7 L147.7,503.9 L148.3,503.1 L148.7,502.5 L149.6,501.1 L149.9,500.3 L149.9,499.6 L149.7,499.0 L149.1,498.3 L147.9,497.3 L146.5,496.4 L145.7,496.1 L145.0,496.1 L144.4,496.4 L143.7,496.9Z" fill="#3650d0" filter="url(#b4)" opacity="1.0"/>
<circle cx="56.6" cy="507.7" r="3.60" fill="#5a2030" opacity="0.5" filter="url(#b5)"/>
<circle cx="56.6" cy="507.7" r="2.70" fill="#c0681c" filter="url(#b5)"/>
<circle cx="79.7" cy="508.8" r="3.60" fill="#5a2030" opacity="0.5" filter="url(#b5)"/>
<circle cx="79.7" cy="508.8" r="2.70" fill="#c0681c" filter="url(#b5)"/>
<circle cx="116.2" cy="495.0" r="2.60" fill="#30140c" opacity="0.9" filter="url(#b5)"/>
<circle cx="55.0" cy="503.1" r="2.90" fill="#5a2030" opacity="0.55" filter="url(#b5)"/>
<circle cx="55.0" cy="503.1" r="2.00" fill="#f08a18" filter="url(#b2)"/>
<circle cx="55.0" cy="503.1" r="1.00" fill="#ffc838" filter="url(#b3)"/>
<circle cx="58.5" cy="502.6" r="2.90" fill="#5a2030" opacity="0.55" filter="url(#b5)"/>
<circle cx="58.5" cy="502.6" r="2.00" fill="#f08a18" filter="url(#b2)"/>
<circle cx="58.5" cy="502.6" r="1.00" fill="#ffc838" filter="url(#b3)"/>
<circle cx="53.4" cy="523.2" r="2.90" fill="#5a2030" opacity="0.55" filter="url(#b5)"/>
<circle cx="53.4" cy="523.2" r="2.00" fill="#f08a18" filter="url(#b2)"/>
<circle cx="53.4" cy="523.2" r="1.00" fill="#ffc838" filter="url(#b3)"/>
<circle cx="59.6" cy="523.4" r="2.90" fill="#5a2030" opacity="0.55" filter="url(#b5)"/>
<circle cx="59.6" cy="523.4" r="2.00" fill="#f08a18" filter="url(#b2)"/>
<circle cx="59.6" cy="523.4" r="1.00" fill="#ffc838" filter="url(#b3)"/>
<circle cx="78.1" cy="503.1" r="2.90" fill="#5a2030" opacity="0.55" filter="url(#b5)"/>
<circle cx="78.1" cy="503.1" r="2.00" fill="#f08a18" filter="url(#b2)"/>
<circle cx="78.1" cy="503.1" r="1.00" fill="#ffc838" filter="url(#b3)"/>
<circle cx="81.5" cy="503.1" r="2.90" fill="#5a2030" opacity="0.55" filter="url(#b5)"/>
<circle cx="81.5" cy="503.1" r="2.00" fill="#f08a18" filter="url(#b2)"/>
<circle cx="81.5" cy="503.1" r="1.00" fill="#ffc838" filter="url(#b3)"/>
<circle cx="76.5" cy="527.8" r="2.90" fill="#5a2030" opacity="0.55" filter="url(#b5)"/>
<circle cx="76.5" cy="527.8" r="2.00" fill="#f08a18" filter="url(#b2)"/>
<circle cx="76.5" cy="527.8" r="1.00" fill="#ffc838" filter="url(#b3)"/>
<circle cx="82.2" cy="525.0" r="2.90" fill="#5a2030" opacity="0.55" filter="url(#b5)"/>
<circle cx="82.2" cy="525.0" r="2.00" fill="#f08a18" filter="url(#b2)"/>
<circle cx="82.2" cy="525.0" r="1.00" fill="#ffc838" filter="url(#b3)"/>
<circle cx="147.3" cy="496.6" r="2.90" fill="#5a2030" opacity="0.55" filter="url(#b5)"/>
<circle cx="147.3" cy="496.6" r="2.00" fill="#f08a18" filter="url(#b2)"/>
<circle cx="147.3" cy="496.6" r="1.00" fill="#ffc838" filter="url(#b3)"/>
<circle cx="150.1" cy="501.9" r="2.90" fill="#5a2030" opacity="0.55" filter="url(#b5)"/>
<circle cx="150.1" cy="501.9" r="2.00" fill="#f08a18" filter="url(#b2)"/>
<circle cx="150.1" cy="501.9" r="1.00" fill="#ffc838" filter="url(#b3)"/>
<circle cx="108.5" cy="535.4" r="2.90" fill="#5a2030" opacity="0.55" filter="url(#b5)"/>
<circle cx="108.5" cy="535.4" r="2.00" fill="#f08a18" filter="url(#b2)"/>
<circle cx="108.5" cy="535.4" r="1.00" fill="#ffc838" filter="url(#b3)"/>
<circle cx="114.3" cy="538.9" r="2.90" fill="#5a2030" opacity="0.55" filter="url(#b5)"/>
<circle cx="114.3" cy="538.9" r="2.00" fill="#f08a18" filter="url(#b2)"/>
<circle cx="114.3" cy="538.9" r="1.00" fill="#ffc838" filter="url(#b3)"/>
<circle cx="141.1" cy="536.5" r="2.90" fill="#5a2030" opacity="0.55" filter="url(#b5)"/>
<circle cx="141.1" cy="536.5" r="2.00" fill="#f08a18" filter="url(#b2)"/>
<circle cx="141.1" cy="536.5" r="1.00" fill="#ffc838" filter="url(#b3)"/>
<circle cx="144.3" cy="537.7" r="2.90" fill="#5a2030" opacity="0.55" filter="url(#b5)"/>
<circle cx="144.3" cy="537.7" r="2.00" fill="#f08a18" filter="url(#b2)"/>
<circle cx="144.3" cy="537.7" r="1.00" fill="#ffc838" filter="url(#b3)"/>
<text x="107.4" y="498.1" font-size="5.4" fill="#fff" text-anchor="middle" style="font-family:'DejaVu Sans',sans-serif">&#9733;</text>
<text transform="translate(47.0,553.7) scale(0.91,1)" font-size="10.8" fill="#f4f4f4">Cell 5</text>
</g>
<g>
<path d="M172.1,507.4 L172.0,508.0 L171.9,508.8 L171.8,509.7 L171.7,510.8 L171.6,511.9 L171.4,513.1 L171.3,514.3 L171.2,515.5 L171.0,516.7 L170.9,517.8 L170.7,518.9 L170.5,520.1 L170.3,521.4 L170.1,522.7 L169.9,524.0 L169.7,525.2 L169.6,526.3 L169.4,527.3 L169.3,528.2 L169.2,528.8 L169.0,531.7 L169.2,533.1 L169.8,534.2 L170.7,535.0 L172.1,535.5 L174.9,536.0 L177.8,536.2 L179.2,535.9 L180.3,535.3 L181.1,534.4 L181.6,533.1 L182.1,530.2 L182.1,529.6 L182.2,528.7 L182.2,527.7 L182.3,526.5 L182.4,525.3 L182.4,524.0 L182.5,522.7 L182.6,521.5 L182.7,520.3 L182.8,519.1 L182.9,518.0 L183.0,516.9 L183.1,515.7 L183.3,514.5 L183.4,513.3 L183.6,512.2 L183.7,511.1 L183.8,510.2 L183.9,509.4 L184.0,508.8 L184.2,506.2 L184.0,504.8 L183.4,503.9 L182.6,503.1 L181.4,502.6 L178.7,502.2 L176.1,502.0 L174.7,502.2 L173.8,502.7 L173.0,503.6 L172.5,504.8Z" fill="#1e1e84" filter="url(#b1)" opacity="1.0"/>
<path d="M173.4,507.6 L173.4,508.2 L173.3,509.0 L173.2,509.9 L173.1,510.9 L172.9,512.1 L172.8,513.2 L172.7,514.5 L172.5,515.7 L172.4,516.8 L172.2,517.9 L172.1,519.1 L171.9,520.3 L171.7,521.6 L171.6,522.9 L171.4,524.1 L171.2,525.3 L171.0,526.5 L170.9,527.5 L170.7,528.3 L170.7,529.0 L170.5,531.2 L170.7,532.3 L171.2,533.1 L171.9,533.7 L172.9,534.1 L175.1,534.5 L177.3,534.6 L178.4,534.4 L179.2,534.0 L179.8,533.3 L180.3,532.3 L180.6,530.1 L180.6,529.4 L180.7,528.5 L180.8,527.5 L180.8,526.4 L180.9,525.2 L181.0,523.9 L181.1,522.6 L181.2,521.3 L181.3,520.1 L181.4,519.0 L181.5,517.9 L181.6,516.7 L181.8,515.5 L181.9,514.3 L182.1,513.1 L182.2,512.0 L182.3,511.0 L182.4,510.1 L182.5,509.3 L182.6,508.7 L182.8,506.6 L182.6,505.6 L182.2,504.8 L181.5,504.3 L180.6,503.9 L178.6,503.5 L176.5,503.4 L175.5,503.6 L174.7,504.0 L174.2,504.6 L173.8,505.6Z" fill="#2a3cb6" filter="url(#b1)" opacity="1.0"/>
<path d="M175.2,507.8 L175.1,508.4 L175.0,509.2 L174.9,510.1 L174.8,511.1 L174.7,512.3 L174.5,513.4 L174.4,514.7 L174.2,515.9 L174.1,517.0 L174.0,518.1 L173.8,519.3 L173.7,520.5 L173.5,521.8 L173.3,523.0 L173.2,524.3 L173.0,525.5 L172.9,526.7 L172.7,527.7 L172.6,528.5 L172.5,529.2 L172.4,530.6 L172.6,531.3 L172.8,531.8 L173.3,532.1 L173.9,532.4 L175.3,532.6 L176.7,532.7 L177.4,532.6 L177.9,532.3 L178.3,531.9 L178.5,531.2 L178.7,529.9 L178.8,529.2 L178.9,528.3 L178.9,527.3 L179.0,526.2 L179.1,525.0 L179.2,523.7 L179.4,522.4 L179.5,521.1 L179.6,519.9 L179.7,518.8 L179.8,517.7 L179.9,516.5 L180.1,515.3 L180.2,514.1 L180.4,512.9 L180.5,511.8 L180.6,510.8 L180.7,509.9 L180.8,509.1 L180.9,508.5 L181.0,507.2 L180.9,506.5 L180.6,506.1 L180.2,505.7 L179.6,505.5 L178.4,505.3 L177.1,505.2 L176.4,505.3 L176.0,505.5 L175.6,505.9 L175.4,506.5Z" fill="#3650d0" filter="url(#b4)" opacity="1.0"/>
<path d="M194.4,511.4 L194.3,512.0 L194.3,512.8 L194.3,513.8 L194.2,514.8 L194.2,516.0 L194.1,517.2 L194.1,518.4 L194.0,519.7 L193.9,520.8 L193.9,521.9 L193.8,523.0 L193.8,524.1 L193.7,525.2 L193.7,526.3 L193.6,527.3 L193.5,528.3 L193.5,529.2 L193.5,530.0 L193.4,530.7 L193.4,531.2 L193.5,534.3 L194.0,535.8 L194.7,536.9 L195.8,537.6 L197.3,538.1 L200.4,538.2 L203.5,538.0 L205.0,537.6 L206.1,536.9 L206.8,535.8 L207.3,534.3 L207.4,531.2 L207.4,530.6 L207.3,529.9 L207.2,529.1 L207.2,528.2 L207.1,527.2 L207.0,526.2 L207.0,525.2 L206.9,524.2 L206.9,523.2 L206.9,522.2 L206.9,521.3 L206.9,520.2 L207.0,519.0 L207.0,517.8 L207.1,516.7 L207.2,515.5 L207.2,514.5 L207.3,513.5 L207.3,512.7 L207.4,512.1 L207.4,509.2 L207.0,507.7 L206.4,506.7 L205.4,506.0 L204.1,505.5 L201.2,505.2 L198.3,505.2 L196.9,505.6 L195.9,506.2 L195.1,507.2 L194.7,508.5Z" fill="#1e1e84" filter="url(#b1)" opacity="0.62"/>
<path d="M195.9,511.5 L195.8,512.1 L195.8,512.9 L195.8,513.8 L195.7,514.9 L195.7,516.1 L195.6,517.3 L195.5,518.5 L195.5,519.7 L195.4,520.9 L195.4,521.9 L195.3,523.0 L195.3,524.1 L195.3,525.2 L195.2,526.3 L195.2,527.3 L195.1,528.3 L195.1,529.2 L195.1,530.0 L195.0,530.7 L195.0,531.2 L195.1,533.6 L195.5,534.8 L196.0,535.6 L196.9,536.2 L198.0,536.5 L200.4,536.6 L202.8,536.5 L204.0,536.1 L204.8,535.6 L205.3,534.7 L205.7,533.6 L205.8,531.2 L205.7,530.6 L205.7,529.9 L205.7,529.1 L205.6,528.2 L205.5,527.3 L205.5,526.2 L205.4,525.2 L205.4,524.2 L205.4,523.1 L205.4,522.2 L205.4,521.2 L205.4,520.1 L205.5,519.0 L205.5,517.8 L205.6,516.6 L205.7,515.4 L205.7,514.4 L205.8,513.4 L205.8,512.6 L205.9,512.0 L205.9,509.8 L205.6,508.7 L205.1,507.9 L204.4,507.3 L203.3,506.9 L201.1,506.7 L198.9,506.7 L197.8,507.0 L197.0,507.5 L196.4,508.2 L196.1,509.3Z" fill="#2a3cb6" filter="url(#b1)" opacity="0.62"/>
<path d="M197.7,511.6 L197.7,512.2 L197.7,513.0 L197.6,513.9 L197.6,515.0 L197.5,516.2 L197.5,517.4 L197.4,518.6 L197.4,519.8 L197.3,520.9 L197.3,522.0 L197.2,523.0 L197.2,524.1 L197.2,525.2 L197.1,526.3 L197.1,527.3 L197.1,528.3 L197.1,529.2 L197.0,530.0 L197.0,530.7 L197.0,531.2 L197.1,532.7 L197.3,533.4 L197.7,533.9 L198.2,534.3 L198.9,534.5 L200.4,534.6 L201.9,534.5 L202.6,534.3 L203.1,533.9 L203.5,533.4 L203.7,532.7 L203.7,531.2 L203.7,530.6 L203.7,529.9 L203.7,529.1 L203.6,528.2 L203.6,527.3 L203.6,526.2 L203.5,525.2 L203.5,524.1 L203.5,523.1 L203.5,522.1 L203.5,521.1 L203.6,520.0 L203.6,518.9 L203.7,517.7 L203.7,516.5 L203.8,515.3 L203.9,514.3 L203.9,513.3 L204.0,512.5 L204.0,511.9 L204.0,510.5 L203.8,509.8 L203.5,509.3 L203.1,509.0 L202.4,508.7 L201.0,508.6 L199.6,508.6 L198.9,508.8 L198.5,509.1 L198.1,509.5 L197.9,510.2Z" fill="#3650d0" filter="url(#b4)" opacity="0.62"/>
<path d="M231.8,500.0 L232.0,500.7 L232.3,501.7 L232.7,502.7 L233.1,504.0 L233.5,505.3 L233.9,506.7 L234.2,508.2 L234.5,509.7 L234.7,511.2 L234.8,512.7 L234.8,514.1 L234.7,515.7 L234.5,517.2 L234.2,518.8 L233.9,520.4 L233.6,522.1 L233.3,523.7 L233.0,525.2 L232.7,526.8 L232.5,528.3 L232.4,529.8 L232.3,531.4 L232.2,533.1 L232.2,534.9 L232.1,536.6 L232.1,538.2 L232.1,539.7 L232.1,541.1 L232.1,542.3 L232.0,543.2 L232.2,547.0 L232.7,548.8 L233.6,550.1 L234.9,551.0 L236.7,551.5 L240.5,551.7 L244.3,551.6 L246.1,551.0 L247.4,550.2 L248.3,548.9 L248.8,547.0 L249.0,543.3 L249.0,542.4 L249.0,541.2 L249.0,539.9 L249.0,538.3 L249.0,536.7 L249.0,534.9 L248.9,533.1 L248.8,531.3 L248.7,529.6 L248.5,527.9 L248.3,526.3 L247.9,524.6 L247.5,523.0 L247.0,521.4 L246.5,519.8 L246.0,518.2 L245.6,516.6 L245.2,515.1 L245.0,513.7 L244.8,512.2 L244.8,510.8 L244.9,509.3 L245.1,507.8 L245.3,506.3 L245.6,504.9 L245.9,503.5 L246.2,502.3 L246.5,501.1 L246.7,500.2 L246.8,499.4 L246.5,496.1 L246.0,494.5 L245.2,493.4 L244.0,492.7 L242.4,492.2 L239.1,492.2 L235.7,492.5 L234.1,493.0 L233.0,493.8 L232.3,495.0 L231.9,496.7Z" fill="#1e1e84" filter="url(#b1)" opacity="1.0"/>
<path d="M233.6,499.9 L233.7,500.7 L234.0,501.6 L234.2,502.7 L234.5,503.9 L234.9,505.3 L235.2,506.7 L235.5,508.2 L235.7,509.7 L235.9,511.2 L236.0,512.6 L236.0,514.1 L235.9,515.6 L235.7,517.2 L235.6,518.8 L235.3,520.4 L235.1,522.0 L234.9,523.6 L234.7,525.2 L234.5,526.7 L234.4,528.2 L234.3,529.8 L234.2,531.4 L234.2,533.1 L234.1,534.9 L234.1,536.6 L234.1,538.2 L234.0,539.8 L234.0,541.1 L234.0,542.3 L234.0,543.2 L234.1,546.1 L234.5,547.5 L235.2,548.5 L236.2,549.2 L237.6,549.6 L240.5,549.8 L243.4,549.6 L244.8,549.2 L245.8,548.6 L246.5,547.6 L246.9,546.2 L247.1,543.2 L247.1,542.4 L247.1,541.2 L247.1,539.9 L247.1,538.3 L247.1,536.7 L247.0,534.9 L247.0,533.1 L246.9,531.3 L246.8,529.6 L246.7,527.9 L246.5,526.3 L246.2,524.7 L245.8,523.1 L245.4,521.5 L245.0,519.9 L244.7,518.3 L244.3,516.7 L244.0,515.2 L243.8,513.7 L243.7,512.3 L243.6,510.8 L243.7,509.4 L243.8,507.9 L244.0,506.4 L244.2,504.9 L244.4,503.6 L244.6,502.3 L244.8,501.2 L245.0,500.3 L245.1,499.5 L244.9,496.9 L244.5,495.7 L243.8,494.9 L242.9,494.3 L241.7,494.0 L239.1,493.9 L236.6,494.2 L235.3,494.6 L234.5,495.2 L233.9,496.1 L233.6,497.4Z" fill="#2a3cb6" filter="url(#b1)" opacity="1.0"/>
<path d="M235.7,499.8 L235.8,500.6 L236.0,501.5 L236.2,502.6 L236.4,503.9 L236.6,505.2 L236.8,506.6 L237.0,508.1 L237.2,509.6 L237.3,511.1 L237.4,512.6 L237.4,514.0 L237.4,515.5 L237.4,517.1 L237.3,518.7 L237.2,520.3 L237.1,521.9 L236.9,523.5 L236.8,525.1 L236.7,526.6 L236.7,528.2 L236.6,529.7 L236.6,531.4 L236.6,533.1 L236.5,534.9 L236.5,536.6 L236.5,538.2 L236.5,539.8 L236.5,541.1 L236.5,542.3 L236.4,543.2 L236.5,545.0 L236.8,545.9 L237.2,546.5 L237.8,547.0 L238.7,547.2 L240.5,547.3 L242.3,547.2 L243.2,547.0 L243.8,546.6 L244.3,545.9 L244.5,545.1 L244.6,543.2 L244.6,542.3 L244.6,541.2 L244.6,539.8 L244.6,538.3 L244.6,536.6 L244.6,534.9 L244.6,533.1 L244.5,531.4 L244.5,529.6 L244.4,528.0 L244.2,526.4 L244.0,524.8 L243.8,523.2 L243.5,521.6 L243.2,520.0 L243.0,518.4 L242.7,516.8 L242.5,515.3 L242.3,513.8 L242.2,512.3 L242.2,510.9 L242.2,509.4 L242.2,507.9 L242.3,506.4 L242.4,505.0 L242.6,503.6 L242.7,502.4 L242.8,501.3 L242.9,500.3 L242.9,499.6 L242.8,498.0 L242.5,497.2 L242.1,496.7 L241.6,496.3 L240.8,496.1 L239.2,496.1 L237.6,496.2 L236.8,496.5 L236.3,496.9 L235.9,497.5 L235.7,498.2Z" fill="#3650d0" filter="url(#b4)" opacity="1.0"/>
<path d="M260.5,500.6 L260.5,501.4 L260.5,502.6 L260.4,503.9 L260.4,505.4 L260.4,507.1 L260.4,508.8 L260.4,510.6 L260.3,512.5 L260.3,514.2 L260.3,516.0 L260.2,517.6 L260.1,519.4 L260.0,521.1 L259.9,522.9 L259.8,524.7 L259.7,526.5 L259.6,528.3 L259.5,530.0 L259.5,531.6 L259.5,533.2 L259.6,534.8 L259.7,536.3 L259.8,537.9 L260.0,539.4 L260.2,540.9 L260.4,542.2 L260.6,543.5 L260.7,544.5 L260.9,545.4 L261.0,546.2 L261.3,549.0 L261.9,550.4 L262.6,551.3 L263.7,551.9 L265.1,552.2 L268.0,552.1 L270.8,551.7 L272.2,551.2 L273.1,550.5 L273.7,549.4 L274.0,548.0 L273.9,545.1 L273.9,544.3 L273.9,543.4 L273.8,542.3 L273.8,541.1 L273.8,539.7 L273.7,538.3 L273.7,536.9 L273.6,535.5 L273.6,534.0 L273.5,532.6 L273.4,531.1 L273.2,529.5 L273.1,527.9 L272.9,526.2 L272.8,524.5 L272.6,522.8 L272.5,521.1 L272.4,519.4 L272.3,517.7 L272.2,516.2 L272.3,514.6 L272.4,512.9 L272.5,511.2 L272.6,509.5 L272.8,507.8 L272.9,506.2 L273.1,504.7 L273.3,503.3 L273.4,502.2 L273.5,501.3 L273.5,498.4 L273.2,496.9 L272.5,495.9 L271.6,495.2 L270.2,494.7 L267.3,494.4 L264.4,494.4 L263.0,494.7 L262.0,495.4 L261.2,496.3 L260.8,497.7Z" fill="#1e1e84" filter="url(#b1)" opacity="0.8"/>
<path d="M262.0,500.6 L262.0,501.5 L261.9,502.7 L261.9,504.0 L261.9,505.5 L261.8,507.2 L261.8,508.9 L261.8,510.7 L261.7,512.5 L261.7,514.3 L261.6,516.0 L261.6,517.7 L261.5,519.4 L261.4,521.1 L261.3,522.9 L261.3,524.7 L261.2,526.5 L261.1,528.2 L261.1,529.9 L261.1,531.5 L261.1,533.1 L261.2,534.7 L261.3,536.2 L261.4,537.8 L261.6,539.3 L261.8,540.7 L261.9,542.1 L262.1,543.3 L262.3,544.4 L262.4,545.3 L262.5,546.0 L262.8,548.2 L263.1,549.3 L263.7,550.0 L264.5,550.5 L265.6,550.7 L267.9,550.6 L270.1,550.3 L271.1,549.9 L271.8,549.3 L272.3,548.5 L272.5,547.4 L272.4,545.2 L272.4,544.5 L272.4,543.5 L272.3,542.4 L272.3,541.2 L272.2,539.9 L272.1,538.5 L272.1,537.0 L272.0,535.6 L271.9,534.1 L271.9,532.7 L271.8,531.2 L271.7,529.6 L271.5,528.0 L271.4,526.3 L271.3,524.5 L271.1,522.8 L271.0,521.1 L270.9,519.4 L270.9,517.7 L270.9,516.1 L270.9,514.5 L271.0,512.9 L271.1,511.1 L271.2,509.4 L271.3,507.7 L271.5,506.1 L271.6,504.6 L271.8,503.2 L271.9,502.1 L272.0,501.2 L272.0,499.0 L271.7,497.9 L271.2,497.1 L270.5,496.5 L269.4,496.1 L267.2,495.9 L265.0,495.9 L263.9,496.2 L263.1,496.6 L262.6,497.4 L262.2,498.4Z" fill="#2a3cb6" filter="url(#b1)" opacity="0.8"/>
<path d="M263.9,500.7 L263.8,501.6 L263.8,502.8 L263.7,504.1 L263.7,505.6 L263.6,507.3 L263.6,509.0 L263.5,510.8 L263.5,512.6 L263.4,514.3 L263.4,516.0 L263.3,517.7 L263.3,519.4 L263.2,521.1 L263.2,522.9 L263.1,524.7 L263.1,526.4 L263.1,528.2 L263.1,529.9 L263.1,531.5 L263.1,533.0 L263.2,534.6 L263.3,536.1 L263.4,537.7 L263.6,539.1 L263.7,540.6 L263.9,541.9 L264.0,543.2 L264.2,544.2 L264.3,545.2 L264.3,545.9 L264.5,547.3 L264.8,547.9 L265.1,548.4 L265.6,548.7 L266.3,548.8 L267.7,548.7 L269.1,548.6 L269.7,548.3 L270.2,547.9 L270.5,547.4 L270.6,546.8 L270.6,545.4 L270.5,544.6 L270.5,543.7 L270.4,542.6 L270.3,541.4 L270.2,540.0 L270.2,538.6 L270.1,537.2 L270.0,535.7 L269.9,534.2 L269.9,532.7 L269.8,531.2 L269.7,529.7 L269.6,528.0 L269.5,526.3 L269.4,524.6 L269.3,522.8 L269.2,521.1 L269.2,519.4 L269.1,517.7 L269.1,516.1 L269.2,514.5 L269.2,512.8 L269.3,511.0 L269.4,509.3 L269.6,507.6 L269.7,506.0 L269.8,504.5 L269.9,503.1 L270.0,502.0 L270.1,501.1 L270.1,499.7 L269.9,499.0 L269.6,498.5 L269.2,498.2 L268.5,497.9 L267.1,497.8 L265.7,497.8 L265.1,497.9 L264.6,498.2 L264.2,498.7 L264.0,499.4Z" fill="#3650d0" filter="url(#b4)" opacity="0.8"/>
<circle cx="180.0" cy="512.5" r="3.60" fill="#5a2030" opacity="0.5" filter="url(#b5)"/>
<circle cx="180.0" cy="512.5" r="2.70" fill="#c0681c" filter="url(#b5)"/>
<circle cx="200.9" cy="517.7" r="2.60" fill="#30140c" opacity="0.9" filter="url(#b5)"/>
<circle cx="176.1" cy="506.9" r="2.90" fill="#5a2030" opacity="0.55" filter="url(#b5)"/>
<circle cx="176.1" cy="506.9" r="2.00" fill="#f08a18" filter="url(#b2)"/>
<circle cx="176.1" cy="506.9" r="1.00" fill="#ffc838" filter="url(#b3)"/>
<circle cx="179.2" cy="504.0" r="2.90" fill="#5a2030" opacity="0.55" filter="url(#b5)"/>
<circle cx="179.2" cy="504.0" r="2.00" fill="#f08a18" filter="url(#b2)"/>
<circle cx="179.2" cy="504.0" r="1.00" fill="#ffc838" filter="url(#b3)"/>
<circle cx="172.0" cy="530.5" r="2.90" fill="#5a2030" opacity="0.55" filter="url(#b5)"/>
<circle cx="172.0" cy="530.5" r="2.00" fill="#f08a18" filter="url(#b2)"/>
<circle cx="172.0" cy="530.5" r="1.00" fill="#ffc838" filter="url(#b3)"/>
<circle cx="178.8" cy="531.7" r="2.90" fill="#5a2030" opacity="0.55" filter="url(#b5)"/>
<circle cx="178.8" cy="531.7" r="2.00" fill="#f08a18" filter="url(#b2)"/>
<circle cx="178.8" cy="531.7" r="1.00" fill="#ffc838" filter="url(#b3)"/>
<circle cx="196.5" cy="532.9" r="2.90" fill="#5a2030" opacity="0.55" filter="url(#b5)"/>
<circle cx="196.5" cy="532.9" r="2.00" fill="#f08a18" filter="url(#b2)"/>
<circle cx="196.5" cy="532.9" r="1.00" fill="#ffc838" filter="url(#b3)"/>
<circle cx="204.0" cy="533.4" r="2.90" fill="#5a2030" opacity="0.55" filter="url(#b5)"/>
<circle cx="204.0" cy="533.4" r="2.00" fill="#f08a18" filter="url(#b2)"/>
<circle cx="204.0" cy="533.4" r="1.00" fill="#ffc838" filter="url(#b3)"/>
<circle cx="237.4" cy="497.3" r="2.90" fill="#5a2030" opacity="0.55" filter="url(#b5)"/>
<circle cx="237.4" cy="497.3" r="2.00" fill="#f08a18" filter="url(#b2)"/>
<circle cx="237.4" cy="497.3" r="1.00" fill="#ffc838" filter="url(#b3)"/>
<circle cx="240.5" cy="498.0" r="2.90" fill="#5a2030" opacity="0.55" filter="url(#b5)"/>
<circle cx="240.5" cy="498.0" r="2.00" fill="#f08a18" filter="url(#b2)"/>
<circle cx="240.5" cy="498.0" r="1.00" fill="#ffc838" filter="url(#b3)"/>
<circle cx="237.6" cy="543.7" r="2.90" fill="#5a2030" opacity="0.55" filter="url(#b5)"/>
<circle cx="237.6" cy="543.7" r="2.00" fill="#f08a18" filter="url(#b2)"/>
<circle cx="237.6" cy="543.7" r="1.00" fill="#ffc838" filter="url(#b3)"/>
<circle cx="243.4" cy="544.9" r="2.90" fill="#5a2030" opacity="0.55" filter="url(#b5)"/>
<circle cx="243.4" cy="544.9" r="2.00" fill="#f08a18" filter="url(#b2)"/>
<circle cx="243.4" cy="544.9" r="1.00" fill="#ffc838" filter="url(#b3)"/>
<circle cx="263.8" cy="497.5" r="2.90" fill="#5a2030" opacity="0.55" filter="url(#b5)"/>
<circle cx="263.8" cy="497.5" r="2.00" fill="#f08a18" filter="url(#b2)"/>
<circle cx="263.8" cy="497.5" r="1.00" fill="#ffc838" filter="url(#b3)"/>
<circle cx="270.1" cy="500.4" r="2.90" fill="#5a2030" opacity="0.55" filter="url(#b5)"/>
<circle cx="270.1" cy="500.4" r="2.00" fill="#f08a18" filter="url(#b2)"/>
<circle cx="270.1" cy="500.4" r="1.00" fill="#ffc838" filter="url(#b3)"/>
<circle cx="265.8" cy="548.0" r="2.90" fill="#5a2030" opacity="0.55" filter="url(#b5)"/>
<circle cx="265.8" cy="548.0" r="2.00" fill="#f08a18" filter="url(#b2)"/>
<circle cx="265.8" cy="548.0" r="1.00" fill="#ffc838" filter="url(#b3)"/>
<circle cx="269.4" cy="548.5" r="2.90" fill="#5a2030" opacity="0.55" filter="url(#b5)"/>
<circle cx="269.4" cy="548.5" r="2.00" fill="#f08a18" filter="url(#b2)"/>
<circle cx="269.4" cy="548.5" r="1.00" fill="#ffc838" filter="url(#b3)"/>
<text x="213.4" y="505.5" font-size="5.4" fill="#fff" text-anchor="middle" style="font-family:'DejaVu Sans',sans-serif">&#9733;</text>
<text transform="translate(166.3,553.7) scale(0.91,1)" font-size="10.8" fill="#f4f4f4">Cell 6</text>
</g>
<g>
<path d="M295.7,513.0 L295.6,513.6 L295.6,514.2 L295.5,515.1 L295.4,516.1 L295.3,517.1 L295.2,518.2 L295.1,519.3 L295.1,520.5 L295.0,521.6 L295.0,522.7 L295.0,523.7 L295.0,524.8 L295.0,525.8 L295.0,526.7 L295.1,527.6 L295.1,528.5 L295.2,529.2 L295.2,529.8 L295.2,530.3 L295.2,530.7 L295.7,533.7 L296.3,535.1 L297.1,536.1 L298.2,536.7 L299.7,536.9 L302.8,536.7 L305.8,536.3 L307.2,535.7 L308.2,534.8 L308.8,533.7 L309.0,532.2 L308.8,529.2 L308.7,528.7 L308.6,528.1 L308.5,527.5 L308.3,526.8 L308.2,526.1 L308.1,525.4 L307.9,524.6 L307.8,523.9 L307.8,523.3 L307.7,522.7 L307.7,522.0 L307.7,521.2 L307.8,520.2 L307.9,519.2 L308.0,518.2 L308.1,517.2 L308.1,516.3 L308.2,515.5 L308.3,514.7 L308.4,514.1 L308.5,511.3 L308.2,509.9 L307.6,508.9 L306.7,508.1 L305.4,507.6 L302.6,507.2 L299.7,507.1 L298.3,507.4 L297.3,508.0 L296.6,508.9 L296.0,510.2Z" fill="#1e1e84" filter="url(#b1)" opacity="0.9"/>
<path d="M297.1,513.2 L297.1,513.7 L297.0,514.4 L297.0,515.2 L296.9,516.2 L296.8,517.2 L296.7,518.3 L296.6,519.4 L296.5,520.5 L296.5,521.6 L296.4,522.7 L296.4,523.7 L296.5,524.7 L296.5,525.6 L296.5,526.6 L296.6,527.4 L296.6,528.3 L296.7,529.0 L296.7,529.6 L296.8,530.1 L296.8,530.5 L297.1,532.8 L297.6,533.9 L298.2,534.6 L299.1,535.1 L300.3,535.3 L302.6,535.2 L304.9,534.8 L306.0,534.3 L306.7,533.7 L307.2,532.8 L307.4,531.7 L307.3,529.3 L307.2,528.9 L307.1,528.3 L306.9,527.7 L306.8,527.0 L306.7,526.3 L306.6,525.5 L306.4,524.8 L306.3,524.0 L306.3,523.3 L306.2,522.7 L306.2,521.9 L306.3,521.1 L306.3,520.1 L306.4,519.1 L306.5,518.1 L306.6,517.1 L306.7,516.2 L306.8,515.3 L306.9,514.6 L306.9,514.0 L307.0,511.8 L306.8,510.7 L306.3,510.0 L305.6,509.4 L304.6,509.0 L302.4,508.7 L300.3,508.6 L299.2,508.8 L298.4,509.3 L297.8,510.0 L297.4,511.0Z" fill="#2a3cb6" filter="url(#b1)" opacity="0.9"/>
<path d="M299.0,513.3 L298.9,513.9 L298.9,514.6 L298.8,515.4 L298.7,516.4 L298.6,517.4 L298.5,518.5 L298.4,519.6 L298.4,520.6 L298.3,521.7 L298.3,522.7 L298.3,523.6 L298.3,524.5 L298.4,525.5 L298.4,526.4 L298.5,527.2 L298.5,528.0 L298.6,528.8 L298.7,529.4 L298.7,529.9 L298.7,530.3 L299.0,531.7 L299.3,532.4 L299.7,532.9 L300.2,533.2 L300.9,533.3 L302.4,533.2 L303.8,533.0 L304.5,532.7 L305.0,532.3 L305.3,531.7 L305.4,531.0 L305.3,529.6 L305.2,529.1 L305.1,528.5 L305.0,527.9 L304.9,527.2 L304.8,526.5 L304.7,525.7 L304.6,524.9 L304.5,524.1 L304.4,523.4 L304.4,522.7 L304.4,521.9 L304.4,521.0 L304.5,520.0 L304.6,519.0 L304.7,517.9 L304.8,516.9 L304.9,516.0 L304.9,515.1 L305.0,514.4 L305.1,513.8 L305.1,512.5 L305.0,511.8 L304.7,511.3 L304.3,511.0 L303.6,510.7 L302.3,510.5 L300.9,510.5 L300.2,510.6 L299.8,510.9 L299.4,511.3 L299.1,512.0Z" fill="#3650d0" filter="url(#b4)" opacity="0.9"/>
<path d="M317.2,513.1 L317.2,513.7 L317.2,514.3 L317.2,515.1 L317.2,516.0 L317.2,517.0 L317.2,518.0 L317.2,519.0 L317.2,520.1 L317.2,521.1 L317.2,522.0 L317.2,522.9 L317.1,523.9 L317.1,524.9 L317.0,525.9 L316.9,527.0 L316.9,527.9 L316.8,528.8 L316.8,529.6 L316.7,530.3 L316.7,530.8 L316.9,534.1 L317.3,535.7 L318.1,536.8 L319.2,537.5 L320.8,538.0 L324.0,538.1 L327.3,538.0 L328.9,537.5 L330.0,536.8 L330.7,535.7 L331.2,534.1 L331.3,530.8 L331.3,530.3 L331.3,529.6 L331.2,528.8 L331.2,527.9 L331.1,527.0 L331.0,525.9 L331.0,524.9 L330.9,523.9 L330.9,522.9 L330.9,522.0 L330.9,521.1 L330.8,520.1 L330.8,519.0 L330.8,518.0 L330.8,517.0 L330.8,516.0 L330.9,515.1 L330.9,514.3 L330.9,513.7 L330.9,513.1 L330.7,510.1 L330.3,508.6 L329.6,507.6 L328.5,506.9 L327.1,506.4 L324.0,506.3 L321.0,506.4 L319.5,506.9 L318.5,507.6 L317.8,508.6 L317.3,510.1Z" fill="#1e1e84" filter="url(#b1)" opacity="1.0"/>
<path d="M318.8,513.1 L318.8,513.7 L318.8,514.3 L318.8,515.1 L318.8,516.0 L318.8,517.0 L318.8,518.0 L318.8,519.0 L318.8,520.1 L318.8,521.1 L318.8,522.0 L318.7,522.9 L318.7,523.9 L318.7,524.9 L318.6,525.9 L318.6,527.0 L318.5,527.9 L318.5,528.8 L318.5,529.6 L318.4,530.3 L318.4,530.8 L318.5,533.3 L318.9,534.5 L319.5,535.4 L320.3,536.0 L321.5,536.3 L324.0,536.5 L326.5,536.3 L327.7,536.0 L328.6,535.4 L329.2,534.5 L329.5,533.3 L329.7,530.8 L329.6,530.3 L329.6,529.6 L329.6,528.8 L329.5,527.9 L329.5,527.0 L329.4,525.9 L329.4,524.9 L329.3,523.9 L329.3,522.9 L329.3,522.0 L329.3,521.1 L329.3,520.1 L329.3,519.0 L329.3,518.0 L329.3,517.0 L329.3,516.0 L329.3,515.1 L329.3,514.3 L329.3,513.7 L329.3,513.1 L329.2,510.8 L328.9,509.7 L328.3,508.9 L327.5,508.3 L326.4,508.0 L324.0,507.9 L321.7,508.0 L320.6,508.3 L319.8,508.9 L319.2,509.7 L318.9,510.8Z" fill="#2a3cb6" filter="url(#b1)" opacity="1.0"/>
<path d="M320.7,513.1 L320.7,513.7 L320.7,514.3 L320.7,515.1 L320.7,516.0 L320.8,517.0 L320.8,518.0 L320.8,519.0 L320.8,520.1 L320.7,521.1 L320.7,522.0 L320.7,522.9 L320.7,523.9 L320.7,524.9 L320.7,525.9 L320.6,527.0 L320.6,527.9 L320.6,528.8 L320.5,529.6 L320.5,530.3 L320.5,530.8 L320.6,532.4 L320.8,533.1 L321.2,533.7 L321.7,534.1 L322.5,534.3 L324.0,534.3 L325.6,534.3 L326.3,534.1 L326.9,533.7 L327.3,533.1 L327.5,532.4 L327.5,530.8 L327.5,530.3 L327.5,529.6 L327.5,528.8 L327.5,527.9 L327.4,527.0 L327.4,525.9 L327.4,524.9 L327.4,523.9 L327.3,522.9 L327.3,522.0 L327.3,521.1 L327.3,520.1 L327.3,519.0 L327.3,518.0 L327.3,517.0 L327.3,516.0 L327.3,515.1 L327.3,514.3 L327.3,513.7 L327.3,513.1 L327.3,511.7 L327.0,511.0 L326.7,510.5 L326.2,510.1 L325.5,509.9 L324.0,509.8 L322.6,509.9 L321.9,510.1 L321.4,510.5 L321.0,511.0 L320.8,511.7Z" fill="#3650d0" filter="url(#b4)" opacity="1.0"/>
<path d="M355.1,501.2 L355.0,502.1 L354.8,503.2 L354.7,504.5 L354.5,505.9 L354.3,507.4 L354.1,509.0 L353.9,510.6 L353.6,512.2 L353.4,513.7 L353.1,515.1 L352.8,516.4 L352.4,517.7 L351.9,519.2 L351.4,520.7 L350.9,522.2 L350.3,523.9 L349.8,525.6 L349.3,527.5 L349.0,529.4 L348.7,531.3 L348.5,533.4 L348.4,535.5 L348.4,537.6 L348.5,539.6 L348.6,541.6 L348.7,543.5 L348.8,545.3 L349.0,546.7 L349.1,548.0 L349.1,548.9 L349.3,552.9 L349.9,554.8 L350.9,556.1 L352.3,557.1 L354.2,557.6 L358.2,557.7 L362.2,557.5 L364.1,556.9 L365.4,555.9 L366.4,554.6 L366.9,552.6 L367.0,548.6 L367.1,547.6 L367.1,546.2 L367.1,544.7 L367.1,543.0 L367.2,541.3 L367.2,539.5 L367.3,537.7 L367.3,536.0 L367.4,534.4 L367.5,533.0 L367.5,531.8 L367.6,530.4 L367.7,529.0 L367.9,527.5 L368.0,526.0 L368.2,524.4 L368.4,522.7 L368.6,521.0 L368.8,519.3 L368.9,517.5 L369.1,515.8 L369.2,514.1 L369.4,512.3 L369.5,510.6 L369.7,508.9 L369.8,507.4 L369.9,505.9 L370.0,504.7 L370.1,503.6 L370.1,502.8 L370.3,499.4 L370.0,497.8 L369.3,496.5 L368.3,495.6 L366.7,495.0 L363.4,494.5 L360.0,494.3 L358.4,494.6 L357.1,495.3 L356.2,496.3 L355.6,497.9Z" fill="#1e1e84" filter="url(#b1)" opacity="1.0"/>
<path d="M356.8,501.4 L356.7,502.3 L356.6,503.4 L356.4,504.6 L356.3,506.0 L356.1,507.6 L355.9,509.2 L355.7,510.8 L355.4,512.4 L355.2,513.9 L354.9,515.4 L354.6,516.7 L354.2,518.1 L353.8,519.6 L353.3,521.1 L352.8,522.7 L352.3,524.3 L351.9,526.0 L351.5,527.8 L351.1,529.6 L350.8,531.5 L350.7,533.5 L350.6,535.5 L350.6,537.6 L350.7,539.6 L350.7,541.6 L350.8,543.5 L350.9,545.2 L351.1,546.7 L351.1,547.9 L351.2,548.8 L351.4,551.9 L351.8,553.4 L352.5,554.4 L353.6,555.1 L355.1,555.6 L358.2,555.7 L361.2,555.5 L362.7,555.0 L363.7,554.3 L364.5,553.2 L364.9,551.7 L365.0,548.7 L365.0,547.6 L365.0,546.3 L365.0,544.8 L365.0,543.1 L365.0,541.3 L365.1,539.5 L365.1,537.7 L365.2,535.9 L365.2,534.3 L365.3,532.8 L365.4,531.5 L365.5,530.1 L365.7,528.6 L365.9,527.1 L366.0,525.5 L366.3,523.9 L366.5,522.3 L366.7,520.6 L366.9,518.9 L367.1,517.2 L367.3,515.6 L367.4,513.9 L367.6,512.1 L367.7,510.4 L367.9,508.8 L368.0,507.2 L368.1,505.8 L368.2,504.5 L368.3,503.4 L368.4,502.6 L368.5,500.0 L368.3,498.8 L367.8,497.8 L367.0,497.1 L365.8,496.6 L363.2,496.2 L360.6,496.1 L359.3,496.3 L358.4,496.8 L357.7,497.6 L357.2,498.8Z" fill="#2a3cb6" filter="url(#b1)" opacity="1.0"/>
<path d="M359.0,501.6 L358.9,502.5 L358.8,503.6 L358.6,504.8 L358.5,506.3 L358.3,507.8 L358.1,509.4 L357.9,511.0 L357.7,512.7 L357.5,514.2 L357.2,515.7 L356.9,517.1 L356.6,518.6 L356.2,520.1 L355.7,521.6 L355.3,523.2 L354.9,524.8 L354.5,526.5 L354.1,528.2 L353.8,530.0 L353.5,531.8 L353.4,533.7 L353.3,535.6 L353.3,537.6 L353.4,539.6 L353.4,541.5 L353.5,543.4 L353.6,545.1 L353.7,546.6 L353.7,547.9 L353.8,548.8 L353.9,550.7 L354.1,551.7 L354.6,552.3 L355.3,552.7 L356.2,553.0 L358.1,553.1 L360.0,553.0 L361.0,552.7 L361.6,552.2 L362.1,551.5 L362.3,550.6 L362.4,548.7 L362.4,547.7 L362.4,546.4 L362.4,544.9 L362.4,543.2 L362.3,541.4 L362.4,539.5 L362.4,537.7 L362.4,535.8 L362.5,534.1 L362.6,532.6 L362.7,531.1 L362.9,529.7 L363.1,528.1 L363.3,526.6 L363.6,525.0 L363.8,523.4 L364.1,521.8 L364.4,520.2 L364.6,518.5 L364.8,516.9 L365.0,515.3 L365.2,513.6 L365.4,511.9 L365.5,510.2 L365.7,508.5 L365.8,507.0 L365.9,505.6 L366.0,504.3 L366.1,503.2 L366.2,502.4 L366.3,500.8 L366.2,500.0 L365.8,499.4 L365.3,498.9 L364.6,498.6 L363.0,498.4 L361.4,498.3 L360.6,498.4 L360.0,498.8 L359.5,499.3 L359.2,500.0Z" fill="#3650d0" filter="url(#b4)" opacity="1.0"/>
<path d="M379.6,501.1 L379.5,502.0 L379.3,503.0 L379.1,504.3 L378.9,505.7 L378.7,507.2 L378.5,508.9 L378.2,510.5 L378.0,512.2 L377.8,513.8 L377.5,515.4 L377.3,516.8 L377.0,518.3 L376.7,519.9 L376.3,521.5 L376.0,523.2 L375.7,524.9 L375.4,526.7 L375.2,528.5 L375.0,530.3 L374.9,532.2 L375.0,534.2 L375.2,536.1 L375.5,538.0 L375.8,539.8 L376.1,541.6 L376.5,543.2 L376.8,544.6 L377.2,545.8 L377.4,546.8 L377.5,547.6 L378.2,551.3 L379.0,553.0 L380.0,554.2 L381.4,554.9 L383.3,555.2 L387.1,554.9 L390.8,554.3 L392.5,553.5 L393.7,552.4 L394.4,551.0 L394.7,549.2 L394.4,545.4 L394.3,544.5 L394.3,543.3 L394.2,542.0 L394.1,540.6 L394.0,539.1 L394.0,537.6 L393.9,536.1 L393.9,534.7 L393.8,533.3 L393.8,532.2 L393.8,531.0 L393.8,529.7 L393.9,528.3 L393.9,526.9 L394.0,525.3 L394.0,523.8 L394.1,522.1 L394.2,520.5 L394.3,518.8 L394.4,517.2 L394.5,515.6 L394.6,514.0 L394.8,512.4 L394.9,510.7 L395.0,509.1 L395.1,507.5 L395.3,506.1 L395.4,504.8 L395.5,503.8 L395.5,502.9 L395.8,499.3 L395.5,497.6 L394.8,496.3 L393.6,495.3 L392.0,494.6 L388.5,494.0 L384.9,493.8 L383.1,494.1 L381.8,494.8 L380.8,495.9 L380.2,497.6Z" fill="#1e1e84" filter="url(#b1)" opacity="1.0"/>
<path d="M381.4,501.3 L381.3,502.2 L381.2,503.2 L381.0,504.5 L380.8,505.9 L380.6,507.5 L380.4,509.1 L380.2,510.7 L379.9,512.4 L379.7,514.1 L379.5,515.6 L379.2,517.1 L379.0,518.6 L378.7,520.1 L378.4,521.7 L378.1,523.4 L377.8,525.1 L377.5,526.8 L377.3,528.6 L377.2,530.4 L377.1,532.2 L377.2,534.1 L377.4,535.9 L377.6,537.8 L377.9,539.6 L378.2,541.3 L378.5,542.9 L378.8,544.3 L379.1,545.6 L379.3,546.5 L379.5,547.3 L380.0,550.2 L380.6,551.5 L381.4,552.4 L382.5,553.0 L383.9,553.2 L386.8,553.0 L389.7,552.5 L391.0,551.9 L391.9,551.1 L392.5,550.0 L392.7,548.5 L392.5,545.6 L392.4,544.7 L392.3,543.6 L392.2,542.3 L392.1,540.9 L392.0,539.4 L391.9,537.9 L391.8,536.3 L391.7,534.8 L391.7,533.4 L391.6,532.2 L391.7,530.9 L391.7,529.6 L391.7,528.1 L391.8,526.6 L391.9,525.1 L392.0,523.5 L392.1,521.9 L392.2,520.3 L392.4,518.6 L392.5,517.0 L392.6,515.4 L392.7,513.8 L392.9,512.2 L393.0,510.5 L393.1,508.9 L393.3,507.3 L393.4,505.9 L393.5,504.6 L393.6,503.5 L393.7,502.7 L393.9,500.0 L393.6,498.6 L393.1,497.6 L392.2,496.8 L391.0,496.3 L388.3,495.9 L385.5,495.7 L384.1,495.9 L383.1,496.5 L382.4,497.3 L381.9,498.6Z" fill="#2a3cb6" filter="url(#b1)" opacity="1.0"/>
<path d="M383.7,501.6 L383.6,502.4 L383.5,503.5 L383.3,504.8 L383.1,506.2 L383.0,507.7 L382.7,509.3 L382.5,511.0 L382.3,512.7 L382.1,514.3 L381.9,515.9 L381.7,517.4 L381.5,518.9 L381.2,520.5 L380.9,522.1 L380.7,523.7 L380.4,525.4 L380.2,527.1 L380.0,528.8 L379.9,530.5 L379.8,532.2 L379.9,533.9 L380.0,535.7 L380.2,537.5 L380.5,539.2 L380.8,540.9 L381.1,542.5 L381.3,543.9 L381.6,545.2 L381.8,546.2 L381.9,547.0 L382.2,548.8 L382.6,549.6 L383.1,550.2 L383.8,550.5 L384.7,550.7 L386.5,550.5 L388.3,550.2 L389.1,549.9 L389.7,549.4 L390.0,548.7 L390.2,547.8 L390.0,546.0 L389.9,545.1 L389.8,544.0 L389.7,542.7 L389.5,541.3 L389.4,539.7 L389.2,538.2 L389.1,536.6 L389.0,535.0 L388.9,533.5 L388.9,532.2 L388.9,530.8 L389.0,529.4 L389.1,527.9 L389.2,526.4 L389.3,524.8 L389.4,523.2 L389.6,521.6 L389.7,519.9 L389.9,518.3 L390.0,516.8 L390.2,515.2 L390.3,513.6 L390.5,511.9 L390.6,510.2 L390.8,508.6 L390.9,507.1 L391.1,505.6 L391.2,504.4 L391.3,503.3 L391.4,502.4 L391.5,500.7 L391.4,499.9 L391.0,499.2 L390.5,498.8 L389.7,498.4 L388.0,498.2 L386.3,498.1 L385.4,498.2 L384.8,498.5 L384.3,499.1 L384.0,499.9Z" fill="#3650d0" filter="url(#b4)" opacity="1.0"/>
<circle cx="299.7" cy="533.8" r="2.60" fill="#30140c" opacity="0.9" filter="url(#b5)"/>
<circle cx="305.4" cy="534.5" r="2.60" fill="#30140c" opacity="0.9" filter="url(#b5)"/>
<circle cx="299.7" cy="511.8" r="2.90" fill="#5a2030" opacity="0.55" filter="url(#b5)"/>
<circle cx="299.7" cy="511.8" r="2.00" fill="#f08a18" filter="url(#b2)"/>
<circle cx="299.7" cy="511.8" r="1.00" fill="#ffc838" filter="url(#b3)"/>
<circle cx="304.3" cy="512.4" r="2.90" fill="#5a2030" opacity="0.55" filter="url(#b5)"/>
<circle cx="304.3" cy="512.4" r="2.00" fill="#f08a18" filter="url(#b2)"/>
<circle cx="304.3" cy="512.4" r="1.00" fill="#ffc838" filter="url(#b3)"/>
<circle cx="302.0" cy="518.6" r="3.80" fill="#5a2030" opacity="0.55" filter="url(#b5)"/>
<circle cx="302.0" cy="518.6" r="2.90" fill="#f08a18" filter="url(#b2)"/>
<circle cx="302.0" cy="518.6" r="1.70" fill="#ffc030" filter="url(#b2)"/>
<circle cx="321.3" cy="511.8" r="2.90" fill="#5a2030" opacity="0.55" filter="url(#b5)"/>
<circle cx="321.3" cy="511.8" r="2.00" fill="#f08a18" filter="url(#b2)"/>
<circle cx="321.3" cy="511.8" r="1.00" fill="#ffc838" filter="url(#b3)"/>
<circle cx="326.5" cy="511.8" r="2.90" fill="#5a2030" opacity="0.55" filter="url(#b5)"/>
<circle cx="326.5" cy="511.8" r="2.00" fill="#f08a18" filter="url(#b2)"/>
<circle cx="326.5" cy="511.8" r="1.00" fill="#ffc838" filter="url(#b3)"/>
<circle cx="324.0" cy="515.9" r="3.80" fill="#5a2030" opacity="0.55" filter="url(#b5)"/>
<circle cx="324.0" cy="515.9" r="2.90" fill="#f08a18" filter="url(#b2)"/>
<circle cx="324.0" cy="515.9" r="1.70" fill="#ffc030" filter="url(#b2)"/>
<circle cx="320.9" cy="532.6" r="2.90" fill="#5a2030" opacity="0.55" filter="url(#b5)"/>
<circle cx="320.9" cy="532.6" r="2.00" fill="#f08a18" filter="url(#b2)"/>
<circle cx="320.9" cy="532.6" r="1.00" fill="#ffc838" filter="url(#b3)"/>
<circle cx="327.7" cy="531.7" r="2.90" fill="#5a2030" opacity="0.55" filter="url(#b5)"/>
<circle cx="327.7" cy="531.7" r="2.00" fill="#f08a18" filter="url(#b2)"/>
<circle cx="327.7" cy="531.7" r="1.00" fill="#ffc838" filter="url(#b3)"/>
<circle cx="360.6" cy="501.1" r="2.90" fill="#5a2030" opacity="0.55" filter="url(#b5)"/>
<circle cx="360.6" cy="501.1" r="2.00" fill="#f08a18" filter="url(#b2)"/>
<circle cx="360.6" cy="501.1" r="1.00" fill="#ffc838" filter="url(#b3)"/>
<circle cx="364.9" cy="501.1" r="2.90" fill="#5a2030" opacity="0.55" filter="url(#b5)"/>
<circle cx="364.9" cy="501.1" r="2.00" fill="#f08a18" filter="url(#b2)"/>
<circle cx="364.9" cy="501.1" r="1.00" fill="#ffc838" filter="url(#b3)"/>
<circle cx="355.3" cy="549.7" r="2.90" fill="#5a2030" opacity="0.55" filter="url(#b5)"/>
<circle cx="355.3" cy="549.7" r="2.00" fill="#f08a18" filter="url(#b2)"/>
<circle cx="355.3" cy="549.7" r="1.00" fill="#ffc838" filter="url(#b3)"/>
<circle cx="359.9" cy="549.7" r="2.90" fill="#5a2030" opacity="0.55" filter="url(#b5)"/>
<circle cx="359.9" cy="549.7" r="2.00" fill="#f08a18" filter="url(#b2)"/>
<circle cx="359.9" cy="549.7" r="1.00" fill="#ffc838" filter="url(#b3)"/>
<circle cx="383.7" cy="502.0" r="2.90" fill="#5a2030" opacity="0.55" filter="url(#b5)"/>
<circle cx="383.7" cy="502.0" r="2.00" fill="#f08a18" filter="url(#b2)"/>
<circle cx="383.7" cy="502.0" r="1.00" fill="#ffc838" filter="url(#b3)"/>
<circle cx="391.6" cy="502.0" r="2.90" fill="#5a2030" opacity="0.55" filter="url(#b5)"/>
<circle cx="391.6" cy="502.0" r="2.00" fill="#f08a18" filter="url(#b2)"/>
<circle cx="391.6" cy="502.0" r="1.00" fill="#ffc838" filter="url(#b3)"/>
<circle cx="383.0" cy="545.4" r="2.90" fill="#5a2030" opacity="0.55" filter="url(#b5)"/>
<circle cx="383.0" cy="545.4" r="2.00" fill="#f08a18" filter="url(#b2)"/>
<circle cx="383.0" cy="545.4" r="1.00" fill="#ffc838" filter="url(#b3)"/>
<circle cx="388.9" cy="545.8" r="2.90" fill="#5a2030" opacity="0.55" filter="url(#b5)"/>
<circle cx="388.9" cy="545.8" r="2.00" fill="#f08a18" filter="url(#b2)"/>
<circle cx="388.9" cy="545.8" r="1.00" fill="#ffc838" filter="url(#b3)"/>
<text x="294.5" y="540.4" font-size="5.4" fill="#fff" text-anchor="middle" style="font-family:'DejaVu Sans',sans-serif">&#9733;</text>
<text transform="translate(291.9,553.7) scale(0.91,1)" font-size="10.8" fill="#f4f4f4">Cell 7</text>
</g>
<g>
<path d="M412.3,514.6 L412.2,515.1 L412.2,515.8 L412.1,516.6 L412.1,517.6 L412.0,518.6 L412.0,519.7 L411.9,520.8 L411.9,521.9 L411.8,523.1 L411.8,524.2 L411.8,525.3 L411.9,526.4 L411.9,527.6 L412.0,528.7 L412.0,529.9 L412.1,531.0 L412.1,532.0 L412.2,532.9 L412.2,533.6 L412.3,534.1 L412.5,536.7 L412.9,538.0 L413.6,538.8 L414.5,539.4 L415.8,539.7 L418.4,539.7 L421.0,539.4 L422.2,539.0 L423.0,538.3 L423.6,537.4 L423.9,536.1 L423.9,533.5 L423.9,532.9 L423.8,532.2 L423.8,531.3 L423.7,530.3 L423.6,529.3 L423.6,528.2 L423.5,527.1 L423.5,526.0 L423.5,525.0 L423.5,524.2 L423.5,523.3 L423.5,522.3 L423.5,521.3 L423.6,520.3 L423.6,519.2 L423.7,518.3 L423.8,517.3 L423.8,516.5 L423.9,515.8 L423.9,515.2 L423.9,512.6 L423.6,511.3 L423.1,510.4 L422.2,509.8 L421.0,509.3 L418.4,509.1 L415.8,509.1 L414.5,509.4 L413.6,509.9 L412.9,510.8 L412.5,512.0Z" fill="#1e1e84" filter="url(#b1)" opacity="0.84"/>
<path d="M413.6,514.7 L413.6,515.2 L413.5,515.9 L413.5,516.7 L413.4,517.6 L413.4,518.7 L413.3,519.7 L413.2,520.9 L413.2,522.0 L413.2,523.1 L413.2,524.2 L413.2,525.2 L413.2,526.4 L413.2,527.5 L413.3,528.7 L413.4,529.8 L413.4,530.9 L413.5,531.9 L413.5,532.8 L413.6,533.5 L413.6,534.1 L413.8,536.1 L414.1,537.0 L414.6,537.7 L415.3,538.1 L416.3,538.3 L418.3,538.3 L420.3,538.1 L421.2,537.8 L421.9,537.3 L422.3,536.6 L422.6,535.6 L422.6,533.6 L422.5,533.0 L422.5,532.3 L422.4,531.4 L422.4,530.4 L422.3,529.3 L422.3,528.2 L422.2,527.1 L422.2,526.1 L422.1,525.1 L422.1,524.2 L422.1,523.3 L422.2,522.3 L422.2,521.2 L422.3,520.2 L422.3,519.2 L422.4,518.2 L422.4,517.3 L422.5,516.4 L422.5,515.7 L422.5,515.1 L422.6,513.1 L422.3,512.2 L421.9,511.5 L421.2,510.9 L420.3,510.6 L418.3,510.4 L416.3,510.4 L415.3,510.6 L414.6,511.1 L414.1,511.7 L413.8,512.7Z" fill="#2a3cb6" filter="url(#b1)" opacity="0.84"/>
<path d="M415.3,514.7 L415.3,515.3 L415.2,516.0 L415.2,516.8 L415.1,517.7 L415.0,518.8 L415.0,519.8 L414.9,520.9 L414.9,522.0 L414.9,523.1 L414.8,524.2 L414.9,525.2 L414.9,526.3 L414.9,527.4 L415.0,528.6 L415.0,529.7 L415.1,530.8 L415.2,531.8 L415.2,532.7 L415.3,533.4 L415.3,534.0 L415.4,535.2 L415.6,535.8 L415.9,536.2 L416.4,536.5 L417.0,536.6 L418.2,536.6 L419.5,536.5 L420.1,536.3 L420.5,536.0 L420.7,535.6 L420.9,534.9 L420.9,533.7 L420.8,533.1 L420.8,532.4 L420.7,531.5 L420.7,530.5 L420.6,529.4 L420.6,528.3 L420.5,527.2 L420.5,526.1 L420.5,525.1 L420.4,524.2 L420.5,523.2 L420.5,522.2 L420.5,521.2 L420.6,520.1 L420.6,519.1 L420.7,518.1 L420.7,517.1 L420.8,516.3 L420.8,515.6 L420.9,515.0 L420.9,513.8 L420.7,513.2 L420.5,512.7 L420.1,512.4 L419.5,512.2 L418.2,512.1 L417.0,512.1 L416.4,512.2 L415.9,512.5 L415.6,512.9 L415.4,513.5Z" fill="#3650d0" filter="url(#b4)" opacity="0.84"/>
<path d="M429.5,515.1 L429.5,515.7 L429.5,516.5 L429.4,517.4 L429.4,518.5 L429.4,519.6 L429.4,520.9 L429.3,522.1 L429.4,523.4 L429.4,524.6 L429.5,525.8 L429.6,526.9 L429.8,528.1 L430.0,529.3 L430.2,530.5 L430.4,531.7 L430.6,532.8 L430.8,533.8 L431.0,534.6 L431.2,535.4 L431.3,535.9 L431.7,538.5 L432.3,539.7 L433.0,540.5 L434.0,541.0 L435.2,541.1 L437.8,540.9 L440.4,540.4 L441.6,539.9 L442.4,539.2 L442.8,538.2 L443.0,536.9 L442.8,534.3 L442.7,533.7 L442.7,532.9 L442.6,532.0 L442.5,531.0 L442.4,530.0 L442.3,528.9 L442.2,527.8 L442.2,526.7 L442.1,525.6 L442.0,524.7 L441.9,523.7 L441.8,522.7 L441.7,521.6 L441.6,520.4 L441.5,519.2 L441.4,518.1 L441.3,517.1 L441.2,516.1 L441.2,515.3 L441.1,514.7 L440.9,512.1 L440.5,510.9 L439.9,510.0 L439.0,509.4 L437.7,509.1 L435.1,509.1 L432.5,509.3 L431.3,509.7 L430.4,510.3 L429.8,511.2 L429.5,512.5Z" fill="#1e1e84" filter="url(#b1)" opacity="0.84"/>
<path d="M430.8,515.0 L430.8,515.7 L430.8,516.4 L430.8,517.4 L430.8,518.4 L430.8,519.6 L430.8,520.8 L430.8,522.0 L430.8,523.3 L430.9,524.5 L430.9,525.6 L431.0,526.8 L431.2,528.0 L431.4,529.1 L431.6,530.3 L431.8,531.5 L432.0,532.6 L432.2,533.6 L432.3,534.4 L432.5,535.2 L432.6,535.7 L433.0,537.7 L433.4,538.6 L433.9,539.2 L434.7,539.6 L435.7,539.8 L437.6,539.6 L439.6,539.2 L440.5,538.8 L441.1,538.2 L441.5,537.5 L441.6,536.5 L441.5,534.5 L441.4,533.9 L441.3,533.1 L441.2,532.2 L441.1,531.2 L441.0,530.2 L440.9,529.1 L440.8,527.9 L440.7,526.8 L440.6,525.8 L440.5,524.8 L440.5,523.8 L440.4,522.8 L440.3,521.6 L440.2,520.5 L440.1,519.3 L440.0,518.2 L440.0,517.1 L439.9,516.2 L439.8,515.4 L439.8,514.7 L439.6,512.7 L439.3,511.8 L438.8,511.1 L438.1,510.7 L437.1,510.4 L435.1,510.4 L433.2,510.6 L432.2,510.9 L431.5,511.4 L431.1,512.1 L430.9,513.1Z" fill="#2a3cb6" filter="url(#b1)" opacity="0.84"/>
<path d="M432.5,515.0 L432.5,515.6 L432.5,516.4 L432.5,517.3 L432.5,518.4 L432.5,519.5 L432.5,520.7 L432.6,522.0 L432.6,523.2 L432.7,524.4 L432.7,525.5 L432.8,526.6 L433.0,527.7 L433.2,528.9 L433.3,530.1 L433.5,531.2 L433.7,532.3 L433.9,533.3 L434.0,534.2 L434.2,534.9 L434.3,535.5 L434.5,536.7 L434.7,537.3 L435.1,537.7 L435.5,537.9 L436.2,538.0 L437.4,537.9 L438.6,537.7 L439.2,537.4 L439.6,537.1 L439.8,536.6 L439.9,536.0 L439.8,534.8 L439.7,534.2 L439.6,533.4 L439.5,532.5 L439.4,531.5 L439.3,530.4 L439.2,529.3 L439.1,528.2 L438.9,527.0 L438.8,526.0 L438.7,525.0 L438.7,524.0 L438.6,522.9 L438.5,521.7 L438.4,520.5 L438.4,519.3 L438.3,518.2 L438.2,517.2 L438.2,516.2 L438.1,515.4 L438.1,514.8 L438.0,513.6 L437.8,513.0 L437.5,512.5 L437.1,512.3 L436.5,512.1 L435.2,512.1 L434.0,512.2 L433.4,512.4 L433.0,512.7 L432.7,513.1 L432.5,513.7Z" fill="#3650d0" filter="url(#b4)" opacity="0.84"/>
<path d="M460.5,501.7 L460.6,502.4 L460.9,503.3 L461.1,504.3 L461.4,505.3 L461.7,506.4 L461.9,507.6 L462.1,508.8 L462.3,510.0 L462.4,511.2 L462.4,512.3 L462.3,513.5 L462.1,514.7 L461.8,516.1 L461.5,517.5 L461.1,519.0 L460.7,520.5 L460.3,522.1 L460.0,523.7 L459.7,525.3 L459.6,527.0 L459.5,528.6 L459.4,530.3 L459.5,532.0 L459.5,533.8 L459.6,535.5 L459.7,537.1 L459.8,538.6 L459.9,539.9 L460.0,541.0 L460.0,541.8 L460.1,545.0 L460.5,546.6 L461.2,547.7 L462.3,548.5 L463.8,549.0 L467.0,549.2 L470.2,549.1 L471.7,548.7 L472.9,548.0 L473.6,546.9 L474.1,545.4 L474.3,542.2 L474.4,541.3 L474.6,540.2 L474.7,538.9 L474.9,537.4 L475.1,535.8 L475.2,534.2 L475.4,532.5 L475.5,530.9 L475.6,529.3 L475.7,527.8 L475.7,526.4 L475.6,525.0 L475.6,523.5 L475.5,521.9 L475.4,520.3 L475.3,518.7 L475.2,517.1 L475.1,515.5 L475.0,513.9 L475.0,512.3 L474.9,510.7 L474.9,509.2 L474.8,507.7 L474.8,506.3 L474.8,504.9 L474.8,503.6 L474.7,502.5 L474.7,501.5 L474.7,500.7 L474.7,500.1 L474.2,496.9 L473.6,495.5 L472.8,494.5 L471.6,493.8 L470.0,493.6 L466.8,493.8 L463.7,494.3 L462.2,494.9 L461.2,495.7 L460.6,496.9 L460.3,498.5Z" fill="#1e1e84" filter="url(#b1)" opacity="0.72"/>
<path d="M462.1,501.5 L462.3,502.2 L462.5,503.1 L462.7,504.1 L462.9,505.1 L463.2,506.3 L463.4,507.4 L463.6,508.7 L463.8,509.9 L463.9,511.1 L463.9,512.3 L463.8,513.5 L463.6,514.8 L463.4,516.2 L463.1,517.6 L462.8,519.1 L462.4,520.7 L462.1,522.3 L461.8,523.8 L461.6,525.5 L461.4,527.1 L461.3,528.7 L461.3,530.4 L461.3,532.1 L461.3,533.8 L461.4,535.5 L461.5,537.1 L461.5,538.6 L461.6,539.9 L461.6,541.0 L461.7,541.9 L461.7,544.3 L462.0,545.5 L462.6,546.4 L463.4,547.0 L464.6,547.4 L467.0,547.5 L469.5,547.5 L470.7,547.2 L471.5,546.6 L472.1,545.8 L472.5,544.6 L472.7,542.2 L472.8,541.3 L472.9,540.2 L473.0,538.9 L473.1,537.4 L473.3,535.8 L473.4,534.1 L473.5,532.5 L473.7,530.8 L473.8,529.2 L473.8,527.7 L473.8,526.3 L473.8,524.8 L473.8,523.3 L473.8,521.7 L473.7,520.1 L473.7,518.5 L473.6,516.9 L473.6,515.4 L473.6,513.8 L473.5,512.3 L473.5,510.8 L473.4,509.3 L473.4,507.8 L473.3,506.4 L473.3,505.1 L473.2,503.8 L473.2,502.7 L473.1,501.7 L473.1,500.9 L473.1,500.3 L472.7,497.9 L472.2,496.7 L471.6,495.9 L470.7,495.5 L469.5,495.3 L467.0,495.4 L464.6,495.8 L463.4,496.3 L462.7,496.9 L462.2,497.8 L462.0,499.1Z" fill="#2a3cb6" filter="url(#b1)" opacity="0.72"/>
<path d="M464.2,501.3 L464.3,502.0 L464.5,502.8 L464.6,503.8 L464.9,504.9 L465.1,506.0 L465.3,507.3 L465.4,508.5 L465.6,509.8 L465.7,511.1 L465.7,512.3 L465.6,513.6 L465.5,514.9 L465.3,516.3 L465.1,517.8 L464.8,519.3 L464.6,520.9 L464.3,522.5 L464.1,524.0 L463.9,525.6 L463.7,527.2 L463.7,528.8 L463.6,530.4 L463.6,532.2 L463.6,533.9 L463.6,535.6 L463.6,537.2 L463.7,538.6 L463.7,540.0 L463.7,541.1 L463.7,541.9 L463.8,543.5 L464.0,544.2 L464.3,544.8 L464.8,545.1 L465.6,545.4 L467.1,545.5 L468.6,545.4 L469.4,545.2 L469.9,544.9 L470.3,544.4 L470.5,543.6 L470.6,542.1 L470.7,541.2 L470.8,540.1 L470.8,538.8 L470.9,537.3 L471.0,535.7 L471.1,534.1 L471.3,532.4 L471.3,530.7 L471.4,529.1 L471.5,527.6 L471.5,526.1 L471.6,524.6 L471.6,523.1 L471.6,521.5 L471.7,520.0 L471.7,518.4 L471.7,516.8 L471.7,515.3 L471.7,513.8 L471.7,512.3 L471.7,510.9 L471.6,509.4 L471.5,508.0 L471.5,506.6 L471.4,505.3 L471.3,504.0 L471.2,502.9 L471.1,501.9 L471.1,501.1 L471.0,500.5 L470.8,499.0 L470.5,498.3 L470.1,497.8 L469.5,497.5 L468.8,497.4 L467.2,497.5 L465.7,497.7 L465.0,498.0 L464.5,498.4 L464.2,499.0 L464.1,499.7Z" fill="#3650d0" filter="url(#b4)" opacity="0.72"/>
<path d="M488.9,503.4 L488.9,503.9 L488.9,504.7 L488.9,505.6 L488.9,506.6 L488.9,507.8 L488.9,509.0 L488.9,510.4 L488.9,511.7 L488.9,513.1 L488.9,514.6 L488.9,516.0 L488.8,517.6 L488.7,519.2 L488.7,520.8 L488.6,522.4 L488.5,524.1 L488.5,525.7 L488.4,527.2 L488.4,528.7 L488.4,530.0 L488.5,531.3 L488.6,532.6 L488.8,533.9 L489.0,535.1 L489.2,536.3 L489.4,537.4 L489.6,538.4 L489.7,539.3 L489.9,540.1 L490.0,540.7 L490.3,543.7 L490.8,545.1 L491.6,546.1 L492.6,546.7 L494.1,547.1 L497.1,547.0 L500.1,546.7 L501.5,546.2 L502.5,545.4 L503.1,544.4 L503.4,542.9 L503.4,539.9 L503.4,539.3 L503.5,538.5 L503.5,537.6 L503.6,536.5 L503.7,535.4 L503.7,534.2 L503.7,533.0 L503.7,531.7 L503.7,530.4 L503.6,529.1 L503.5,527.7 L503.3,526.2 L503.1,524.7 L502.8,523.1 L502.5,521.5 L502.2,520.0 L502.0,518.4 L501.7,517.0 L501.6,515.6 L501.5,514.4 L501.4,513.2 L501.4,512.0 L501.5,510.8 L501.6,509.6 L501.7,508.5 L501.9,507.4 L502.0,506.4 L502.2,505.5 L502.3,504.7 L502.3,504.0 L502.3,501.0 L502.0,499.6 L501.3,498.5 L500.4,497.8 L498.9,497.3 L496.0,497.0 L493.0,497.0 L491.5,497.3 L490.4,498.0 L489.7,499.0 L489.2,500.4Z" fill="#1e1e84" filter="url(#b1)" opacity="0.84"/>
<path d="M490.5,503.4 L490.4,504.0 L490.4,504.8 L490.4,505.7 L490.4,506.7 L490.4,507.9 L490.4,509.1 L490.4,510.4 L490.4,511.8 L490.4,513.1 L490.4,514.5 L490.3,516.0 L490.3,517.5 L490.3,519.1 L490.2,520.7 L490.2,522.3 L490.2,524.0 L490.1,525.6 L490.1,527.1 L490.2,528.6 L490.2,529.9 L490.3,531.2 L490.4,532.5 L490.5,533.8 L490.7,535.0 L490.9,536.2 L491.0,537.3 L491.2,538.3 L491.3,539.2 L491.4,540.0 L491.5,540.6 L491.8,542.9 L492.2,544.0 L492.8,544.7 L493.6,545.2 L494.7,545.5 L497.0,545.5 L499.3,545.2 L500.4,544.8 L501.1,544.2 L501.6,543.4 L501.9,542.3 L501.8,540.0 L501.9,539.4 L501.9,538.6 L501.9,537.7 L502.0,536.6 L502.0,535.5 L502.0,534.3 L502.0,533.1 L502.0,531.8 L502.0,530.5 L501.9,529.2 L501.8,527.8 L501.6,526.3 L501.4,524.8 L501.1,523.2 L500.9,521.7 L500.7,520.1 L500.4,518.5 L500.2,517.0 L500.1,515.7 L500.0,514.4 L500.0,513.2 L500.0,512.0 L500.1,510.7 L500.2,509.6 L500.3,508.4 L500.4,507.3 L500.5,506.3 L500.6,505.4 L500.7,504.6 L500.8,504.0 L500.8,501.7 L500.5,500.5 L500.0,499.7 L499.3,499.1 L498.2,498.8 L495.9,498.5 L493.6,498.5 L492.4,498.8 L491.6,499.3 L491.0,500.0 L490.7,501.1Z" fill="#2a3cb6" filter="url(#b1)" opacity="0.84"/>
<path d="M492.4,503.5 L492.4,504.1 L492.4,504.9 L492.3,505.8 L492.3,506.8 L492.3,508.0 L492.2,509.2 L492.2,510.5 L492.2,511.8 L492.2,513.1 L492.2,514.5 L492.2,515.9 L492.2,517.4 L492.2,519.0 L492.2,520.6 L492.2,522.2 L492.2,523.8 L492.2,525.4 L492.3,527.0 L492.3,528.4 L492.4,529.8 L492.5,531.1 L492.6,532.4 L492.7,533.6 L492.8,534.9 L492.9,536.1 L493.1,537.2 L493.2,538.2 L493.3,539.1 L493.4,539.9 L493.5,540.5 L493.6,541.9 L493.9,542.6 L494.2,543.1 L494.7,543.4 L495.4,543.6 L496.9,543.5 L498.3,543.4 L499.0,543.1 L499.5,542.8 L499.8,542.3 L499.9,541.5 L499.9,540.1 L499.9,539.5 L499.9,538.7 L499.9,537.8 L499.9,536.8 L499.9,535.7 L499.9,534.5 L499.9,533.2 L499.8,531.9 L499.8,530.6 L499.7,529.3 L499.6,528.0 L499.4,526.5 L499.3,525.0 L499.1,523.4 L498.9,521.8 L498.7,520.2 L498.5,518.6 L498.4,517.1 L498.3,515.7 L498.2,514.4 L498.2,513.2 L498.2,511.9 L498.3,510.7 L498.3,509.5 L498.4,508.3 L498.5,507.2 L498.6,506.2 L498.7,505.3 L498.8,504.5 L498.8,503.9 L498.8,502.4 L498.7,501.7 L498.4,501.2 L497.9,500.8 L497.2,500.6 L495.8,500.5 L494.3,500.5 L493.6,500.6 L493.1,500.9 L492.8,501.4 L492.5,502.1Z" fill="#3650d0" filter="url(#b4)" opacity="0.84"/>
<circle cx="418.5" cy="536.0" r="1.76" fill="#5a2030" opacity="0.5" filter="url(#b5)"/>
<circle cx="418.5" cy="536.0" r="1.12" fill="#d87818" filter="url(#b2)"/>
<circle cx="434.9" cy="513.8" r="1.76" fill="#5a2030" opacity="0.5" filter="url(#b5)"/>
<circle cx="434.9" cy="513.8" r="1.12" fill="#d87818" filter="url(#b2)"/>
<circle cx="462.2" cy="541.8" r="1.76" fill="#5a2030" opacity="0.5" filter="url(#b5)"/>
<circle cx="462.2" cy="541.8" r="1.12" fill="#d87818" filter="url(#b2)"/>
<circle cx="415.5" cy="513.8" r="2.32" fill="#5a2030" opacity="0.55" filter="url(#b5)"/>
<circle cx="415.5" cy="513.8" r="1.60" fill="#f08a18" filter="url(#b2)"/>
<circle cx="415.5" cy="513.8" r="0.80" fill="#ffc838" filter="url(#b3)"/>
<circle cx="420.2" cy="514.0" r="2.32" fill="#5a2030" opacity="0.55" filter="url(#b5)"/>
<circle cx="420.2" cy="514.0" r="1.60" fill="#f08a18" filter="url(#b2)"/>
<circle cx="420.2" cy="514.0" r="0.80" fill="#ffc838" filter="url(#b3)"/>
<circle cx="434.2" cy="533.4" r="2.32" fill="#5a2030" opacity="0.55" filter="url(#b5)"/>
<circle cx="434.2" cy="533.4" r="1.60" fill="#f08a18" filter="url(#b2)"/>
<circle cx="434.2" cy="533.4" r="0.80" fill="#ffc838" filter="url(#b3)"/>
<circle cx="439.0" cy="536.4" r="2.32" fill="#5a2030" opacity="0.55" filter="url(#b5)"/>
<circle cx="439.0" cy="536.4" r="1.60" fill="#f08a18" filter="url(#b2)"/>
<circle cx="439.0" cy="536.4" r="0.80" fill="#ffc838" filter="url(#b3)"/>
<circle cx="463.7" cy="499.8" r="2.32" fill="#5a2030" opacity="0.55" filter="url(#b5)"/>
<circle cx="463.7" cy="499.8" r="1.60" fill="#f08a18" filter="url(#b2)"/>
<circle cx="463.7" cy="499.8" r="0.80" fill="#ffc838" filter="url(#b3)"/>
<circle cx="470.8" cy="500.9" r="2.32" fill="#5a2030" opacity="0.55" filter="url(#b5)"/>
<circle cx="470.8" cy="500.9" r="1.60" fill="#f08a18" filter="url(#b2)"/>
<circle cx="470.8" cy="500.9" r="0.80" fill="#ffc838" filter="url(#b3)"/>
<circle cx="493.0" cy="500.0" r="2.32" fill="#5a2030" opacity="0.55" filter="url(#b5)"/>
<circle cx="493.0" cy="500.0" r="1.60" fill="#f08a18" filter="url(#b2)"/>
<circle cx="493.0" cy="500.0" r="0.80" fill="#ffc838" filter="url(#b3)"/>
<circle cx="497.8" cy="500.9" r="2.32" fill="#5a2030" opacity="0.55" filter="url(#b5)"/>
<circle cx="497.8" cy="500.9" r="1.60" fill="#f08a18" filter="url(#b2)"/>
<circle cx="497.8" cy="500.9" r="0.80" fill="#ffc838" filter="url(#b3)"/>
<circle cx="497.8" cy="543.5" r="2.32" fill="#5a2030" opacity="0.55" filter="url(#b5)"/>
<circle cx="497.8" cy="543.5" r="1.60" fill="#f08a18" filter="url(#b2)"/>
<circle cx="497.8" cy="543.5" r="0.80" fill="#ffc838" filter="url(#b3)"/>
<text x="410.5" y="540.1" font-size="5.4" fill="#fff" text-anchor="middle" style="font-family:'DejaVu Sans',sans-serif">&#9733;</text>
<text transform="translate(409.4,553.7) scale(0.91,1)" font-size="10.8" fill="#f4f4f4">Cell 8</text>
</g>
<rect x="158.25" y="399.20" width="1.9" height="162.30" fill="#fff"/>
<rect x="283.85" y="399.20" width="1.9" height="162.30" fill="#fff"/>
<rect x="401.05" y="399.20" width="1.9" height="162.30" fill="#fff"/>
<rect x="40.50" y="480.05" width="472.40" height="1.9" fill="#fff"/>
</svg>
</body></html>
